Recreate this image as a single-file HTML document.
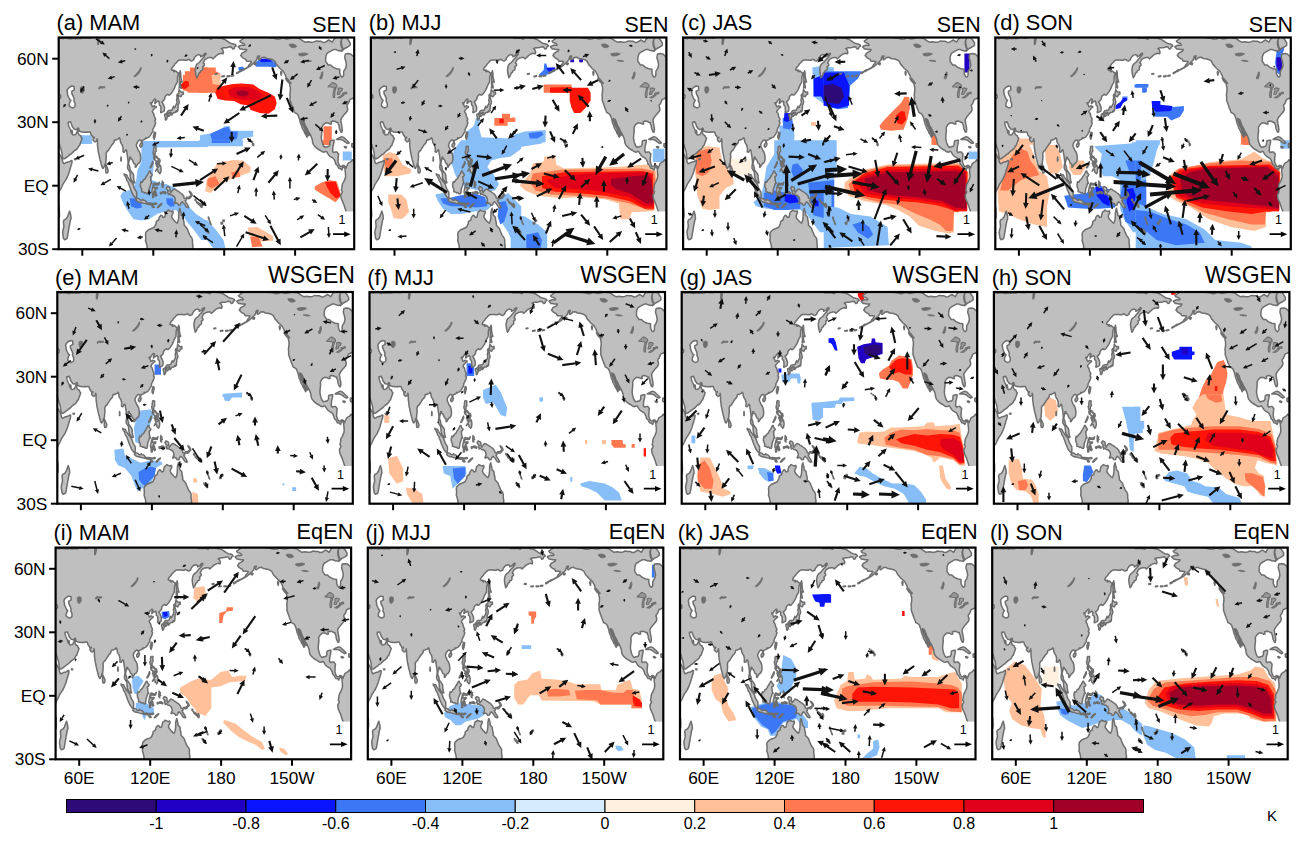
<!DOCTYPE html><html><head><meta charset="utf-8"><style>html,body{margin:0;padding:0;background:#fff;}svg{display:block;font-family:"Liberation Sans",sans-serif;}</style></head><body>
<svg width="1308" height="844" viewBox="0 0 1308 844">
<defs>
<clipPath id="cp"><rect x="0" y="0" width="295.5" height="211.7"/></clipPath>
<marker id="ah" viewBox="0 0 10 10" refX="9" refY="5" markerWidth="4" markerHeight="4" orient="auto" markerUnits="strokeWidth"><path d="M0,1L10,5L0,9z" fill="#000"/></marker>
<path id="lf" d="M-11.8,222.3 -5.9,222.3 -5.3,199.0 -5.6,194.8 -5.9,190.5 -4.1,188.4 -2.4,185.2 -0.6,183.1 0.6,179.9 0.8,177.8 0.6,171.5 -0.2,167.2 -0.8,163.0 -1.3,160.9 -0.9,158.1 0.0,155.6 0.9,153.1 1.9,151.8 3.0,149.5 4.1,146.9 5.9,144.2 7.7,141.4 9.2,138.0 10.4,134.9 11.3,131.7 12.4,128.1 13.1,126.0 13.4,123.2 12.4,123.0 10.6,124.3 8.3,124.7 6.5,125.7 5.1,126.2 3.9,124.3 3.7,122.4 2.8,120.2 1.9,118.8 1.1,117.1 0.0,115.4 -0.8,114.5 -3.5,108.0 -4.1,93.6 -3.0,97.0 -1.8,99.5 -1.1,102.0 -0.2,104.8 0.8,107.3 1.7,110.1 2.6,112.8 3.2,115.4 3.4,117.5 3.8,120.0 4.1,121.3 5.3,121.3 6.1,121.1 7.7,119.8 9.5,118.6 11.2,117.1 13.0,116.0 14.4,114.5 16.0,113.0 17.7,112.0 19.3,110.3 20.1,108.4 21.0,107.8 21.9,105.0 22.8,102.9 23.4,100.8 22.5,99.9 22.0,98.2 21.0,97.8 20.1,97.0 19.4,95.5 19.3,93.6 19.4,92.5 18.9,92.7 18.3,94.2 17.1,96.7 16.0,97.2 14.4,97.4 13.7,96.7 13.7,94.6 13.4,92.9 13.0,93.6 12.8,95.7 12.2,94.2 11.9,92.3 11.2,91.0 10.5,89.5 9.9,87.9 9.5,86.2 9.5,84.7 10.2,84.7 10.9,84.5 11.8,84.3 12.3,85.7 12.9,86.8 13.4,88.7 14.2,89.8 15.4,91.5 16.5,91.9 17.5,92.1 18.4,91.5 19.3,90.6 20.0,91.0 20.4,93.1 21.0,93.8 22.5,94.4 24.2,94.6 25.5,94.8 26.6,94.8 27.8,94.6 29.0,94.8 30.1,94.4 31.4,94.4 32.0,95.7 32.5,97.4 33.3,98.2 33.9,99.3 34.3,99.9 35.7,99.7 35.5,100.6 34.5,101.0 34.3,102.3 35.2,103.5 36.3,104.4 37.2,103.9 38.1,103.1 38.4,101.2 38.7,102.7 38.8,104.8 38.8,107.5 39.0,109.4 39.4,112.2 39.6,114.3 40.1,116.4 40.5,118.6 41.0,120.7 41.4,122.4 42.0,124.3 42.4,126.2 42.9,128.1 43.5,130.0 44.3,131.0 44.9,130.2 45.3,129.1 46.3,128.5 46.1,126.6 47.0,126.2 47.2,123.8 47.5,120.7 47.6,118.6 47.4,116.0 48.0,114.5 48.7,113.5 49.9,112.8 50.1,112.0 51.4,110.1 52.5,108.4 53.2,107.3 54.4,106.1 55.3,104.8 55.6,102.9 56.5,102.3 57.3,102.5 58.5,101.8 59.7,101.4 60.5,100.3 61.2,101.0 61.6,103.3 61.8,104.6 62.6,106.1 63.5,107.5 64.2,109.7 64.4,112.0 64.2,114.3 65.0,114.7 65.6,114.7 66.4,113.3 67.3,112.2 68.0,113.3 68.2,115.4 68.6,117.5 68.9,120.0 69.3,122.8 69.4,125.5 68.9,128.5 68.9,130.6 69.3,131.7 70.1,132.9 71.2,134.6 71.4,137.2 71.7,139.7 72.2,141.8 73.0,143.1 74.1,144.4 75.1,145.4 76.0,145.2 75.4,142.9 74.9,140.1 74.9,137.8 74.1,135.9 73.3,135.1 72.5,133.6 71.5,132.7 71.2,130.6 70.8,128.7 70.0,127.2 70.0,125.3 70.3,123.8 70.8,122.2 70.9,120.7 71.3,119.6 72.0,119.8 72.0,121.3 72.9,121.5 73.6,122.4 74.2,123.6 74.6,124.9 75.2,126.0 76.1,126.2 76.6,127.4 76.6,129.8 77.2,129.6 77.9,128.1 78.6,127.4 79.1,126.2 79.9,126.0 80.8,125.1 81.4,124.1 81.8,122.8 82.0,121.1 81.9,119.4 81.6,116.9 81.2,115.6 80.6,114.3 79.9,113.3 79.2,112.0 78.6,110.5 78.0,109.2 77.7,108.2 77.8,106.7 78.2,105.8 78.8,104.6 79.5,103.7 80.4,102.7 81.1,102.3 81.8,102.7 82.5,102.9 82.6,104.6 83.0,105.2 83.3,105.0 83.3,103.3 84.2,102.7 84.9,102.3 85.8,102.0 86.6,101.4 87.0,100.3 87.7,101.0 88.6,100.3 89.6,99.9 90.4,99.5 91.3,98.4 92.0,97.4 92.7,96.3 93.1,95.3 93.9,94.4 94.1,93.1 94.2,91.7 94.8,90.8 95.4,89.3 96.0,88.5 96.3,87.2 96.8,86.0 96.9,84.7 96.1,84.0 96.3,83.0 96.8,82.4 96.7,81.1 96.0,79.8 95.6,79.0 95.3,77.5 94.8,75.8 94.0,74.9 93.6,74.1 94.2,72.8 94.9,72.0 95.6,71.1 96.5,70.3 97.5,69.9 97.5,69.0 96.3,68.8 95.4,68.2 94.3,69.2 93.6,69.4 93.3,68.4 92.9,67.3 92.0,66.3 91.7,65.4 92.3,65.2 93.3,65.4 94.0,63.9 94.8,62.9 95.7,61.8 96.7,61.6 97.2,62.5 96.5,63.7 96.1,64.6 96.5,65.2 96.1,66.1 96.6,65.8 97.2,65.0 98.1,64.4 99.1,63.9 99.8,63.5 100.2,64.4 100.8,64.8 100.6,66.1 100.8,67.7 101.8,68.4 102.2,69.9 102.2,71.3 102.4,72.8 102.0,74.1 102.1,75.2 103.1,74.9 103.7,74.5 104.6,74.1 105.4,73.7 105.7,72.4 105.8,70.9 105.7,69.6 105.2,68.4 104.6,66.9 104.0,65.6 103.4,64.8 103.5,63.9 104.4,63.5 105.2,62.5 106.0,61.6 106.1,60.1 106.7,58.6 107.4,58.0 108.2,57.4 109.1,56.7 109.9,57.6 110.9,57.6 111.9,56.5 112.9,55.3 113.9,53.8 115.0,52.1 115.8,50.4 116.4,48.7 117.0,47.4 118.0,45.7 118.6,44.5 118.8,42.3 118.8,40.2 119.1,38.3 119.7,37.0 119.5,35.6 118.6,34.9 117.7,33.9 116.7,33.4 115.6,34.3 114.9,33.9 115.4,32.8 114.4,32.6 113.5,32.8 112.6,32.2 113.0,30.7 114.2,29.2 115.4,27.9 116.4,26.3 117.6,25.2 118.9,23.7 120.2,22.7 121.5,22.4 122.9,22.4 124.7,22.4 126.5,22.7 128.2,22.7 129.5,21.8 130.7,22.2 131.8,23.1 133.0,23.5 134.0,22.9 135.1,22.4 135.2,21.4 135.9,20.1 137.1,18.6 138.3,17.6 139.7,17.1 141.1,17.4 142.2,18.2 142.0,19.3 143.5,18.6 144.6,17.8 145.5,16.5 146.0,15.9 147.0,15.7 147.4,16.3 146.8,17.4 146.0,18.4 145.0,19.9 143.8,21.0 142.5,22.4 141.6,23.7 140.4,25.0 139.0,26.0 138.1,26.9 137.3,28.4 136.9,30.3 136.6,32.4 136.8,34.7 137.2,37.0 137.8,39.4 137.9,40.2 138.9,39.0 139.9,36.8 140.3,35.6 141.6,34.7 142.0,33.4 143.8,32.4 144.3,30.7 144.0,29.2 144.8,28.6 145.7,27.9 145.6,26.3 144.6,25.6 144.8,24.6 145.7,23.3 146.3,21.8 147.5,21.4 148.7,20.5 149.9,20.3 150.9,20.1 153.1,20.1 154.1,21.4 155.4,20.3 156.6,19.1 157.8,18.0 159.0,17.1 160.8,16.3 162.5,15.7 164.3,16.3 164.8,15.0 164.3,13.1 163.5,11.6 162.5,11.2 163.7,10.6 165.5,10.2 167.3,10.2 169.0,9.9 170.8,9.3 172.6,9.5 174.1,11.6 175.5,11.0 175.9,9.3 177.5,8.5 176.7,7.2 174.9,6.4 172.6,6.1 170.8,5.1 169.0,3.8 166.7,2.3 164.3,1.3 160.8,0.6 157.2,0.2 154.3,-0.2 152.5,1.7 150.1,0.8 146.6,0.6 143.0,0.8 140.7,-1.3 135.9,-2.1 130.0,-3.2 118.2,-5.3 106.4,-6.4 88.6,-8.5 70.9,-14.8 59.1,-12.7 53.2,-8.5 50.8,-2.1 50.2,0.0 48.5,-2.1 47.3,-5.3 44.9,-5.3 41.4,-5.3 40.5,3.2 39.7,6.8 39.1,6.8 39.2,3.2 39.5,0.0 39.6,-4.2 35.5,-6.4 33.7,-2.1 31.9,0.4 30.7,0.8 28.4,0.6 24.2,0.2 22.5,1.1 18.9,0.8 16.5,1.3 14.2,0.8 11.8,1.5 9.5,1.1 7.1,0.8 5.3,0.6 4.1,1.3 1.2,0.6 0.0,0.8 -3.5,0.6 -8.3,0.4 -11.8,0.0 -11.8,222.3ZM179.5,9.3 181.4,11.4 182.7,11.6 185.0,12.1 187.9,12.1 187.3,13.5 186.8,13.8 184.4,15.2 183.2,15.9 182.6,17.4 182.0,18.0 183.8,20.1 185.6,21.2 186.8,21.6 187.9,23.7 190.3,23.7 192.7,23.9 192.1,25.4 190.3,27.5 189.1,29.6 186.8,30.9 185.0,31.8 183.8,32.6 184.4,32.6 186.8,31.3 189.1,30.1 191.5,28.6 193.8,26.5 196.2,24.3 198.0,22.2 198.6,20.1 199.2,18.6 200.9,18.6 199.8,20.5 200.1,22.0 200.9,22.2 203.3,20.1 205.7,19.7 208.0,21.0 211.6,21.6 213.9,22.2 216.3,23.9 216.9,25.4 217.8,27.1 219.3,28.6 221.0,30.7 223.4,32.8 224.6,33.9 225.8,36.0 226.9,38.1 227.5,40.2 228.1,41.3 229.9,42.8 231.1,44.5 231.3,45.7 230.8,46.2 231.7,50.4 231.7,52.9 231.3,56.1 231.1,57.6 231.4,59.3 231.3,62.7 232.0,64.6 232.9,67.3 233.4,68.4 233.8,69.9 234.2,70.9 235.0,72.6 235.7,74.9 237.0,75.6 238.1,76.2 239.1,77.1 239.7,78.5 240.3,80.0 240.9,82.1 241.4,84.3 241.7,85.7 242.5,87.4 243.1,88.9 243.3,90.2 244.1,91.7 245.3,93.6 246.0,95.7 247.0,96.7 247.6,98.2 248.3,99.7 248.7,98.9 248.5,97.4 247.9,96.7 247.4,95.3 246.8,93.1 246.1,91.2 245.3,89.8 244.7,88.3 244.1,86.8 243.4,85.1 242.7,83.0 242.5,81.1 243.0,81.3 244.1,81.9 245.0,83.6 245.7,85.5 246.4,87.9 247.4,89.5 248.6,91.5 249.6,94.0 250.6,95.5 251.8,97.6 252.8,99.9 253.7,102.5 253.8,104.6 254.7,107.1 255.9,108.6 257.1,109.9 258.3,110.9 260.0,112.0 261.8,113.0 263.6,114.3 265.4,114.7 266.5,114.1 267.7,113.9 268.9,115.8 270.1,117.7 271.3,118.8 273.0,119.8 274.6,120.9 275.4,121.9 276.6,124.3 276.9,126.0 277.5,127.0 278.4,127.7 279.0,128.7 279.7,130.2 280.1,130.8 281.3,131.0 282.5,131.5 283.2,132.5 283.7,131.0 284.3,129.6 284.9,129.1 286.0,130.4 286.4,131.9 286.5,133.8 286.8,136.3 286.9,138.7 286.6,140.6 285.7,142.7 284.9,144.6 284.0,145.9 283.6,147.1 283.3,149.2 283.1,150.7 282.7,152.8 283.7,154.1 283.2,155.6 282.1,157.5 282.4,159.8 282.7,161.5 283.9,164.1 285.2,167.2 286.0,169.8 286.9,172.5 287.8,175.3 288.3,177.8 289.2,179.9 290.2,181.6 291.6,183.1 292.7,184.2 294.0,185.9 295.1,187.4 295.3,190.5 295.4,194.8 295.0,197.9 294.9,202.2 294.6,206.4 294.0,210.6 293.7,213.8 307.3,213.8 307.3,124.9 296.1,124.5 295.5,122.8 294.3,123.2 293.7,122.2 292.8,123.6 292.0,124.3 290.8,124.9 289.9,125.5 289.0,126.4 288.6,127.9 287.8,128.9 287.5,130.6 286.9,129.8 286.0,128.5 285.5,128.1 284.3,127.9 283.3,128.7 282.5,129.1 281.7,129.1 280.7,128.1 279.8,125.7 279.3,123.8 279.4,121.1 279.7,118.1 279.9,116.4 279.0,115.6 278.4,114.5 276.8,114.5 274.8,115.0 273.9,113.7 274.0,111.6 274.2,109.2 274.8,106.9 275.2,105.0 275.4,102.7 274.2,102.7 272.5,103.1 271.5,103.5 271.2,105.2 271.3,106.9 270.1,109.0 268.9,109.0 268.3,109.2 266.5,109.9 265.0,108.6 264.2,106.9 263.6,105.2 263.2,103.7 262.8,101.6 262.6,100.6 262.9,96.3 263.2,94.2 263.3,93.1 263.1,90.0 263.7,88.9 264.2,87.9 265.1,86.8 265.9,86.2 267.1,85.3 268.3,85.5 269.5,85.5 270.7,86.2 271.3,86.6 272.8,86.4 272.6,85.3 272.3,84.3 273.3,83.8 274.2,83.6 275.8,83.8 276.6,84.0 278.4,85.1 279.3,84.9 279.5,86.2 280.4,88.3 280.5,90.0 281.1,92.1 281.6,93.1 282.3,94.6 283.0,94.8 283.3,93.8 283.6,92.1 283.4,90.4 283.1,88.5 282.6,86.2 282.3,84.0 282.0,82.6 282.6,81.1 283.4,79.8 284.6,78.3 285.5,77.1 286.3,76.2 287.2,75.2 288.4,73.7 289.0,72.0 288.8,70.3 288.2,68.8 288.4,67.3 289.0,66.7 289.6,66.1 289.9,65.0 290.5,64.1 290.8,62.5 292.0,61.6 293.1,61.2 294.6,60.5 295.5,59.9 296.1,59.3 307.3,59.3 307.3,25.4 296.7,20.1 295.5,19.9 294.3,18.6 292.0,16.5 289.6,16.1 286.6,16.5 286.0,20.1 287.2,24.3 287.7,27.5 286.9,30.7 285.0,33.9 284.9,38.1 283.7,39.6 282.5,39.2 281.1,36.0 281.0,31.8 277.8,31.3 274.2,29.6 271.9,27.5 269.5,27.5 266.9,23.7 267.1,19.1 268.3,15.9 271.0,14.2 273.0,13.1 274.8,12.1 277.2,12.1 279.5,13.1 281.3,13.5 283.1,13.1 284.0,11.6 282.9,9.9 282.3,7.4 282.1,4.2 283.0,1.5 284.3,-0.4 285.5,-2.1 279.0,-3.2 276.6,0.0 274.8,2.5 273.6,4.7 271.9,3.6 270.1,2.5 268.3,3.6 266.5,4.7 264.2,4.9 262.4,3.8 260.0,3.8 257.7,3.4 255.3,4.4 252.4,4.7 249.4,4.2 246.4,4.7 244.1,3.4 242.3,2.1 240.5,0.8 237.6,0.4 235.2,-0.2 232.9,0.6 230.5,1.1 228.1,1.5 225.8,0.8 223.4,0.4 221.0,1.5 218.7,1.7 216.3,1.1 213.9,0.6 211.6,0.4 209.2,-0.2 206.8,-0.6 203.3,-1.3 199.8,-1.9 196.2,-2.3 193.3,-3.0 190.3,-1.9 186.8,-0.8 184.4,1.1 182.6,2.5 181.1,3.6 182.0,4.9 183.8,5.5 185.0,5.9 186.2,7.4 185.0,8.0 183.8,7.6 182.0,8.0 180.3,8.7ZM11.0,173.6 12.1,177.8 12.4,181.0 11.6,183.1 11.1,185.9 10.4,189.5 9.7,193.7 9.0,197.9 8.4,200.9 7.1,201.8 5.9,202.2 4.7,200.7 4.3,197.9 3.9,194.8 4.5,191.6 5.2,189.5 5.0,186.3 4.7,184.2 5.3,182.5 6.5,181.9 7.7,181.0 8.9,179.3 9.5,177.4 10.4,174.9ZM47.2,127.4 47.6,128.1 48.5,130.2 49.4,132.3 49.3,134.4 48.5,135.5 47.4,135.3 47.0,133.4 47.0,130.6ZM95.7,94.6 96.8,95.1 96.7,97.0 96.1,99.9 95.5,101.8 94.8,100.1 94.7,98.4 95.4,96.1ZM83.6,105.6 83.9,106.5 83.3,108.4 82.1,109.7 81.2,109.0 81.1,107.3 81.9,106.1 83.0,105.6ZM106.0,76.8 107.0,76.4 107.8,77.1 108.4,77.9 108.5,79.8 107.9,81.7 107.2,82.6 106.6,81.9 106.6,80.0 106.1,79.0 105.9,77.7ZM109.3,76.6 109.9,75.8 111.3,75.6 111.9,76.6 111.3,77.7 110.2,78.8 109.5,78.5ZM107.4,76.2 108.4,74.9 109.5,73.2 110.5,73.0 111.7,72.8 112.8,72.8 113.4,72.4 113.8,71.3 114.3,70.1 114.9,68.8 115.0,70.3 116.1,69.9 116.8,68.2 117.6,66.9 118.1,65.4 118.2,63.7 117.8,62.5 118.3,61.0 118.9,61.0 119.6,60.5 120.0,62.2 120.6,64.4 120.1,66.5 119.4,67.3 119.4,69.2 119.3,70.7 119.0,72.0 119.3,72.6 118.6,73.9 118.0,74.3 117.8,73.2 117.3,73.7 116.8,74.9 116.2,74.9 114.9,74.9 114.5,75.6 113.8,76.4 113.1,77.5 112.4,76.4 112.6,75.2 111.8,74.7 110.5,75.2 109.3,75.8 108.4,76.2ZM118.2,60.3 118.6,58.9 118.0,58.2 118.7,56.5 119.9,56.5 120.1,54.4 120.4,52.1 121.4,53.6 122.7,54.8 124.5,54.4 124.7,56.5 123.2,57.2 122.1,59.3 121.2,58.9 120.0,58.0 119.3,58.2 119.5,59.7 118.8,60.3ZM120.4,50.6 120.8,48.1 120.6,45.5 120.8,42.8 120.7,40.2 120.9,37.0 120.3,35.4 121.2,34.9 121.5,33.2 122.0,35.6 122.1,39.2 122.7,42.3 123.4,44.5 122.0,44.0 121.6,46.6 122.3,49.5 122.2,50.6 121.3,49.5ZM95.3,109.0 96.1,108.8 97.3,109.0 97.2,111.6 97.5,113.7 96.5,114.7 96.3,117.5 97.2,118.6 98.1,119.0 99.3,120.7 99.4,121.5 98.3,120.7 97.6,119.6 96.7,119.0 95.6,119.4 95.3,117.9 94.7,116.6 94.3,114.3 94.9,113.9 95.0,111.1ZM94.9,119.6 96.1,119.8 96.3,121.7 95.9,122.4 95.3,121.5ZM94.0,124.1 94.2,126.0 93.1,128.1 92.1,130.0 91.3,130.4 91.7,129.1 92.8,127.0 93.6,124.9ZM99.6,121.7 100.8,121.5 101.4,123.8 100.8,125.3 99.6,127.0 100.2,125.3 99.6,123.8ZM96.8,123.0 98.3,123.8 98.0,126.0 96.9,126.0 97.6,124.5ZM97.4,125.1 98.7,125.1 98.5,128.5 98.0,128.9 97.6,127.4ZM99.1,124.3 99.4,125.7 98.8,128.1 98.5,127.7 98.9,126.0ZM96.9,133.4 98.1,131.5 98.9,130.0 100.2,129.1 101.1,127.4 101.9,128.5 102.4,131.9 102.0,134.9 101.1,136.3 100.7,135.3 99.5,134.6 99.3,132.7 98.7,131.9 97.9,132.5 96.9,133.6ZM82.3,144.2 81.7,147.1 81.9,149.5 83.0,151.8 82.9,154.3 84.5,154.5 85.7,155.4 86.9,155.0 88.1,156.2 89.7,156.2 90.2,153.5 90.5,150.9 91.6,148.2 92.1,146.1 93.1,145.9 92.2,143.3 92.0,141.0 91.7,139.3 92.8,138.7 93.6,137.2 92.1,135.5 91.4,133.6 90.7,133.6 90.0,135.1 89.2,136.5 88.6,137.6 87.8,138.7 87.3,139.7 86.3,141.4 84.9,142.3 84.3,143.5 83.4,144.8ZM65.4,136.3 66.5,137.2 68.0,137.2 68.9,139.3 70.3,141.4 71.9,143.7 72.7,144.6 73.9,146.1 74.6,147.6 75.3,150.1 76.1,151.6 76.8,152.8 77.8,154.3 78.0,156.7 77.8,160.5 76.9,160.5 76.2,159.8 75.4,158.8 74.2,157.1 73.6,155.6 72.5,153.3 72.0,152.0 71.4,150.3 70.7,148.2 70.0,146.5 69.4,144.6 68.2,143.1 67.6,141.0 66.7,139.1 65.6,137.6ZM77.1,162.6 78.0,160.7 79.2,160.9 80.7,161.5 81.6,162.6 83.2,162.8 83.9,161.7 84.7,162.6 85.8,162.8 86.9,163.4 87.9,164.7 88.1,166.6 86.9,166.0 85.1,165.8 83.3,165.3 81.6,164.7 80.4,164.7 78.6,163.9 77.4,162.8ZM88.2,165.3 89.8,165.8 91.0,165.5 92.8,165.8 94.0,166.0 95.7,166.0 97.5,165.5 98.1,166.2 96.9,166.8 95.2,166.8 93.4,166.8 91.6,167.2 90.1,167.0 88.9,166.8ZM93.4,168.1 94.9,168.5 95.5,169.8 94.3,170.0 93.3,168.9ZM98.7,170.0 99.9,168.5 101.1,167.2 103.1,166.0 102.8,166.8 101.1,168.5 99.9,169.8 99.1,170.2ZM93.9,160.0 93.9,156.7 93.1,154.5 93.5,152.0 94.3,148.4 94.7,146.9 95.7,145.4 97.5,146.1 99.3,146.3 100.7,144.8 100.0,147.3 98.5,147.6 96.8,147.1 95.5,147.3 94.9,149.2 95.5,150.5 96.5,150.1 97.6,149.9 98.6,150.1 98.0,151.4 96.7,151.6 96.2,152.6 97.2,154.5 97.4,156.2 98.2,157.7 97.4,158.6 96.5,157.7 95.9,156.0 95.7,153.9 95.0,154.3 94.8,155.6 95.0,159.8ZM103.5,143.5 104.1,145.6 104.8,145.0 104.3,146.5 105.1,147.6 104.4,147.8 103.9,149.0 104.3,150.1 103.4,149.5 103.3,146.9ZM104.0,154.3 105.8,154.1 107.3,155.4 107.0,156.2 105.2,155.4 104.3,155.6ZM101.7,155.0 102.8,154.8 103.1,155.8 102.2,156.4 101.7,155.8ZM107.6,150.7 108.7,149.0 110.5,149.7 111.2,150.3 111.5,153.5 112.3,155.2 112.9,153.9 113.9,152.8 115.2,151.4 116.8,152.0 118.2,153.1 119.4,153.7 121.2,155.0 122.7,156.0 123.6,156.9 125.1,158.8 125.3,160.5 127.1,160.9 127.4,162.6 126.5,163.0 127.4,165.1 128.8,167.2 130.1,169.8 129.4,170.2 127.7,169.6 126.5,167.9 125.5,166.2 123.5,164.3 122.3,165.5 121.7,167.5 120.0,167.7 118.8,166.0 117.0,165.3 116.2,166.0 115.4,166.0 116.1,164.1 116.7,162.8 116.0,159.8 114.1,157.9 112.3,157.5 110.6,156.0 109.7,156.9 108.9,154.3 109.9,153.3 109.0,152.8 107.9,151.4ZM128.0,159.8 129.4,159.8 130.6,159.4 131.8,158.4 132.7,157.1 132.6,158.8 131.2,160.7 130.0,161.3 128.2,160.7ZM130.6,153.7 131.8,154.5 133.0,156.2 133.6,157.9 133.2,158.4 132.3,156.7 131.1,155.0ZM136.5,161.5 137.3,162.2 137.1,163.2 136.3,162.6ZM137.7,163.9 139.5,165.1 141.2,166.6 142.4,167.9 141.8,168.5 140.1,167.0 138.3,165.5ZM141.6,167.7 142.8,168.1 143.6,169.4 143.0,170.0 141.8,168.9ZM142.5,165.8 143.6,167.7 143.4,168.5 142.5,166.8ZM146.6,191.0 147.8,191.8 149.5,193.9 150.2,195.6 149.6,195.6 148.0,193.7 146.8,192.0ZM149.6,179.5 150.4,180.4 150.5,182.5 151.8,185.4 152.4,187.1 151.7,186.3 150.9,183.3 149.8,181.2ZM162.3,185.0 163.7,184.8 163.8,186.5 162.4,186.5ZM164.2,182.7 165.5,182.5 165.7,183.5 164.3,184.0ZM15.7,121.5 17.1,121.3 16.9,122.2 16.0,122.2ZM62.3,119.4 62.6,121.7 62.4,123.6 62.1,123.4 62.2,121.1ZM86.3,213.8 88.6,213.8 88.5,210.6 88.2,207.9 87.5,205.3 86.8,203.2 87.1,200.1 86.8,196.9 87.2,194.8 87.7,194.3 89.8,192.2 92.2,191.2 94.0,190.5 95.7,189.5 97.3,186.3 97.5,184.2 98.7,183.1 99.8,182.7 100.5,179.9 102.2,177.8 103.4,178.3 104.4,179.9 106.0,179.5 106.7,176.3 107.3,174.4 108.7,173.6 109.5,172.5 110.5,173.2 111.7,173.6 112.9,174.0 114.1,173.4 114.5,174.9 114.1,176.1 113.4,177.2 112.9,179.3 113.7,181.0 115.0,182.5 116.2,183.8 117.4,185.0 118.4,185.7 119.5,183.1 120.0,179.9 120.1,176.8 120.1,174.7 120.6,172.5 121.2,170.8 121.7,173.2 122.3,175.3 122.5,177.8 123.5,178.5 124.5,179.9 124.7,182.5 125.3,184.8 125.5,187.8 127.1,189.5 128.6,191.2 129.4,193.7 130.4,195.8 131.2,197.9 133.0,200.3 133.8,202.2 133.8,206.0 134.3,208.9 133.9,211.7 133.6,213.8ZM277.8,101.8 280.7,100.1 283.1,99.3 284.9,99.9 287.2,102.0 289.6,104.2 290.5,105.4 289.0,106.1 286.6,104.6 284.3,102.7 281.3,101.8 278.4,102.0ZM293.1,109.0 293.1,106.3 295.5,106.1 297.3,108.0 297.3,109.7 295.5,109.7 293.7,109.7ZM285.6,109.2 286.6,109.0 287.9,109.7 287.2,110.5 285.8,109.9ZM194.1,105.4 195.1,106.7 194.9,107.8 194.3,108.2 193.8,106.5ZM193.0,103.7 193.7,104.2 193.4,104.6ZM191.2,102.5 191.8,102.9 191.5,103.3ZM189.5,101.2 189.8,101.6 189.5,101.8ZM226.9,40.6 228.7,41.3 230.5,43.8 232.3,45.7 231.1,45.9 229.5,44.9 227.5,42.3ZM222.2,33.9 223.0,34.9 222.6,37.7 222.0,35.6ZM195.6,25.4 197.4,25.8 196.8,27.3 195.6,26.9ZM181.4,33.4 183.4,32.2 183.6,33.0 181.8,34.1ZM177.9,35.4 180.3,34.1 180.4,34.9 178.1,36.2ZM172.6,38.1 174.9,37.7 174.9,38.3 172.6,38.7ZM168.4,38.5 170.8,38.3 170.8,39.0 168.4,39.2ZM163.1,38.7 165.5,38.3 165.5,39.0 163.1,39.2ZM156.6,36.2 158.4,36.0 158.4,36.6 156.6,36.8ZM11.2,49.5 13.0,48.5 15.4,49.1 15.6,52.3 13.0,53.8 13.2,56.1 14.8,59.3 15.4,61.4 15.2,63.5 16.3,65.6 16.4,69.0 14.2,70.5 12.4,69.9 10.6,68.6 10.5,66.7 11.2,64.6 12.2,62.7 11.2,62.2 10.0,59.7 8.9,57.2 8.7,55.0 8.3,53.3 8.9,51.7 10.0,50.4ZM-4.7,61.4 0.0,61.4 1.8,60.3 2.0,58.2 1.2,57.2 0.0,56.5 -3.5,53.3ZM283.1,13.8 286.0,11.0 289.0,9.5 291.4,7.8 291.4,5.3 289.6,2.5 287.2,-0.4 284.9,-2.1 283.7,0.0 282.7,2.5 282.7,5.9 283.4,8.9 284.3,11.4Z" fill="#bfbfbf" fill-rule="evenodd" stroke="none"/>
<path id="lc" d="M-11.8,222.3 -5.9,222.3 -5.3,199.0 -5.6,194.8 -5.9,190.5 -4.1,188.4 -2.4,185.2 -0.6,183.1 0.6,179.9 0.8,177.8 0.6,171.5 -0.2,167.2 -0.8,163.0 -1.3,160.9 -0.9,158.1 0.0,155.6 0.9,153.1 1.9,151.8 3.0,149.5 4.1,146.9 5.9,144.2 7.7,141.4 9.2,138.0 10.4,134.9 11.3,131.7 12.4,128.1 13.1,126.0 13.4,123.2 12.4,123.0 10.6,124.3 8.3,124.7 6.5,125.7 5.1,126.2 3.9,124.3 3.7,122.4 2.8,120.2 1.9,118.8 1.1,117.1 0.0,115.4 -0.8,114.5 -3.5,108.0 -4.1,93.6 -3.0,97.0 -1.8,99.5 -1.1,102.0 -0.2,104.8 0.8,107.3 1.7,110.1 2.6,112.8 3.2,115.4 3.4,117.5 3.8,120.0 4.1,121.3 5.3,121.3 6.1,121.1 7.7,119.8 9.5,118.6 11.2,117.1 13.0,116.0 14.4,114.5 16.0,113.0 17.7,112.0 19.3,110.3 20.1,108.4 21.0,107.8 21.9,105.0 22.8,102.9 23.4,100.8 22.5,99.9 22.0,98.2 21.0,97.8 20.1,97.0 19.4,95.5 19.3,93.6 19.4,92.5 18.9,92.7 18.3,94.2 17.1,96.7 16.0,97.2 14.4,97.4 13.7,96.7 13.7,94.6 13.4,92.9 13.0,93.6 12.8,95.7 12.2,94.2 11.9,92.3 11.2,91.0 10.5,89.5 9.9,87.9 9.5,86.2 9.5,84.7 10.2,84.7 10.9,84.5 11.8,84.3 12.3,85.7 12.9,86.8 13.4,88.7 14.2,89.8 15.4,91.5 16.5,91.9 17.5,92.1 18.4,91.5 19.3,90.6 20.0,91.0 20.4,93.1 21.0,93.8 22.5,94.4 24.2,94.6 25.5,94.8 26.6,94.8 27.8,94.6 29.0,94.8 30.1,94.4 31.4,94.4 32.0,95.7 32.5,97.4 33.3,98.2 33.9,99.3 34.3,99.9 35.7,99.7 35.5,100.6 34.5,101.0 34.3,102.3 35.2,103.5 36.3,104.4 37.2,103.9 38.1,103.1 38.4,101.2 38.7,102.7 38.8,104.8 38.8,107.5 39.0,109.4 39.4,112.2 39.6,114.3 40.1,116.4 40.5,118.6 41.0,120.7 41.4,122.4 42.0,124.3 42.4,126.2 42.9,128.1 43.5,130.0 44.3,131.0 44.9,130.2 45.3,129.1 46.3,128.5 46.1,126.6 47.0,126.2 47.2,123.8 47.5,120.7 47.6,118.6 47.4,116.0 48.0,114.5 48.7,113.5 49.9,112.8 50.1,112.0 51.4,110.1 52.5,108.4 53.2,107.3 54.4,106.1 55.3,104.8 55.6,102.9 56.5,102.3 57.3,102.5 58.5,101.8 59.7,101.4 60.5,100.3 61.2,101.0 61.6,103.3 61.8,104.6 62.6,106.1 63.5,107.5 64.2,109.7 64.4,112.0 64.2,114.3 65.0,114.7 65.6,114.7 66.4,113.3 67.3,112.2 68.0,113.3 68.2,115.4 68.6,117.5 68.9,120.0 69.3,122.8 69.4,125.5 68.9,128.5 68.9,130.6 69.3,131.7 70.1,132.9 71.2,134.6 71.4,137.2 71.7,139.7 72.2,141.8 73.0,143.1 74.1,144.4 75.1,145.4 76.0,145.2 75.4,142.9 74.9,140.1 74.9,137.8 74.1,135.9 73.3,135.1 72.5,133.6 71.5,132.7 71.2,130.6 70.8,128.7 70.0,127.2 70.0,125.3 70.3,123.8 70.8,122.2 70.9,120.7 71.3,119.6 72.0,119.8 72.0,121.3 72.9,121.5 73.6,122.4 74.2,123.6 74.6,124.9 75.2,126.0 76.1,126.2 76.6,127.4 76.6,129.8 77.2,129.6 77.9,128.1 78.6,127.4 79.1,126.2 79.9,126.0 80.8,125.1 81.4,124.1 81.8,122.8 82.0,121.1 81.9,119.4 81.6,116.9 81.2,115.6 80.6,114.3 79.9,113.3 79.2,112.0 78.6,110.5 78.0,109.2 77.7,108.2 77.8,106.7 78.2,105.8 78.8,104.6 79.5,103.7 80.4,102.7 81.1,102.3 81.8,102.7 82.5,102.9 82.6,104.6 83.0,105.2 83.3,105.0 83.3,103.3 84.2,102.7 84.9,102.3 85.8,102.0 86.6,101.4 87.0,100.3 87.7,101.0 88.6,100.3 89.6,99.9 90.4,99.5 91.3,98.4 92.0,97.4 92.7,96.3 93.1,95.3 93.9,94.4 94.1,93.1 94.2,91.7 94.8,90.8 95.4,89.3 96.0,88.5 96.3,87.2 96.8,86.0 96.9,84.7 96.1,84.0 96.3,83.0 96.8,82.4 96.7,81.1 96.0,79.8 95.6,79.0 95.3,77.5 94.8,75.8 94.0,74.9 93.6,74.1 94.2,72.8 94.9,72.0 95.6,71.1 96.5,70.3 97.5,69.9 97.5,69.0 96.3,68.8 95.4,68.2 94.3,69.2 93.6,69.4 93.3,68.4 92.9,67.3 92.0,66.3 91.7,65.4 92.3,65.2 93.3,65.4 94.0,63.9 94.8,62.9 95.7,61.8 96.7,61.6 97.2,62.5 96.5,63.7 96.1,64.6 96.5,65.2 96.1,66.1 96.6,65.8 97.2,65.0 98.1,64.4 99.1,63.9 99.8,63.5 100.2,64.4 100.8,64.8 100.6,66.1 100.8,67.7 101.8,68.4 102.2,69.9 102.2,71.3 102.4,72.8 102.0,74.1 102.1,75.2 103.1,74.9 103.7,74.5 104.6,74.1 105.4,73.7 105.7,72.4 105.8,70.9 105.7,69.6 105.2,68.4 104.6,66.9 104.0,65.6 103.4,64.8 103.5,63.9 104.4,63.5 105.2,62.5 106.0,61.6 106.1,60.1 106.7,58.6 107.4,58.0 108.2,57.4 109.1,56.7 109.9,57.6 110.9,57.6 111.9,56.5 112.9,55.3 113.9,53.8 115.0,52.1 115.8,50.4 116.4,48.7 117.0,47.4 118.0,45.7 118.6,44.5 118.8,42.3 118.8,40.2 119.1,38.3 119.7,37.0 119.5,35.6 118.6,34.9 117.7,33.9 116.7,33.4 115.6,34.3 114.9,33.9 115.4,32.8 114.4,32.6 113.5,32.8 112.6,32.2 113.0,30.7 114.2,29.2 115.4,27.9 116.4,26.3 117.6,25.2 118.9,23.7 120.2,22.7 121.5,22.4 122.9,22.4 124.7,22.4 126.5,22.7 128.2,22.7 129.5,21.8 130.7,22.2 131.8,23.1 133.0,23.5 134.0,22.9 135.1,22.4 135.2,21.4 135.9,20.1 137.1,18.6 138.3,17.6 139.7,17.1 141.1,17.4 142.2,18.2 142.0,19.3 143.5,18.6 144.6,17.8 145.5,16.5 146.0,15.9 147.0,15.7 147.4,16.3 146.8,17.4 146.0,18.4 145.0,19.9 143.8,21.0 142.5,22.4 141.6,23.7 140.4,25.0 139.0,26.0 138.1,26.9 137.3,28.4 136.9,30.3 136.6,32.4 136.8,34.7 137.2,37.0 137.8,39.4 137.9,40.2 138.9,39.0 139.9,36.8 140.3,35.6 141.6,34.7 142.0,33.4 143.8,32.4 144.3,30.7 144.0,29.2 144.8,28.6 145.7,27.9 145.6,26.3 144.6,25.6 144.8,24.6 145.7,23.3 146.3,21.8 147.5,21.4 148.7,20.5 149.9,20.3 150.9,20.1 153.1,20.1 154.1,21.4 155.4,20.3 156.6,19.1 157.8,18.0 159.0,17.1 160.8,16.3 162.5,15.7 164.3,16.3 164.8,15.0 164.3,13.1 163.5,11.6 162.5,11.2 163.7,10.6 165.5,10.2 167.3,10.2 169.0,9.9 170.8,9.3 172.6,9.5 174.1,11.6 175.5,11.0 175.9,9.3 177.5,8.5 176.7,7.2 174.9,6.4 172.6,6.1 170.8,5.1 169.0,3.8 166.7,2.3 164.3,1.3 160.8,0.6 157.2,0.2 154.3,-0.2 152.5,1.7 150.1,0.8 146.6,0.6 143.0,0.8 140.7,-1.3 135.9,-2.1 130.0,-3.2 118.2,-5.3 106.4,-6.4 88.6,-8.5 70.9,-14.8 59.1,-12.7 53.2,-8.5 50.8,-2.1 50.2,0.0 48.5,-2.1 47.3,-5.3 44.9,-5.3 41.4,-5.3 40.5,3.2 39.7,6.8 39.1,6.8 39.2,3.2 39.5,0.0 39.6,-4.2 35.5,-6.4 33.7,-2.1 31.9,0.4 30.7,0.8 28.4,0.6 24.2,0.2 22.5,1.1 18.9,0.8 16.5,1.3 14.2,0.8 11.8,1.5 9.5,1.1 7.1,0.8 5.3,0.6 4.1,1.3 1.2,0.6 0.0,0.8 -3.5,0.6 -8.3,0.4 -11.8,0.0 -11.8,222.3ZM179.5,9.3 181.4,11.4 182.7,11.6 185.0,12.1 187.9,12.1 187.3,13.5 186.8,13.8 184.4,15.2 183.2,15.9 182.6,17.4 182.0,18.0 183.8,20.1 185.6,21.2 186.8,21.6 187.9,23.7 190.3,23.7 192.7,23.9 192.1,25.4 190.3,27.5 189.1,29.6 186.8,30.9 185.0,31.8 183.8,32.6 184.4,32.6 186.8,31.3 189.1,30.1 191.5,28.6 193.8,26.5 196.2,24.3 198.0,22.2 198.6,20.1 199.2,18.6 200.9,18.6 199.8,20.5 200.1,22.0 200.9,22.2 203.3,20.1 205.7,19.7 208.0,21.0 211.6,21.6 213.9,22.2 216.3,23.9 216.9,25.4 217.8,27.1 219.3,28.6 221.0,30.7 223.4,32.8 224.6,33.9 225.8,36.0 226.9,38.1 227.5,40.2 228.1,41.3 229.9,42.8 231.1,44.5 231.3,45.7 230.8,46.2 231.7,50.4 231.7,52.9 231.3,56.1 231.1,57.6 231.4,59.3 231.3,62.7 232.0,64.6 232.9,67.3 233.4,68.4 233.8,69.9 234.2,70.9 235.0,72.6 235.7,74.9 237.0,75.6 238.1,76.2 239.1,77.1 239.7,78.5 240.3,80.0 240.9,82.1 241.4,84.3 241.7,85.7 242.5,87.4 243.1,88.9 243.3,90.2 244.1,91.7 245.3,93.6 246.0,95.7 247.0,96.7 247.6,98.2 248.3,99.7 248.7,98.9 248.5,97.4 247.9,96.7 247.4,95.3 246.8,93.1 246.1,91.2 245.3,89.8 244.7,88.3 244.1,86.8 243.4,85.1 242.7,83.0 242.5,81.1 243.0,81.3 244.1,81.9 245.0,83.6 245.7,85.5 246.4,87.9 247.4,89.5 248.6,91.5 249.6,94.0 250.6,95.5 251.8,97.6 252.8,99.9 253.7,102.5 253.8,104.6 254.7,107.1 255.9,108.6 257.1,109.9 258.3,110.9 260.0,112.0 261.8,113.0 263.6,114.3 265.4,114.7 266.5,114.1 267.7,113.9 268.9,115.8 270.1,117.7 271.3,118.8 273.0,119.8 274.6,120.9 275.4,121.9 276.6,124.3 276.9,126.0 277.5,127.0 278.4,127.7 279.0,128.7 279.7,130.2 280.1,130.8 281.3,131.0 282.5,131.5 283.2,132.5 283.7,131.0 284.3,129.6 284.9,129.1 286.0,130.4 286.4,131.9 286.5,133.8 286.8,136.3 286.9,138.7 286.6,140.6 285.7,142.7 284.9,144.6 284.0,145.9 283.6,147.1 283.3,149.2 283.1,150.7 282.7,152.8 283.7,154.1 283.2,155.6 282.1,157.5 282.4,159.8 282.7,161.5 283.9,164.1 285.2,167.2 286.0,169.8 286.9,172.5 287.8,175.3 288.3,177.8 289.2,179.9 290.2,181.6 291.6,183.1 292.7,184.2 294.0,185.9 295.1,187.4 295.3,190.5 295.4,194.8 295.0,197.9 294.9,202.2 294.6,206.4 294.0,210.6 293.7,213.8 307.3,213.8 307.3,124.9 296.1,124.5 295.5,122.8 294.3,123.2 293.7,122.2 292.8,123.6 292.0,124.3 290.8,124.9 289.9,125.5 289.0,126.4 288.6,127.9 287.8,128.9 287.5,130.6 286.9,129.8 286.0,128.5 285.5,128.1 284.3,127.9 283.3,128.7 282.5,129.1 281.7,129.1 280.7,128.1 279.8,125.7 279.3,123.8 279.4,121.1 279.7,118.1 279.9,116.4 279.0,115.6 278.4,114.5 276.8,114.5 274.8,115.0 273.9,113.7 274.0,111.6 274.2,109.2 274.8,106.9 275.2,105.0 275.4,102.7 274.2,102.7 272.5,103.1 271.5,103.5 271.2,105.2 271.3,106.9 270.1,109.0 268.9,109.0 268.3,109.2 266.5,109.9 265.0,108.6 264.2,106.9 263.6,105.2 263.2,103.7 262.8,101.6 262.6,100.6 262.9,96.3 263.2,94.2 263.3,93.1 263.1,90.0 263.7,88.9 264.2,87.9 265.1,86.8 265.9,86.2 267.1,85.3 268.3,85.5 269.5,85.5 270.7,86.2 271.3,86.6 272.8,86.4 272.6,85.3 272.3,84.3 273.3,83.8 274.2,83.6 275.8,83.8 276.6,84.0 278.4,85.1 279.3,84.9 279.5,86.2 280.4,88.3 280.5,90.0 281.1,92.1 281.6,93.1 282.3,94.6 283.0,94.8 283.3,93.8 283.6,92.1 283.4,90.4 283.1,88.5 282.6,86.2 282.3,84.0 282.0,82.6 282.6,81.1 283.4,79.8 284.6,78.3 285.5,77.1 286.3,76.2 287.2,75.2 288.4,73.7 289.0,72.0 288.8,70.3 288.2,68.8 288.4,67.3 289.0,66.7 289.6,66.1 289.9,65.0 290.5,64.1 290.8,62.5 292.0,61.6 293.1,61.2 294.6,60.5 295.5,59.9 296.1,59.3 307.3,59.3 307.3,25.4 296.7,20.1 295.5,19.9 294.3,18.6 292.0,16.5 289.6,16.1 286.6,16.5 286.0,20.1 287.2,24.3 287.7,27.5 286.9,30.7 285.0,33.9 284.9,38.1 283.7,39.6 282.5,39.2 281.1,36.0 281.0,31.8 277.8,31.3 274.2,29.6 271.9,27.5 269.5,27.5 266.9,23.7 267.1,19.1 268.3,15.9 271.0,14.2 273.0,13.1 274.8,12.1 277.2,12.1 279.5,13.1 281.3,13.5 283.1,13.1 284.0,11.6 282.9,9.9 282.3,7.4 282.1,4.2 283.0,1.5 284.3,-0.4 285.5,-2.1 279.0,-3.2 276.6,0.0 274.8,2.5 273.6,4.7 271.9,3.6 270.1,2.5 268.3,3.6 266.5,4.7 264.2,4.9 262.4,3.8 260.0,3.8 257.7,3.4 255.3,4.4 252.4,4.7 249.4,4.2 246.4,4.7 244.1,3.4 242.3,2.1 240.5,0.8 237.6,0.4 235.2,-0.2 232.9,0.6 230.5,1.1 228.1,1.5 225.8,0.8 223.4,0.4 221.0,1.5 218.7,1.7 216.3,1.1 213.9,0.6 211.6,0.4 209.2,-0.2 206.8,-0.6 203.3,-1.3 199.8,-1.9 196.2,-2.3 193.3,-3.0 190.3,-1.9 186.8,-0.8 184.4,1.1 182.6,2.5 181.1,3.6 182.0,4.9 183.8,5.5 185.0,5.9 186.2,7.4 185.0,8.0 183.8,7.6 182.0,8.0 180.3,8.7ZM11.0,173.6 12.1,177.8 12.4,181.0 11.6,183.1 11.1,185.9 10.4,189.5 9.7,193.7 9.0,197.9 8.4,200.9 7.1,201.8 5.9,202.2 4.7,200.7 4.3,197.9 3.9,194.8 4.5,191.6 5.2,189.5 5.0,186.3 4.7,184.2 5.3,182.5 6.5,181.9 7.7,181.0 8.9,179.3 9.5,177.4 10.4,174.9ZM47.2,127.4 47.6,128.1 48.5,130.2 49.4,132.3 49.3,134.4 48.5,135.5 47.4,135.3 47.0,133.4 47.0,130.6ZM95.7,94.6 96.8,95.1 96.7,97.0 96.1,99.9 95.5,101.8 94.8,100.1 94.7,98.4 95.4,96.1ZM83.6,105.6 83.9,106.5 83.3,108.4 82.1,109.7 81.2,109.0 81.1,107.3 81.9,106.1 83.0,105.6ZM106.0,76.8 107.0,76.4 107.8,77.1 108.4,77.9 108.5,79.8 107.9,81.7 107.2,82.6 106.6,81.9 106.6,80.0 106.1,79.0 105.9,77.7ZM109.3,76.6 109.9,75.8 111.3,75.6 111.9,76.6 111.3,77.7 110.2,78.8 109.5,78.5ZM107.4,76.2 108.4,74.9 109.5,73.2 110.5,73.0 111.7,72.8 112.8,72.8 113.4,72.4 113.8,71.3 114.3,70.1 114.9,68.8 115.0,70.3 116.1,69.9 116.8,68.2 117.6,66.9 118.1,65.4 118.2,63.7 117.8,62.5 118.3,61.0 118.9,61.0 119.6,60.5 120.0,62.2 120.6,64.4 120.1,66.5 119.4,67.3 119.4,69.2 119.3,70.7 119.0,72.0 119.3,72.6 118.6,73.9 118.0,74.3 117.8,73.2 117.3,73.7 116.8,74.9 116.2,74.9 114.9,74.9 114.5,75.6 113.8,76.4 113.1,77.5 112.4,76.4 112.6,75.2 111.8,74.7 110.5,75.2 109.3,75.8 108.4,76.2ZM118.2,60.3 118.6,58.9 118.0,58.2 118.7,56.5 119.9,56.5 120.1,54.4 120.4,52.1 121.4,53.6 122.7,54.8 124.5,54.4 124.7,56.5 123.2,57.2 122.1,59.3 121.2,58.9 120.0,58.0 119.3,58.2 119.5,59.7 118.8,60.3ZM120.4,50.6 120.8,48.1 120.6,45.5 120.8,42.8 120.7,40.2 120.9,37.0 120.3,35.4 121.2,34.9 121.5,33.2 122.0,35.6 122.1,39.2 122.7,42.3 123.4,44.5 122.0,44.0 121.6,46.6 122.3,49.5 122.2,50.6 121.3,49.5ZM95.3,109.0 96.1,108.8 97.3,109.0 97.2,111.6 97.5,113.7 96.5,114.7 96.3,117.5 97.2,118.6 98.1,119.0 99.3,120.7 99.4,121.5 98.3,120.7 97.6,119.6 96.7,119.0 95.6,119.4 95.3,117.9 94.7,116.6 94.3,114.3 94.9,113.9 95.0,111.1ZM94.9,119.6 96.1,119.8 96.3,121.7 95.9,122.4 95.3,121.5ZM94.0,124.1 94.2,126.0 93.1,128.1 92.1,130.0 91.3,130.4 91.7,129.1 92.8,127.0 93.6,124.9ZM99.6,121.7 100.8,121.5 101.4,123.8 100.8,125.3 99.6,127.0 100.2,125.3 99.6,123.8ZM96.8,123.0 98.3,123.8 98.0,126.0 96.9,126.0 97.6,124.5ZM97.4,125.1 98.7,125.1 98.5,128.5 98.0,128.9 97.6,127.4ZM99.1,124.3 99.4,125.7 98.8,128.1 98.5,127.7 98.9,126.0ZM96.9,133.4 98.1,131.5 98.9,130.0 100.2,129.1 101.1,127.4 101.9,128.5 102.4,131.9 102.0,134.9 101.1,136.3 100.7,135.3 99.5,134.6 99.3,132.7 98.7,131.9 97.9,132.5 96.9,133.6ZM82.3,144.2 81.7,147.1 81.9,149.5 83.0,151.8 82.9,154.3 84.5,154.5 85.7,155.4 86.9,155.0 88.1,156.2 89.7,156.2 90.2,153.5 90.5,150.9 91.6,148.2 92.1,146.1 93.1,145.9 92.2,143.3 92.0,141.0 91.7,139.3 92.8,138.7 93.6,137.2 92.1,135.5 91.4,133.6 90.7,133.6 90.0,135.1 89.2,136.5 88.6,137.6 87.8,138.7 87.3,139.7 86.3,141.4 84.9,142.3 84.3,143.5 83.4,144.8ZM65.4,136.3 66.5,137.2 68.0,137.2 68.9,139.3 70.3,141.4 71.9,143.7 72.7,144.6 73.9,146.1 74.6,147.6 75.3,150.1 76.1,151.6 76.8,152.8 77.8,154.3 78.0,156.7 77.8,160.5 76.9,160.5 76.2,159.8 75.4,158.8 74.2,157.1 73.6,155.6 72.5,153.3 72.0,152.0 71.4,150.3 70.7,148.2 70.0,146.5 69.4,144.6 68.2,143.1 67.6,141.0 66.7,139.1 65.6,137.6ZM77.1,162.6 78.0,160.7 79.2,160.9 80.7,161.5 81.6,162.6 83.2,162.8 83.9,161.7 84.7,162.6 85.8,162.8 86.9,163.4 87.9,164.7 88.1,166.6 86.9,166.0 85.1,165.8 83.3,165.3 81.6,164.7 80.4,164.7 78.6,163.9 77.4,162.8ZM88.2,165.3 89.8,165.8 91.0,165.5 92.8,165.8 94.0,166.0 95.7,166.0 97.5,165.5 98.1,166.2 96.9,166.8 95.2,166.8 93.4,166.8 91.6,167.2 90.1,167.0 88.9,166.8ZM93.4,168.1 94.9,168.5 95.5,169.8 94.3,170.0 93.3,168.9ZM98.7,170.0 99.9,168.5 101.1,167.2 103.1,166.0 102.8,166.8 101.1,168.5 99.9,169.8 99.1,170.2ZM93.9,160.0 93.9,156.7 93.1,154.5 93.5,152.0 94.3,148.4 94.7,146.9 95.7,145.4 97.5,146.1 99.3,146.3 100.7,144.8 100.0,147.3 98.5,147.6 96.8,147.1 95.5,147.3 94.9,149.2 95.5,150.5 96.5,150.1 97.6,149.9 98.6,150.1 98.0,151.4 96.7,151.6 96.2,152.6 97.2,154.5 97.4,156.2 98.2,157.7 97.4,158.6 96.5,157.7 95.9,156.0 95.7,153.9 95.0,154.3 94.8,155.6 95.0,159.8ZM103.5,143.5 104.1,145.6 104.8,145.0 104.3,146.5 105.1,147.6 104.4,147.8 103.9,149.0 104.3,150.1 103.4,149.5 103.3,146.9ZM104.0,154.3 105.8,154.1 107.3,155.4 107.0,156.2 105.2,155.4 104.3,155.6ZM101.7,155.0 102.8,154.8 103.1,155.8 102.2,156.4 101.7,155.8ZM107.6,150.7 108.7,149.0 110.5,149.7 111.2,150.3 111.5,153.5 112.3,155.2 112.9,153.9 113.9,152.8 115.2,151.4 116.8,152.0 118.2,153.1 119.4,153.7 121.2,155.0 122.7,156.0 123.6,156.9 125.1,158.8 125.3,160.5 127.1,160.9 127.4,162.6 126.5,163.0 127.4,165.1 128.8,167.2 130.1,169.8 129.4,170.2 127.7,169.6 126.5,167.9 125.5,166.2 123.5,164.3 122.3,165.5 121.7,167.5 120.0,167.7 118.8,166.0 117.0,165.3 116.2,166.0 115.4,166.0 116.1,164.1 116.7,162.8 116.0,159.8 114.1,157.9 112.3,157.5 110.6,156.0 109.7,156.9 108.9,154.3 109.9,153.3 109.0,152.8 107.9,151.4ZM128.0,159.8 129.4,159.8 130.6,159.4 131.8,158.4 132.7,157.1 132.6,158.8 131.2,160.7 130.0,161.3 128.2,160.7ZM130.6,153.7 131.8,154.5 133.0,156.2 133.6,157.9 133.2,158.4 132.3,156.7 131.1,155.0ZM136.5,161.5 137.3,162.2 137.1,163.2 136.3,162.6ZM137.7,163.9 139.5,165.1 141.2,166.6 142.4,167.9 141.8,168.5 140.1,167.0 138.3,165.5ZM141.6,167.7 142.8,168.1 143.6,169.4 143.0,170.0 141.8,168.9ZM142.5,165.8 143.6,167.7 143.4,168.5 142.5,166.8ZM146.6,191.0 147.8,191.8 149.5,193.9 150.2,195.6 149.6,195.6 148.0,193.7 146.8,192.0ZM149.6,179.5 150.4,180.4 150.5,182.5 151.8,185.4 152.4,187.1 151.7,186.3 150.9,183.3 149.8,181.2ZM162.3,185.0 163.7,184.8 163.8,186.5 162.4,186.5ZM164.2,182.7 165.5,182.5 165.7,183.5 164.3,184.0ZM15.7,121.5 17.1,121.3 16.9,122.2 16.0,122.2ZM62.3,119.4 62.6,121.7 62.4,123.6 62.1,123.4 62.2,121.1ZM86.3,213.8 88.6,213.8 88.5,210.6 88.2,207.9 87.5,205.3 86.8,203.2 87.1,200.1 86.8,196.9 87.2,194.8 87.7,194.3 89.8,192.2 92.2,191.2 94.0,190.5 95.7,189.5 97.3,186.3 97.5,184.2 98.7,183.1 99.8,182.7 100.5,179.9 102.2,177.8 103.4,178.3 104.4,179.9 106.0,179.5 106.7,176.3 107.3,174.4 108.7,173.6 109.5,172.5 110.5,173.2 111.7,173.6 112.9,174.0 114.1,173.4 114.5,174.9 114.1,176.1 113.4,177.2 112.9,179.3 113.7,181.0 115.0,182.5 116.2,183.8 117.4,185.0 118.4,185.7 119.5,183.1 120.0,179.9 120.1,176.8 120.1,174.7 120.6,172.5 121.2,170.8 121.7,173.2 122.3,175.3 122.5,177.8 123.5,178.5 124.5,179.9 124.7,182.5 125.3,184.8 125.5,187.8 127.1,189.5 128.6,191.2 129.4,193.7 130.4,195.8 131.2,197.9 133.0,200.3 133.8,202.2 133.8,206.0 134.3,208.9 133.9,211.7 133.6,213.8ZM277.8,101.8 280.7,100.1 283.1,99.3 284.9,99.9 287.2,102.0 289.6,104.2 290.5,105.4 289.0,106.1 286.6,104.6 284.3,102.7 281.3,101.8 278.4,102.0ZM293.1,109.0 293.1,106.3 295.5,106.1 297.3,108.0 297.3,109.7 295.5,109.7 293.7,109.7ZM285.6,109.2 286.6,109.0 287.9,109.7 287.2,110.5 285.8,109.9ZM194.1,105.4 195.1,106.7 194.9,107.8 194.3,108.2 193.8,106.5ZM193.0,103.7 193.7,104.2 193.4,104.6ZM191.2,102.5 191.8,102.9 191.5,103.3ZM189.5,101.2 189.8,101.6 189.5,101.8ZM226.9,40.6 228.7,41.3 230.5,43.8 232.3,45.7 231.1,45.9 229.5,44.9 227.5,42.3ZM222.2,33.9 223.0,34.9 222.6,37.7 222.0,35.6ZM195.6,25.4 197.4,25.8 196.8,27.3 195.6,26.9ZM181.4,33.4 183.4,32.2 183.6,33.0 181.8,34.1ZM177.9,35.4 180.3,34.1 180.4,34.9 178.1,36.2ZM172.6,38.1 174.9,37.7 174.9,38.3 172.6,38.7ZM168.4,38.5 170.8,38.3 170.8,39.0 168.4,39.2ZM163.1,38.7 165.5,38.3 165.5,39.0 163.1,39.2ZM156.6,36.2 158.4,36.0 158.4,36.6 156.6,36.8ZM11.2,49.5 13.0,48.5 15.4,49.1 15.6,52.3 13.0,53.8 13.2,56.1 14.8,59.3 15.4,61.4 15.2,63.5 16.3,65.6 16.4,69.0 14.2,70.5 12.4,69.9 10.6,68.6 10.5,66.7 11.2,64.6 12.2,62.7 11.2,62.2 10.0,59.7 8.9,57.2 8.7,55.0 8.3,53.3 8.9,51.7 10.0,50.4ZM-4.7,61.4 0.0,61.4 1.8,60.3 2.0,58.2 1.2,57.2 0.0,56.5 -3.5,53.3ZM283.1,13.8 286.0,11.0 289.0,9.5 291.4,7.8 291.4,5.3 289.6,2.5 287.2,-0.4 284.9,-2.1 283.7,0.0 282.7,2.5 282.7,5.9 283.4,8.9 284.3,11.4Z" fill="none" stroke="#6e6e6e" stroke-width="1.5" stroke-linejoin="round"/>
<path id="ld" d="M242.5,81.1 243.0,81.3 244.1,81.9 245.0,83.6 245.7,85.5 246.4,87.9 247.4,89.5 248.6,91.5 249.6,94.0 250.6,95.5 251.8,97.6 248.7,98.9 248.5,97.4 247.9,96.7 247.4,95.3 246.8,93.1 246.1,91.2 245.3,89.8 244.7,88.3 244.1,86.8 243.4,85.1 242.7,83.0ZM21.9,49.7 23.6,49.1 25.4,49.7 25.8,52.9 24.2,55.7 22.5,55.5 21.6,52.9ZM39.6,50.4 41.4,48.9 43.7,49.3 46.1,49.1 46.3,50.2 43.7,50.6 41.4,50.6 40.2,51.7ZM75.2,39.2 76.8,39.0 79.0,37.3 80.7,35.1 82.3,32.2 82.6,30.1 81.8,30.1 80.7,32.6 79.0,34.7 77.1,37.0 75.4,38.3ZM230.5,6.8 233.4,6.4 236.4,7.2 238.2,8.9 235.8,10.2 232.9,9.9 231.1,8.5ZM239.9,16.3 242.9,15.7 246.4,15.5 249.4,16.3 247.0,17.8 243.5,18.6 240.5,18.0ZM261.2,41.3 263.0,41.3 264.2,37.0 263.9,34.3 262.9,34.9 262.2,38.1 261.2,39.6ZM245.9,22.9 249.4,22.7 252.9,23.7 249.4,24.1Z" fill="#6e6e6e" stroke="#6e6e6e" stroke-width="0.8"/>
<path id="ll" d="M269.4,49.3 271.9,49.5 274.2,49.7 276.6,50.0 278.2,49.5 278.1,47.6 276.6,46.2 274.2,44.9 272.5,45.9 271.3,47.6 269.9,48.3ZM274.7,59.9 275.8,59.9 276.1,57.2 276.1,54.0 277.1,51.2 275.4,50.8 275.2,52.9 274.5,55.0 274.3,57.6ZM278.7,56.9 280.7,56.7 281.8,54.0 283.1,53.3 283.7,51.2 281.3,50.4 279.4,51.0 279.5,54.0 278.7,55.5ZM279.5,60.1 281.3,60.5 283.7,58.9 285.0,57.6 283.7,57.4 281.3,58.9ZM283.9,56.5 286.0,56.5 288.1,56.1 287.8,54.6 285.5,55.3 284.0,55.7Z" fill="#9a9a9a" stroke="#6e6e6e" stroke-width="1.1"/>
</defs>
<rect width="1308" height="844" fill="#fff"/><g>
<g transform="translate(58.70,37.50)">
<g clip-path="url(#cp)">
<path d="M124.2,37.5 126.1,37.5 126.1,33.7 131.2,33.7 131.2,29.9 149.3,29.9 149.3,55.3 129.9,55.3 127.4,53.4 124.2,52.8Z" fill="#ff7850"/><path d="M121.7,47.0 126.7,43.2 129.9,43.9 130.5,48.3 126.7,51.5 121.7,50.9Z" fill="#ff1408"/><path d="M20.9,97.8 32.9,97.8 33.5,106.5 20.9,106.5Z" fill="#88bef8"/><path d="M140.0,29.9 157.1,29.9 157.1,33.7 161.6,36.3 161.6,55.3 140.0,55.3Z" fill="#ff7850"/><path d="M152.7,37.5 160.9,36.3 161.6,47.7 154.0,46.4Z" fill="#ffc09a"/><path d="M156.5,55.3 158.4,50.2 165.4,48.3 174.2,46.6 183.1,46.1 194.5,47.0 200.9,51.5 209.7,55.3 216.1,59.1 218.0,65.4 216.1,71.7 209.7,76.2 200.9,75.5 192.0,72.4 189.5,67.9 181.9,66.7 175.5,63.5 166.6,62.9 159.0,61.6Z" fill="#ff1408"/><path d="M169.2,52.7 176.8,49.6 189.5,49.6 198.3,52.7 204.7,57.8 200.9,61.6 192.0,62.9 181.9,62.2 171.7,59.1Z" fill="#e0001a"/><path d="M177.4,54.0 183.1,52.7 189.5,54.0 190.1,57.8 184.4,59.1 178.7,57.8Z" fill="#a00028"/><path d="M195.8,25.5 200.9,21.7 212.3,21.7 218.6,26.7 217.3,29.7 209.7,29.3 202.1,29.3 197.1,29.3Z" fill="#3c78f5"/><path d="M200.9,21.3 209.7,21.0 213.5,24.2 202.1,24.6Z" fill="#0a14ff"/><path d="M179.3,29.9 184.4,28.9 186.3,32.7 180.6,34.0Z" fill="#3c78f5"/><path d="M141.3,97.7 152.7,95.8 162.8,91.4 166.0,88.8 171.1,88.8 172.3,93.3 194.5,93.3 194.5,99.0 184.4,100.9 180.6,106.5 141.3,106.5Z" fill="#88bef8"/><path d="M151.4,96.4 163.5,90.7 169.8,89.2 171.7,93.5 179.3,94.3 178.3,100.9 170.4,105.3 154.0,105.3Z" fill="#3c78f5"/><path d="M264.9,88.8 273.1,88.8 273.1,105.3 264.9,105.3Z" fill="#ff7850"/><path d="M82.7,103.5 149.3,103.5 149.3,109.4 98.3,110.0 95.7,116.5 95.0,129.6 93.1,142.6 101.0,145.2 107.5,146.5 116.6,150.4 124.4,158.2 129.6,168.7 137.4,176.5 149.3,184.3 149.3,202.5 142.7,202.5 134.8,192.1 128.3,184.3 123.1,176.5 116.6,172.6 106.2,173.9 98.3,176.5 90.5,181.7 82.7,183.0 74.9,181.7 69.7,174.5 64.5,166.1 61.6,158.2 64.5,154.3 69.7,153.0 74.9,150.4 77.5,142.6 78.8,132.2 82.7,124.4 82.7,113.9Z" fill="#88bef8"/><path d="M71.0,160.8 77.5,160.8 82.7,164.8 83.0,170.2 77.5,171.0 72.3,168.7Z" fill="#3c78f5"/><path d="M107.5,160.8 114.0,160.8 115.9,168.7 111.4,169.3 108.1,166.1Z" fill="#3c78f5"/><path d="M154.3,133.5 158.2,125.7 173.9,122.4 184.3,123.0 192.1,129.6 191.5,134.8 180.4,138.7 170.0,142.6 160.8,147.8 151.7,155.6 146.5,153.7 147.8,142.6Z" fill="#ffc09a"/><path d="M149.1,141.3 156.9,138.7 160.8,146.5 153.0,151.1 148.5,147.8Z" fill="#ff7850"/><path d="M172.6,134.8 180.4,133.5 181.7,139.3 173.9,140.6Z" fill="#ff7850"/><path d="M256.0,149.1 262.5,145.2 270.3,142.6 278.1,143.9 282.7,158.2 276.8,164.8 270.3,160.8 261.2,155.6 256.0,152.0Z" fill="#ff7850"/><path d="M266.4,144.6 276.8,143.9 281.8,158.2 277.5,161.1 271.6,155.6 268.4,149.8Z" fill="#ff1408"/><path d="M284.0,113.9 293.1,113.9 293.1,123.0 284.0,123.0Z" fill="#88bef8"/><path d="M263.2,102.8 271.6,102.8 271.6,107.4 263.2,107.4Z" fill="#ff7850"/><path d="M188.9,190.2 198.6,189.5 214.3,198.6 214.3,203.2 202.6,203.9 190.8,198.6Z" fill="#ffc09a"/><path d="M191.5,199.3 199.9,199.3 203.9,209.1 193.4,209.7Z" fill="#ff7850"/><path d="M140.0,181.7 149.1,183.0 156.9,192.1 164.8,202.5 166.7,210.4 154.3,210.4 146.5,199.9 140.0,194.7Z" fill="#88bef8"/><path d="M140.0,102.8 184.3,102.8 184.3,108.7 140.0,108.7Z" fill="#88bef8"/><path d="M153.0,102.8 171.3,102.8 171.3,105.5 153.0,105.5Z" fill="#3c78f5"/>
<use href="#lf"/><use href="#lc"/><use href="#ld"/><use href="#ll"/>
<path d="M37.3,1.4L42.9,5.0" stroke="#111" stroke-width="1.5"/><path d="M46.2,7.1L41.4,6.5L43.7,3.0Z" fill="#111"/><path d="M50.7,21.1L46.6,17.5" stroke="#111" stroke-width="1.5"/><path d="M43.7,15.0L48.4,16.3L45.6,19.5Z" fill="#111"/><path d="M66.5,23.3L63.0,24.1" stroke="#111" stroke-width="1.5"/><path d="M59.1,24.9L63.0,21.9L63.9,26.0Z" fill="#111"/><path d="M76.9,10.9L76.5,11.9" stroke="#111" stroke-width="1.5"/><path d="M76.1,12.7L76.1,11.2L77.3,11.7Z" fill="#111"/><path d="M93.4,16.6L92.8,17.8" stroke="#111" stroke-width="1.5"/><path d="M92.2,19.2L92.2,17.0L93.9,17.8Z" fill="#111"/><path d="M56.0,39.1L52.7,40.1" stroke="#111" stroke-width="1.5"/><path d="M49.0,41.3L52.5,38.0L53.8,42.0Z" fill="#111"/><path d="M80.7,50.0L78.0,49.6" stroke="#111" stroke-width="1.5"/><path d="M74.1,49.2L78.7,47.6L78.2,51.8Z" fill="#111"/><path d="M25.3,48.9L23.5,51.9" stroke="#111" stroke-width="1.5"/><path d="M21.5,55.3L21.9,50.4L25.6,52.6Z" fill="#111"/><path d="M6.9,66.7L5.8,68.0" stroke="#111" stroke-width="1.5"/><path d="M4.4,69.9L5.1,66.8L7.2,68.5Z" fill="#111"/><path d="M49.4,67.3L48.7,68.4" stroke="#111" stroke-width="1.5"/><path d="M48.1,69.5L48.3,67.6L49.7,68.4Z" fill="#111"/><path d="M70.0,64.2L69.9,65.3" stroke="#111" stroke-width="1.5"/><path d="M69.8,66.4L69.2,64.8L70.7,64.9Z" fill="#111"/><path d="M36.3,81.9L36.2,83.7" stroke="#111" stroke-width="1.5"/><path d="M36.1,86.4L34.8,83.2L37.7,83.3Z" fill="#111"/><path d="M62.7,78.7L61.3,80.9" stroke="#111" stroke-width="1.5"/><path d="M59.1,84.2L59.8,79.4L63.3,81.7Z" fill="#111"/><path d="M83.2,83.2L82.6,84.3" stroke="#111" stroke-width="1.5"/><path d="M82.0,85.5L82.1,83.4L83.6,84.3Z" fill="#111"/><path d="M68.8,96.5L68.2,97.5" stroke="#111" stroke-width="1.5"/><path d="M67.8,98.4L67.8,96.7L69.1,97.4Z" fill="#111"/><path d="M109.0,22.3L108.7,23.8" stroke="#111" stroke-width="1.5"/><path d="M108.3,25.5L107.7,23.1L109.8,23.5Z" fill="#111"/><path d="M128.6,17.3L127.2,18.1" stroke="#111" stroke-width="1.5"/><path d="M125.5,19.2L127.0,16.8L128.3,18.9Z" fill="#111"/><path d="M122.3,78.1L126.9,71.1" stroke="#111" stroke-width="2.1"/><path d="M129.9,66.4L129.0,73.0L124.2,69.9Z" fill="#111"/><path d="M145.1,93.3L138.8,90.9" stroke="#111" stroke-width="2.1"/><path d="M133.7,88.9L140.3,88.4L138.2,93.7Z" fill="#111"/><path d="M126.1,99.9L121.7,100.5" stroke="#111" stroke-width="1.5"/><path d="M117.8,100.9L122.0,98.3L122.5,102.5Z" fill="#111"/><path d="M139.4,29.9L138.7,30.9" stroke="#111" stroke-width="1.5"/><path d="M138.1,31.8L138.4,30.1L139.7,30.9Z" fill="#111"/><path d="M173.6,37.5L174.4,29.1" stroke="#111" stroke-width="2.1"/><path d="M174.9,23.6L177.2,29.8L171.5,29.3Z" fill="#111"/><path d="M159.0,52.1L165.1,44.4" stroke="#111" stroke-width="2.1"/><path d="M168.5,40.1L167.1,46.5L162.6,43.0Z" fill="#111"/><path d="M150.2,64.1L151.6,59.0" stroke="#111" stroke-width="1.5"/><path d="M152.7,55.3L153.5,60.1L149.5,58.9Z" fill="#111"/><path d="M212.3,57.8L185.5,70.6" stroke="#111" stroke-width="2.1"/><path d="M180.6,73.0L184.7,67.8L187.2,73.0Z" fill="#111"/><path d="M180.6,75.5L169.3,83.2" stroke="#111" stroke-width="2.1"/><path d="M164.7,86.3L168.1,80.6L171.3,85.3Z" fill="#111"/><path d="M213.5,29.9L216.2,37.4" stroke="#111" stroke-width="2.1"/><path d="M218.0,42.6L213.3,37.9L218.7,36.0Z" fill="#111"/><path d="M223.7,42.0L221.8,57.4" stroke="#111" stroke-width="2.1"/><path d="M221.1,62.9L219.0,56.6L224.7,57.3Z" fill="#111"/><path d="M228.1,60.3L232.3,70.5" stroke="#111" stroke-width="2.1"/><path d="M234.4,75.5L229.5,71.1L234.8,68.9Z" fill="#111"/><path d="M218.6,78.1L207.6,78.5" stroke="#111" stroke-width="2.1"/><path d="M202.1,78.7L208.0,75.6L208.2,81.4Z" fill="#111"/><path d="M238.9,36.3L234.3,40.1" stroke="#111" stroke-width="1.5"/><path d="M231.3,42.6L233.3,38.1L236.0,41.4Z" fill="#111"/><path d="M192.0,7.1L190.9,8.2" stroke="#111" stroke-width="1.5"/><path d="M189.5,9.6L190.4,7.0L192.1,8.7Z" fill="#111"/><path d="M230.0,22.9L228.1,24.2" stroke="#111" stroke-width="1.5"/><path d="M224.9,26.1L227.4,22.2L229.6,25.6Z" fill="#111"/><path d="M250.3,22.9L245.2,24.0" stroke="#111" stroke-width="1.5"/><path d="M241.4,24.8L245.3,21.9L246.2,26.0Z" fill="#111"/><path d="M266.1,28.0L260.7,30.7" stroke="#111" stroke-width="1.5"/><path d="M257.3,32.4L260.2,28.6L262.1,32.4Z" fill="#111"/><path d="M252.8,42.6L250.3,46.8" stroke="#111" stroke-width="1.5"/><path d="M248.4,50.2L248.8,45.3L252.4,47.5Z" fill="#111"/><path d="M280.7,39.4L277.5,40.3" stroke="#111" stroke-width="1.5"/><path d="M273.7,41.3L277.4,38.1L278.5,42.2Z" fill="#111"/><path d="M260.4,9.0L261.5,10.6" stroke="#111" stroke-width="1.5"/><path d="M263.0,12.8L259.9,11.0L262.5,9.3Z" fill="#111"/><path d="M257.9,64.1L253.7,66.6" stroke="#111" stroke-width="1.5"/><path d="M250.3,68.6L253.0,64.5L255.1,68.2Z" fill="#111"/><path d="M288.9,64.1L286.8,65.1" stroke="#111" stroke-width="1.5"/><path d="M283.2,66.7L286.4,63.0L288.1,66.8Z" fill="#111"/><path d="M275.6,74.9L274.0,77.4" stroke="#111" stroke-width="1.5"/><path d="M271.8,80.6L272.5,75.8L276.0,78.1Z" fill="#111"/><path d="M249.0,80.6L245.3,81.2" stroke="#111" stroke-width="1.5"/><path d="M241.4,81.9L245.4,79.1L246.1,83.2Z" fill="#111"/><path d="M256.6,86.9L261.9,91.4" stroke="#111" stroke-width="1.5"/><path d="M264.9,93.9L260.1,92.7L262.9,89.5Z" fill="#111"/><path d="M277.5,96.4L277.5,94.6" stroke="#111" stroke-width="1.5"/><path d="M277.5,92.0L279.0,95.1L276.0,95.1Z" fill="#111"/><path d="M173.0,94.5L173.0,99.8" stroke="#111" stroke-width="2.1"/><path d="M173.0,105.3L170.1,99.3L175.9,99.3Z" fill="#111"/><path d="M188.8,100.9L190.5,102.6" stroke="#111" stroke-width="1.5"/><path d="M193.3,105.3L188.7,103.7L191.6,100.7Z" fill="#111"/><path d="M25.4,117.8L19.8,120.2" stroke="#111" stroke-width="1.5"/><path d="M16.2,121.7L19.5,118.1L21.1,122.0Z" fill="#111"/><path d="M39.7,133.5L33.1,131.8" stroke="#111" stroke-width="1.5"/><path d="M29.3,130.9L34.1,129.9L33.0,134.0Z" fill="#111"/><path d="M18.8,137.4L16.7,141.7" stroke="#111" stroke-width="1.5"/><path d="M14.9,145.2L15.0,140.3L18.8,142.2Z" fill="#111"/><path d="M52.1,141.9L45.1,145.9" stroke="#111" stroke-width="1.5"/><path d="M41.7,147.8L44.5,143.8L46.5,147.5Z" fill="#111"/><path d="M54.0,125.0L51.3,125.8" stroke="#111" stroke-width="1.5"/><path d="M47.5,127.0L51.1,123.7L52.3,127.7Z" fill="#111"/><path d="M67.1,153.7L61.3,150.4" stroke="#111" stroke-width="1.5"/><path d="M57.9,148.5L62.8,148.8L60.7,152.5Z" fill="#111"/><path d="M70.3,171.3L69.3,167.2" stroke="#111" stroke-width="1.5"/><path d="M68.4,163.5L71.5,167.2L67.4,168.2Z" fill="#111"/><path d="M100.3,104.8L96.7,106.4" stroke="#111" stroke-width="1.5"/><path d="M93.1,108.1L96.3,104.3L98.0,108.2Z" fill="#111"/><path d="M112.7,111.3L112.3,116.6" stroke="#111" stroke-width="1.5"/><path d="M112.0,120.4L110.2,115.9L114.5,116.2Z" fill="#111"/><path d="M112.7,128.9L121.5,133.1" stroke="#111" stroke-width="1.5"/><path d="M125.1,134.8L120.2,134.8L122.0,131.0Z" fill="#111"/><path d="M130.3,122.4L136.1,126.2" stroke="#111" stroke-width="1.5"/><path d="M139.4,128.3L134.6,127.7L136.8,124.1Z" fill="#111"/><path d="M114.0,147.8L137.4,145.4" stroke="#111" stroke-width="3.2"/><path d="M145.3,144.6L137.3,149.4L136.5,141.4Z" fill="#111"/><path d="M90.5,153.0L90.5,155.1" stroke="#111" stroke-width="1.5"/><path d="M90.5,158.2L88.8,154.6L92.3,154.6Z" fill="#111"/><path d="M134.8,158.2L144.8,166.2" stroke="#111" stroke-width="1.5"/><path d="M147.9,168.7L143.1,167.6L145.8,164.3Z" fill="#111"/><path d="M90.5,177.8L88.3,179.8" stroke="#111" stroke-width="1.5"/><path d="M85.3,182.3L87.2,177.9L90.0,181.0Z" fill="#111"/><path d="M108.8,176.5L107.2,175.4" stroke="#111" stroke-width="1.5"/><path d="M104.9,173.9L108.5,174.4L106.7,177.0Z" fill="#111"/><path d="M124.4,181.7L124.7,177.8" stroke="#111" stroke-width="1.5"/><path d="M125.1,173.9L126.8,178.4L122.6,178.1Z" fill="#111"/><path d="M146.6,188.2L139.7,185.2" stroke="#111" stroke-width="1.5"/><path d="M136.1,183.7L141.0,183.5L139.3,187.3Z" fill="#111"/><path d="M147.9,201.2L146.3,199.7" stroke="#111" stroke-width="1.5"/><path d="M144.0,197.3L148.0,198.8L145.4,201.4Z" fill="#111"/><path d="M69.7,193.4L66.3,192.8" stroke="#111" stroke-width="1.5"/><path d="M62.5,192.1L67.2,190.8L66.5,195.0Z" fill="#111"/><path d="M84.0,199.3L81.8,199.8" stroke="#111" stroke-width="1.5"/><path d="M78.1,200.6L81.8,197.7L82.7,201.7Z" fill="#111"/><path d="M103.6,193.4L99.6,192.8" stroke="#111" stroke-width="1.5"/><path d="M95.7,192.1L100.4,190.8L99.7,194.9Z" fill="#111"/><path d="M117.2,199.9L117.6,196.0" stroke="#111" stroke-width="1.5"/><path d="M117.9,192.1L119.6,196.7L115.4,196.3Z" fill="#111"/><path d="M57.9,200.6L52.8,206.2" stroke="#111" stroke-width="1.5"/><path d="M50.1,209.1L51.6,204.4L54.7,207.3Z" fill="#111"/><path d="M18.8,192.1L20.3,191.5" stroke="#111" stroke-width="1.5"/><path d="M22.1,190.8L20.3,192.8L19.4,190.6Z" fill="#111"/><path d="M177.8,116.5L187.1,112.3" stroke="#111" stroke-width="2.1"/><path d="M192.1,110.0L187.9,115.1L185.5,109.9Z" fill="#111"/><path d="M198.6,119.8L203.5,115.8" stroke="#111" stroke-width="1.5"/><path d="M206.5,113.3L204.4,117.7L201.7,114.5Z" fill="#111"/><path d="M222.1,121.7L222.2,119.7" stroke="#111" stroke-width="1.5"/><path d="M222.4,116.5L223.9,120.3L220.4,120.1Z" fill="#111"/><path d="M239.7,123.0L240.0,119.8" stroke="#111" stroke-width="1.5"/><path d="M240.3,115.9L242.1,120.5L237.8,120.1Z" fill="#111"/><path d="M158.2,126.3L164.1,125.9" stroke="#111" stroke-width="1.5"/><path d="M168.0,125.7L163.8,128.1L163.5,123.8Z" fill="#111"/><path d="M141.3,142.6L154.9,133.8" stroke="#111" stroke-width="2.1"/><path d="M159.5,130.9L156.1,136.5L152.9,131.7Z" fill="#111"/><path d="M155.6,153.0L166.6,142.5" stroke="#111" stroke-width="2.1"/><path d="M170.6,138.7L168.3,144.9L164.3,140.8Z" fill="#111"/><path d="M173.9,141.3L182.0,128.4" stroke="#111" stroke-width="2.1"/><path d="M185.0,123.7L184.2,130.3L179.3,127.2Z" fill="#111"/><path d="M194.7,142.6L198.0,134.1" stroke="#111" stroke-width="2.1"/><path d="M199.9,128.9L200.5,135.5L195.1,133.5Z" fill="#111"/><path d="M209.7,145.2L216.6,137.0" stroke="#111" stroke-width="2.1"/><path d="M220.1,132.8L218.5,139.3L214.1,135.6Z" fill="#111"/><path d="M231.2,151.1L231.2,143.2" stroke="#111" stroke-width="1.5"/><path d="M231.2,139.3L233.3,143.7L229.1,143.7Z" fill="#111"/><path d="M179.1,155.6L180.2,151.0" stroke="#111" stroke-width="1.5"/><path d="M181.0,147.2L182.1,151.9L178.0,151.0Z" fill="#111"/><path d="M197.3,158.9L197.5,153.7" stroke="#111" stroke-width="1.5"/><path d="M197.6,149.8L199.6,154.2L195.4,154.1Z" fill="#111"/><path d="M215.6,162.1L215.2,156.9" stroke="#111" stroke-width="1.5"/><path d="M214.9,153.0L217.4,157.3L213.1,157.6Z" fill="#111"/><path d="M258.6,126.3L250.2,134.3" stroke="#111" stroke-width="2.1"/><path d="M246.2,138.0L248.6,131.8L252.5,136.0Z" fill="#111"/><path d="M269.0,131.5L268.9,138.4" stroke="#111" stroke-width="2.1"/><path d="M268.8,143.9L266.0,137.8L271.8,138.0Z" fill="#111"/><path d="M235.1,162.1L237.9,161.3" stroke="#111" stroke-width="1.5"/><path d="M241.7,160.2L238.0,163.5L236.8,159.4Z" fill="#111"/><path d="M253.4,162.1L255.4,163.4" stroke="#111" stroke-width="1.5"/><path d="M258.6,165.4L253.9,164.9L256.0,161.4Z" fill="#111"/><path d="M141.3,162.1L144.9,165.4" stroke="#111" stroke-width="1.5"/><path d="M147.8,168.0L143.1,166.6L146.0,163.5Z" fill="#111"/><path d="M171.3,178.4L176.7,176.5" stroke="#111" stroke-width="1.5"/><path d="M180.4,175.2L177.0,178.6L175.5,174.7Z" fill="#111"/><path d="M185.6,178.4L193.3,183.3" stroke="#111" stroke-width="2.1"/><path d="M198.0,186.3L191.4,185.5L194.5,180.6Z" fill="#111"/><path d="M206.5,177.8L210.2,183.6" stroke="#111" stroke-width="1.5"/><path d="M212.3,186.9L208.2,184.4L211.7,182.1Z" fill="#111"/><path d="M211.7,188.2L219.5,202.9" stroke="#111" stroke-width="2.1"/><path d="M222.1,207.8L216.7,203.8L221.8,201.1Z" fill="#111"/><path d="M186.9,194.7L205.2,200.8" stroke="#111" stroke-width="2.1"/><path d="M210.4,202.5L203.8,203.4L205.6,197.9Z" fill="#111"/><path d="M177.8,209.1L183.6,199.4" stroke="#111" stroke-width="1.5"/><path d="M185.6,196.0L185.2,200.9L181.5,198.7Z" fill="#111"/><path d="M166.1,198.6L165.2,190.8" stroke="#111" stroke-width="1.5"/><path d="M164.8,186.9L167.3,191.0L163.1,191.5Z" fill="#111"/><path d="M141.3,186.9L147.5,192.2" stroke="#111" stroke-width="1.5"/><path d="M150.4,194.7L145.7,193.5L148.5,190.3Z" fill="#111"/><path d="M154.3,205.2L147.2,200.7" stroke="#111" stroke-width="1.5"/><path d="M143.9,198.6L148.8,199.2L146.5,202.8Z" fill="#111"/><path d="M241.7,199.9L251.3,194.3" stroke="#111" stroke-width="2.1"/><path d="M256.0,191.5L252.3,197.0L249.4,192.0Z" fill="#111"/><path d="M238.4,182.3L242.3,179.9" stroke="#111" stroke-width="1.5"/><path d="M245.6,177.8L243.0,181.9L240.7,178.4Z" fill="#111"/><path d="M259.2,177.1L263.3,180.1" stroke="#111" stroke-width="1.5"/><path d="M266.4,182.3L261.6,181.5L264.1,178.1Z" fill="#111"/><path d="M269.7,189.5L270.1,196.7" stroke="#111" stroke-width="1.5"/><path d="M270.3,200.6L268.0,196.3L272.2,196.1Z" fill="#111"/>
<rect x="276" y="174" width="19.5" height="37.7" fill="#fff"/>
<text x="283.3" y="186.8" font-size="12.5" text-anchor="middle">1</text>
<path d="M274.3,196.7L286,196.7" stroke="#000" stroke-width="1.7"/><path d="M292,196.7L285.5,193.9L285.5,199.5Z" fill="#000"/>
</g>
<rect x="0" y="0" width="295.5" height="211.7" fill="none" stroke="#000" stroke-width="2.2"/>
<line x1="23.6" y1="211.7" x2="23.6" y2="218.2" stroke="#000" stroke-width="2"/>
<line x1="94.6" y1="211.7" x2="94.6" y2="218.2" stroke="#000" stroke-width="2"/>
<line x1="165.5" y1="211.7" x2="165.5" y2="218.2" stroke="#000" stroke-width="2"/>
<line x1="236.4" y1="211.7" x2="236.4" y2="218.2" stroke="#000" stroke-width="2"/>
<line x1="-6.5" y1="21.2" x2="0" y2="21.2" stroke="#000" stroke-width="2"/>
<text x="-10" y="27.2" font-size="17.3" text-anchor="end">60N</text>
<line x1="-6.5" y1="84.7" x2="0" y2="84.7" stroke="#000" stroke-width="2"/>
<text x="-10" y="90.7" font-size="17.3" text-anchor="end">30N</text>
<line x1="-6.5" y1="148.2" x2="0" y2="148.2" stroke="#000" stroke-width="2"/>
<text x="-10" y="154.2" font-size="17.3" text-anchor="end">EQ</text>
<line x1="-6.5" y1="211.7" x2="0" y2="211.7" stroke="#000" stroke-width="2"/>
<text x="-10" y="217.7" font-size="17.3" text-anchor="end">30S</text>
<text transform="translate(-2.2,-7.5) scale(0.97,1)" font-size="22.5">(a) MAM</text>
<text transform="translate(297.7,-5.7) scale(0.955,1)" font-size="22.5" text-anchor="end">SEN</text>
</g>
<g transform="translate(370.90,37.50)">
<g clip-path="url(#cp)">
<path d="M123.4,80.6 131.0,80.6 131.0,76.2 139.2,76.2 139.2,80.6 144.3,81.3 144.3,84.4 136.7,84.4 136.7,88.3 123.4,88.3Z" fill="#ff7850"/><path d="M128.4,81.3 132.9,81.3 132.9,85.7 128.4,85.7Z" fill="#ff1408"/><path d="M95.5,94.6 103.1,88.3 105.0,80.6 109.4,80.0 108.1,90.8 110.7,99.7 149.1,101.6 149.1,107.3 95.5,107.3Z" fill="#88bef8"/><path d="M167.7,37.5 172.8,32.4 173.4,26.1 175.3,26.1 176.6,29.9 184.2,29.9 184.2,33.7 176.6,36.9 170.2,38.8Z" fill="#3c78f5"/><path d="M175.3,30.5 184.2,29.9 184.2,33.1 177.9,34.3Z" fill="#0a14ff"/><path d="M199.4,21.7 203.2,21.7 203.2,24.8 199.4,24.8Z" fill="#2100c4"/><path d="M208.3,21.7 212.1,21.7 212.1,24.8 208.3,24.8Z" fill="#2100c4"/><path d="M172.8,47.0 200.7,47.0 200.7,55.3 172.8,55.3Z" fill="#ff7850"/><path d="M179.1,49.9 200.7,49.6 200.7,55.3 179.1,55.3Z" fill="#ff1408"/><path d="M198.8,50.2 217.1,50.2 219.7,55.3 219.7,62.9 214.6,70.5 209.5,75.5 203.2,75.5 200.7,70.5 198.8,62.9Z" fill="#ff1408"/><path d="M140.5,80.0 144.3,80.0 144.3,83.8 140.5,83.8Z" fill="#ff7850"/><path d="M139.8,98.3 153.8,93.9 174.7,92.6 174.7,104.7 139.8,107.2Z" fill="#88bef8"/><path d="M157.6,95.8 170.2,93.9 172.8,97.1 166.4,100.9 158.8,100.9Z" fill="#3c78f5"/><path d="M12.1,117.8 18.6,114.6 25.2,116.5 31.7,127.0 40.8,132.2 39.5,136.1 25.2,138.7 14.7,138.7 12.1,129.6Z" fill="#ffc09a"/><path d="M13.4,120.4 21.3,120.4 22.6,129.6 14.7,132.2Z" fill="#ff7850"/><path d="M17.3,156.9 30.4,156.9 35.6,162.1 38.2,173.9 34.3,179.1 30.4,181.7 22.6,180.4 20.0,171.3 17.3,164.8Z" fill="#ffc09a"/><path d="M83.8,111.3 90.3,102.8 150.3,102.8 150.3,111.3 139.9,119.1 129.4,120.4 120.3,123.0 116.4,129.6 122.9,137.4 128.1,146.5 124.2,153.0 111.2,154.3 98.1,150.4 89.0,146.5 83.8,136.1 79.9,123.0Z" fill="#88bef8"/><path d="M64.3,156.9 72.1,155.6 79.9,160.8 103.4,158.2 116.4,159.5 122.9,166.1 116.4,172.6 103.4,173.9 90.3,176.5 79.9,176.5 72.1,171.3 66.9,163.5Z" fill="#88bef8"/><path d="M126.8,160.8 137.2,155.6 145.1,163.5 150.3,168.7 150.3,205.2 142.5,206.5 137.2,194.7 132.0,186.9 128.1,179.1Z" fill="#88bef8"/><path d="M69.5,160.8 77.3,160.8 87.7,158.2 103.4,155.6 113.8,159.5 116.4,168.7 106.0,170.0 90.3,168.7 79.9,168.7 72.1,166.1Z" fill="#3c78f5"/><path d="M128.1,164.8 134.6,163.5 137.2,171.3 133.3,184.3 129.4,186.9 126.8,179.1Z" fill="#3c78f5"/><path d="M148.9,147.8 159.3,136.1 162.0,125.7 172.4,124.4 173.7,119.1 184.1,119.1 185.4,127.0 193.2,130.9 245.4,129.6 275.3,127.0 283.2,129.6 285.8,136.1 284.5,155.6 283.2,173.9 261.0,174.5 258.4,181.7 249.3,181.7 248.0,166.1 234.9,162.1 208.9,159.5 190.6,160.8 167.2,158.2 154.1,153.0Z" fill="#ffc09a"/><path d="M162.0,136.1 190.6,132.2 271.4,130.9 283.2,133.5 284.5,142.6 283.2,172.6 276.6,172.6 258.4,166.1 234.9,160.8 206.3,158.2 180.2,156.9 164.6,153.0 159.3,145.2Z" fill="#ff7850"/><path d="M171.1,138.7 193.2,134.8 271.4,133.5 281.9,136.1 283.2,171.3 274.0,171.3 258.4,163.5 234.9,158.2 206.3,155.6 184.1,154.3 171.1,150.4Z" fill="#ff1408"/><path d="M175.0,142.6 199.7,137.4 219.3,136.1 271.4,134.8 280.6,137.4 282.5,168.7 274.0,168.7 258.4,159.5 232.3,154.3 206.3,151.7 184.1,150.4Z" fill="#e0001a"/><path d="M240.1,141.3 258.4,138.9 276.6,137.6 280.6,142.6 282.5,166.1 275.3,166.1 258.4,155.6 245.4,151.7 240.1,147.8Z" fill="#a00028"/><path d="M139.8,102.8 171.1,102.8 171.1,106.1 154.1,108.7 139.8,111.3Z" fill="#88bef8"/><path d="M281.9,111.3 293.6,111.3 293.6,124.4 281.9,124.4Z" fill="#88bef8"/><path d="M139.8,176.5 154.1,179.1 167.2,186.9 176.3,194.7 176.3,210.4 139.8,210.4Z" fill="#88bef8"/><path d="M155.4,197.3 167.2,194.7 171.1,202.5 169.8,210.4 155.4,210.4Z" fill="#3c78f5"/>
<use href="#lf"/><use href="#lc"/><use href="#ld"/><use href="#ll"/>
<path d="M25.1,14.7L23.8,14.6" stroke="#111" stroke-width="1.5"/><path d="M22.6,14.5L24.4,13.8L24.2,15.5Z" fill="#111"/><path d="M46.0,18.5L46.6,15.4" stroke="#111" stroke-width="1.5"/><path d="M47.3,11.5L48.6,16.3L44.4,15.5Z" fill="#111"/><path d="M25.7,31.8L30.9,30.4" stroke="#111" stroke-width="1.5"/><path d="M34.6,29.3L31.0,32.5L29.8,28.5Z" fill="#111"/><path d="M87.9,20.8L90.1,20.9" stroke="#111" stroke-width="1.5"/><path d="M93.6,21.1L89.5,22.8L89.7,19.0Z" fill="#111"/><path d="M97.4,35.0L98.2,36.6" stroke="#111" stroke-width="1.5"/><path d="M99.3,38.8L96.7,36.8L99.2,35.5Z" fill="#111"/><path d="M47.3,42.6L43.3,47.8" stroke="#111" stroke-width="1.5"/><path d="M40.9,50.9L41.9,46.1L45.3,48.7Z" fill="#111"/><path d="M75.2,47.0L75.2,48.9" stroke="#111" stroke-width="1.5"/><path d="M75.2,51.5L73.7,48.4L76.7,48.4Z" fill="#111"/><path d="M30.2,65.4L32.0,65.2" stroke="#111" stroke-width="1.5"/><path d="M34.6,64.8L31.7,66.7L31.3,63.8Z" fill="#111"/><path d="M53.6,62.9L52.3,65.2" stroke="#111" stroke-width="1.5"/><path d="M50.5,68.6L50.7,63.7L54.4,65.8Z" fill="#111"/><path d="M67.6,68.6L69.4,68.6" stroke="#111" stroke-width="1.5"/><path d="M72.0,68.6L68.9,70.1L68.9,67.1Z" fill="#111"/><path d="M39.7,78.7L39.4,80.8" stroke="#111" stroke-width="1.5"/><path d="M39.0,83.8L37.8,80.1L41.2,80.5Z" fill="#111"/><path d="M89.1,75.6L88.1,77.5" stroke="#111" stroke-width="1.5"/><path d="M86.6,80.6L86.7,76.2L90.1,77.9Z" fill="#111"/><path d="M47.3,92.1L53.1,94.0" stroke="#111" stroke-width="1.5"/><path d="M56.8,95.2L51.9,95.8L53.3,91.8Z" fill="#111"/><path d="M77.1,88.3L75.9,90.2" stroke="#111" stroke-width="1.5"/><path d="M73.9,93.3L74.4,88.7L77.8,90.8Z" fill="#111"/><path d="M125.9,22.3L126.2,24.1" stroke="#111" stroke-width="1.5"/><path d="M126.5,26.8L124.6,23.9L127.6,23.4Z" fill="#111"/><path d="M122.7,52.8L129.6,52.6" stroke="#111" stroke-width="1.5"/><path d="M133.5,52.5L129.1,54.7L129.0,50.5Z" fill="#111"/><path d="M143.6,50.9L145.8,50.6" stroke="#111" stroke-width="1.5"/><path d="M149.1,50.2L145.5,52.5L145.1,48.8Z" fill="#111"/><path d="M120.2,75.6L123.1,71.2" stroke="#111" stroke-width="1.5"/><path d="M125.3,68.0L124.6,72.8L121.1,70.5Z" fill="#111"/><path d="M106.9,88.3L110.7,83.6" stroke="#111" stroke-width="1.5"/><path d="M113.2,80.6L112.0,85.4L108.8,82.7Z" fill="#111"/><path d="M125.9,100.9L121.6,95.2" stroke="#111" stroke-width="2.1"/><path d="M118.3,90.8L124.2,93.9L119.6,97.3Z" fill="#111"/><path d="M146.2,92.1L141.1,97.5" stroke="#111" stroke-width="2.1"/><path d="M137.3,101.6L139.3,95.2L143.5,99.1Z" fill="#111"/><path d="M27.0,94.0L28.1,95.1" stroke="#111" stroke-width="1.5"/><path d="M29.5,96.5L26.9,95.6L28.6,93.9Z" fill="#111"/><path d="M143.6,50.8L149.7,49.5" stroke="#111" stroke-width="2.1"/><path d="M155.0,48.3L149.8,52.4L148.6,46.8Z" fill="#111"/><path d="M161.4,51.5L167.5,49.8" stroke="#111" stroke-width="2.1"/><path d="M172.8,48.3L167.8,52.7L166.2,47.1Z" fill="#111"/><path d="M200.7,52.7L196.7,52.6" stroke="#111" stroke-width="2.1"/><path d="M191.2,52.5L197.2,49.8L197.1,55.5Z" fill="#111"/><path d="M193.1,36.3L188.2,29.8" stroke="#111" stroke-width="2.1"/><path d="M184.8,25.5L190.8,28.5L186.2,32.0Z" fill="#111"/><path d="M210.2,42.6L203.1,34.6" stroke="#111" stroke-width="2.1"/><path d="M199.4,30.5L205.5,33.1L201.2,36.9Z" fill="#111"/><path d="M227.3,42.6L220.8,45.8" stroke="#111" stroke-width="2.1"/><path d="M215.9,48.3L219.9,43.0L222.5,48.2Z" fill="#111"/><path d="M217.8,69.2L210.7,61.3" stroke="#111" stroke-width="2.1"/><path d="M207.0,57.2L213.1,59.7L208.9,63.6Z" fill="#111"/><path d="M181.7,62.2L185.9,69.5" stroke="#111" stroke-width="2.1"/><path d="M188.6,74.3L183.1,70.5L188.1,67.6Z" fill="#111"/><path d="M219.0,83.8L218.9,79.1" stroke="#111" stroke-width="2.1"/><path d="M218.7,73.6L221.8,79.5L216.0,79.7Z" fill="#111"/><path d="M174.7,78.1L174.3,84.6" stroke="#111" stroke-width="2.1"/><path d="M174.0,90.1L171.5,84.0L177.2,84.3Z" fill="#111"/><path d="M201.9,96.4L204.7,90.7" stroke="#111" stroke-width="2.1"/><path d="M207.0,85.7L207.0,92.3L201.8,89.9Z" fill="#111"/><path d="M179.1,93.9L182.0,100.3" stroke="#111" stroke-width="2.1"/><path d="M184.2,105.3L179.1,101.0L184.4,98.7Z" fill="#111"/><path d="M146.2,91.4L143.5,94.7" stroke="#111" stroke-width="1.5"/><path d="M141.1,97.7L142.2,93.0L145.5,95.6Z" fill="#111"/><path d="M189.3,100.9L193.5,103.4" stroke="#111" stroke-width="1.5"/><path d="M196.9,105.3L192.0,104.9L194.1,101.3Z" fill="#111"/><path d="M175.3,17.9L169.1,17.9" stroke="#111" stroke-width="1.5"/><path d="M165.2,17.9L169.6,15.8L169.6,20.0Z" fill="#111"/><path d="M148.7,12.2L147.0,13.6" stroke="#111" stroke-width="1.5"/><path d="M144.3,16.0L146.1,11.8L148.7,14.8Z" fill="#111"/><path d="M178.5,2.7L177.9,3.9" stroke="#111" stroke-width="1.5"/><path d="M177.2,5.2L177.3,3.0L179.0,3.9Z" fill="#111"/><path d="M198.1,12.2L197.6,13.6" stroke="#111" stroke-width="1.5"/><path d="M196.9,15.3L196.7,12.7L198.8,13.5Z" fill="#111"/><path d="M212.1,19.1L214.8,18.1" stroke="#111" stroke-width="1.5"/><path d="M218.4,16.6L215.1,20.2L213.5,16.3Z" fill="#111"/><path d="M261.5,8.4L259.9,8.3" stroke="#111" stroke-width="1.5"/><path d="M257.7,8.1L260.4,7.0L260.3,9.6Z" fill="#111"/><path d="M239.9,62.9L238.3,63.4" stroke="#111" stroke-width="1.5"/><path d="M236.1,64.1L238.4,62.0L239.2,64.5Z" fill="#111"/><path d="M257.1,74.3L255.8,72.3" stroke="#111" stroke-width="1.5"/><path d="M253.9,69.2L257.8,71.7L254.4,73.8Z" fill="#111"/><path d="M239.3,42.6L238.4,43.5" stroke="#111" stroke-width="1.5"/><path d="M237.4,44.5L238.1,42.5L239.4,43.8Z" fill="#111"/><path d="M280.5,62.9L280.1,63.7" stroke="#111" stroke-width="1.5"/><path d="M279.9,64.1L279.9,63.0L280.7,63.5Z" fill="#111"/><path d="M30.4,113.3L28.1,115.3" stroke="#111" stroke-width="1.5"/><path d="M25.2,117.8L27.1,113.3L29.9,116.5Z" fill="#111"/><path d="M25.2,123.0L18.2,132.4" stroke="#111" stroke-width="3.2"/><path d="M13.4,138.7L15.3,129.5L21.7,134.4Z" fill="#111"/><path d="M25.8,140.6L25.0,149.5" stroke="#111" stroke-width="2.1"/><path d="M24.5,155.0L22.2,148.7L27.9,149.3Z" fill="#111"/><path d="M26.5,160.8L27.2,167.1" stroke="#111" stroke-width="2.1"/><path d="M27.8,172.6L24.2,166.9L30.0,166.3Z" fill="#111"/><path d="M42.1,129.6L37.3,125.5" stroke="#111" stroke-width="1.5"/><path d="M34.3,123.0L39.0,124.2L36.3,127.5Z" fill="#111"/><path d="M61.0,134.1L56.6,131.5" stroke="#111" stroke-width="1.5"/><path d="M53.2,129.6L58.1,130.0L55.9,133.6Z" fill="#111"/><path d="M51.9,145.2L42.5,148.5" stroke="#111" stroke-width="1.5"/><path d="M38.8,149.8L42.3,146.3L43.7,150.3Z" fill="#111"/><path d="M76.0,155.0L59.9,144.8" stroke="#111" stroke-width="3.2"/><path d="M53.2,140.6L62.4,141.7L58.2,148.5Z" fill="#111"/><path d="M6.9,158.2L9.9,165.1" stroke="#111" stroke-width="1.5"/><path d="M11.5,168.7L7.8,165.5L11.7,163.8Z" fill="#111"/><path d="M42.8,171.3L42.8,177.1" stroke="#111" stroke-width="1.5"/><path d="M42.8,181.0L40.6,176.6L44.9,176.6Z" fill="#111"/><path d="M74.7,172.6L71.0,177.8" stroke="#111" stroke-width="1.5"/><path d="M68.8,181.0L69.6,176.2L73.1,178.6Z" fill="#111"/><path d="M85.1,110.0L79.2,114.3" stroke="#111" stroke-width="1.5"/><path d="M76.0,116.5L78.3,112.3L80.8,115.7Z" fill="#111"/><path d="M64.3,106.1L63.6,107.3" stroke="#111" stroke-width="1.5"/><path d="M63.0,108.7L63.0,106.5L64.7,107.3Z" fill="#111"/><path d="M74.7,129.6L75.0,131.2" stroke="#111" stroke-width="1.5"/><path d="M75.3,133.5L73.6,131.0L76.2,130.5Z" fill="#111"/><path d="M91.0,120.4L97.0,118.7" stroke="#111" stroke-width="1.5"/><path d="M100.8,117.6L97.1,120.8L95.9,116.8Z" fill="#111"/><path d="M106.0,118.5L116.1,119.8" stroke="#111" stroke-width="2.1"/><path d="M121.6,120.4L115.3,122.6L116.0,116.8Z" fill="#111"/><path d="M99.5,149.1L104.6,130.0" stroke="#111" stroke-width="3.2"/><path d="M106.6,122.4L108.3,131.6L100.5,129.5Z" fill="#111"/><path d="M135.9,108.1L132.7,113.8" stroke="#111" stroke-width="1.5"/><path d="M130.7,117.2L131.1,112.3L134.7,114.4Z" fill="#111"/><path d="M111.2,138.0L133.7,129.7" stroke="#111" stroke-width="3.2"/><path d="M141.2,127.0L134.7,133.7L131.9,126.1Z" fill="#111"/><path d="M124.2,141.3L142.5,138.7" stroke="#111" stroke-width="3.2"/><path d="M150.3,137.6L142.5,142.8L141.4,134.8Z" fill="#111"/><path d="M142.5,143.2L145.3,143.5" stroke="#111" stroke-width="2.1"/><path d="M150.3,143.9L144.6,146.1L145.0,140.8Z" fill="#111"/><path d="M107.3,143.9L118.5,148.9" stroke="#111" stroke-width="2.1"/><path d="M123.6,151.1L116.9,151.3L119.2,146.0Z" fill="#111"/><path d="M127.5,160.2L133.2,152.8" stroke="#111" stroke-width="2.1"/><path d="M136.6,148.5L135.2,155.0L130.6,151.4Z" fill="#111"/><path d="M106.0,160.8L99.0,157.0" stroke="#111" stroke-width="2.1"/><path d="M94.2,154.3L100.9,154.7L98.1,159.8Z" fill="#111"/><path d="M99.5,174.5L90.2,172.2" stroke="#111" stroke-width="1.5"/><path d="M86.4,171.3L91.2,170.3L90.2,174.4Z" fill="#111"/><path d="M126.8,171.3L124.5,173.3" stroke="#111" stroke-width="1.5"/><path d="M121.6,175.8L123.5,171.3L126.3,174.5Z" fill="#111"/><path d="M142.5,160.8L146.4,160.2" stroke="#111" stroke-width="1.5"/><path d="M150.3,159.5L146.3,162.3L145.6,158.2Z" fill="#111"/><path d="M141.2,186.9L140.7,177.8" stroke="#111" stroke-width="1.5"/><path d="M140.5,173.9L142.8,178.2L138.6,178.4Z" fill="#111"/><path d="M149.1,194.7L145.4,191.7" stroke="#111" stroke-width="2.1"/><path d="M141.2,188.2L147.6,189.8L144.0,194.2Z" fill="#111"/><path d="M121.6,194.7L120.6,192.7" stroke="#111" stroke-width="1.5"/><path d="M119.0,189.5L122.6,192.3L119.1,194.0Z" fill="#111"/><path d="M104.7,193.4L101.3,195.8" stroke="#111" stroke-width="1.5"/><path d="M98.1,198.0L100.5,193.7L103.0,197.2Z" fill="#111"/><path d="M113.8,209.1L112.3,207.3" stroke="#111" stroke-width="1.5"/><path d="M109.9,204.5L114.1,206.4L111.1,209.0Z" fill="#111"/><path d="M129.4,206.5L130.6,207.6" stroke="#111" stroke-width="1.5"/><path d="M132.0,209.1L129.3,208.1L131.1,206.4Z" fill="#111"/><path d="M20.0,192.1L18.7,192.7" stroke="#111" stroke-width="1.5"/><path d="M17.3,193.4L18.7,191.6L19.6,193.4Z" fill="#111"/><path d="M35.6,198.6L30.4,199.0" stroke="#111" stroke-width="1.5"/><path d="M26.5,199.3L30.7,196.9L31.0,201.1Z" fill="#111"/><path d="M5.6,107.4L5.3,108.7" stroke="#111" stroke-width="1.5"/><path d="M5.0,110.0L4.5,108.0L6.3,108.4Z" fill="#111"/><path d="M141.1,138.7L151.6,136.8" stroke="#111" stroke-width="3.2"/><path d="M159.3,135.4L151.8,140.9L150.4,132.9Z" fill="#111"/><path d="M141.1,143.2L165.8,145.7" stroke="#111" stroke-width="3.2"/><path d="M173.7,146.5L164.9,149.7L165.7,141.7Z" fill="#111"/><path d="M141.1,160.8L148.0,160.8" stroke="#111" stroke-width="2.1"/><path d="M153.5,160.8L147.5,163.7L147.5,158.0Z" fill="#111"/><path d="M146.3,125.7L149.9,122.4" stroke="#111" stroke-width="1.5"/><path d="M152.8,119.8L151.0,124.3L148.1,121.2Z" fill="#111"/><path d="M160.6,131.5L166.3,128.4" stroke="#111" stroke-width="2.1"/><path d="M171.1,125.7L167.3,131.1L164.4,126.1Z" fill="#111"/><path d="M176.3,120.4L181.6,119.3" stroke="#111" stroke-width="1.5"/><path d="M185.4,118.5L181.6,121.5L180.7,117.3Z" fill="#111"/><path d="M173.0,136.1L183.3,138.7" stroke="#111" stroke-width="2.1"/><path d="M188.7,140.0L182.2,141.3L183.5,135.7Z" fill="#111"/><path d="M165.9,158.9L176.6,153.5" stroke="#111" stroke-width="2.1"/><path d="M181.5,151.1L177.4,156.3L174.8,151.2Z" fill="#111"/><path d="M188.0,161.5L192.6,152.7" stroke="#111" stroke-width="2.1"/><path d="M195.2,147.8L195.0,154.5L189.9,151.8Z" fill="#111"/><path d="M193.9,132.8L201.0,139.5" stroke="#111" stroke-width="2.1"/><path d="M205.0,143.2L198.6,141.2L202.6,137.0Z" fill="#111"/><path d="M211.5,120.4L211.8,124.7" stroke="#111" stroke-width="2.1"/><path d="M212.1,130.2L208.9,124.4L214.6,124.0Z" fill="#111"/><path d="M234.9,119.1L228.4,130.5" stroke="#111" stroke-width="3.2"/><path d="M224.5,137.4L225.2,128.1L232.2,132.1Z" fill="#111"/><path d="M253.2,116.5L244.4,123.4" stroke="#111" stroke-width="3.2"/><path d="M238.2,128.3L242.3,119.9L247.3,126.3Z" fill="#111"/><path d="M270.1,121.1L261.0,127.2" stroke="#111" stroke-width="2.1"/><path d="M256.4,130.2L259.8,124.5L263.0,129.3Z" fill="#111"/><path d="M210.2,149.8L215.3,145.0" stroke="#111" stroke-width="2.1"/><path d="M219.3,141.3L216.9,147.5L212.9,143.3Z" fill="#111"/><path d="M233.0,154.3L233.0,148.1" stroke="#111" stroke-width="2.1"/><path d="M233.0,142.6L235.9,148.6L230.1,148.6Z" fill="#111"/><path d="M255.8,146.5L256.1,143.2" stroke="#111" stroke-width="1.5"/><path d="M256.4,139.3L258.1,143.9L253.9,143.5Z" fill="#111"/><path d="M276.6,134.8L273.3,143.9" stroke="#111" stroke-width="2.1"/><path d="M271.4,149.1L270.8,142.5L276.2,144.5Z" fill="#111"/><path d="M208.2,167.4L208.9,160.4" stroke="#111" stroke-width="2.1"/><path d="M209.5,155.0L211.8,161.2L206.0,160.6Z" fill="#111"/><path d="M225.8,170.0L225.8,163.7" stroke="#111" stroke-width="2.1"/><path d="M225.8,158.2L228.7,164.2L222.9,164.2Z" fill="#111"/><path d="M182.8,174.5L183.5,170.6" stroke="#111" stroke-width="1.5"/><path d="M184.1,166.7L185.5,171.4L181.3,170.7Z" fill="#111"/><path d="M191.3,178.4L200.9,176.2" stroke="#111" stroke-width="2.1"/><path d="M206.3,174.9L201.1,179.1L199.8,173.5Z" fill="#111"/><path d="M210.2,177.1L215.8,184.0" stroke="#111" stroke-width="2.1"/><path d="M219.3,188.2L213.3,185.4L217.7,181.8Z" fill="#111"/><path d="M223.2,188.9L229.3,198.0" stroke="#111" stroke-width="2.1"/><path d="M232.3,202.5L226.6,199.2L231.4,196.0Z" fill="#111"/><path d="M193.2,196.7L217.0,204.1" stroke="#111" stroke-width="3.2"/><path d="M224.5,206.5L215.3,207.8L217.7,200.1Z" fill="#111"/><path d="M182.8,205.2L197.2,194.8" stroke="#111" stroke-width="3.2"/><path d="M203.7,190.2L199.2,198.3L194.5,191.8Z" fill="#111"/><path d="M175.0,196.0L178.2,188.1" stroke="#111" stroke-width="2.1"/><path d="M180.2,183.0L180.6,189.6L175.3,187.5Z" fill="#111"/><path d="M160.6,175.2L163.0,180.7" stroke="#111" stroke-width="1.5"/><path d="M164.6,184.3L160.9,181.1L164.8,179.4Z" fill="#111"/><path d="M149.6,179.1L149.8,180.8" stroke="#111" stroke-width="1.5"/><path d="M150.2,183.0L148.5,180.5L151.1,180.0Z" fill="#111"/><path d="M154.1,202.5L146.1,193.6" stroke="#111" stroke-width="2.1"/><path d="M142.4,189.5L148.6,192.0L144.3,195.9Z" fill="#111"/><path d="M168.5,207.8L164.9,202.0" stroke="#111" stroke-width="2.1"/><path d="M162.0,197.3L167.6,200.9L162.7,203.9Z" fill="#111"/><path d="M181.5,209.1L182.2,205.1" stroke="#111" stroke-width="1.5"/><path d="M182.8,201.2L184.2,205.9L180.0,205.2Z" fill="#111"/><path d="M238.8,204.5L247.1,197.1" stroke="#111" stroke-width="2.1"/><path d="M251.2,193.4L248.7,199.6L244.8,195.3Z" fill="#111"/><path d="M250.6,178.4L245.2,180.0" stroke="#111" stroke-width="1.5"/><path d="M241.5,181.0L245.1,177.8L246.3,181.9Z" fill="#111"/><path d="M259.0,181.0L261.7,186.0" stroke="#111" stroke-width="2.1"/><path d="M264.3,190.8L258.9,186.9L264.0,184.2Z" fill="#111"/><path d="M264.9,194.7L267.9,201.4" stroke="#111" stroke-width="2.1"/><path d="M270.1,206.5L265.1,202.1L270.3,199.8Z" fill="#111"/><path d="M232.3,109.4L231.1,109.6" stroke="#111" stroke-width="1.5"/><path d="M229.7,109.8L231.4,108.6L231.7,110.4Z" fill="#111"/><path d="M284.5,125.7L283.8,126.9" stroke="#111" stroke-width="1.5"/><path d="M283.2,128.3L283.2,126.0L284.9,126.9Z" fill="#111"/><path d="M194.5,110.0L195.6,108.4" stroke="#111" stroke-width="1.5"/><path d="M197.1,106.1L196.6,109.7L194.0,108.0Z" fill="#111"/>
<rect x="276" y="174" width="19.5" height="37.7" fill="#fff"/>
<text x="283.3" y="186.8" font-size="12.5" text-anchor="middle">1</text>
<path d="M274.3,196.7L286,196.7" stroke="#000" stroke-width="1.7"/><path d="M292,196.7L285.5,193.9L285.5,199.5Z" fill="#000"/>
</g>
<rect x="0" y="0" width="295.5" height="211.7" fill="none" stroke="#000" stroke-width="2.2"/>
<line x1="23.6" y1="211.7" x2="23.6" y2="218.2" stroke="#000" stroke-width="2"/>
<line x1="94.6" y1="211.7" x2="94.6" y2="218.2" stroke="#000" stroke-width="2"/>
<line x1="165.5" y1="211.7" x2="165.5" y2="218.2" stroke="#000" stroke-width="2"/>
<line x1="236.4" y1="211.7" x2="236.4" y2="218.2" stroke="#000" stroke-width="2"/>
<text transform="translate(-2.2,-7.5) scale(0.97,1)" font-size="22.5">(b) MJJ</text>
<text transform="translate(297.7,-5.7) scale(0.955,1)" font-size="22.5" text-anchor="end">SEN</text>
</g>
<g transform="translate(683.10,37.50)">
<g clip-path="url(#cp)">
<path d="M96.3,88.3 110.2,87.0 111.5,98.4 110.2,107.3 96.3,107.3Z" fill="#88bef8"/><path d="M99.4,80.6 108.9,79.4 110.2,88.3 106.4,92.1 100.1,90.8Z" fill="#3c78f5"/><path d="M101.3,75.6 107.0,75.6 108.9,81.9 103.9,84.4 100.7,83.2Z" fill="#0a14ff"/><path d="M129.2,29.9 136.8,28.7 150.8,29.9 150.8,65.4 139.4,65.4 130.5,59.1Z" fill="#88bef8"/><path d="M130.5,41.3 139.4,37.5 150.8,35.0 150.8,65.4 140.6,64.2 138.1,59.1 130.5,59.1Z" fill="#0a14ff"/><path d="M141.9,43.9 150.8,42.6 150.8,65.4 144.4,62.9 140.6,52.8Z" fill="#2e0a78"/><path d="M128.0,84.4 133.0,84.4 133.0,88.3 128.0,88.3Z" fill="#ffc09a"/><path d="M140.6,33.7 178.7,33.7 174.8,41.3 167.2,47.7 166.0,62.9 164.7,70.5 154.6,71.7 140.6,67.9Z" fill="#3c78f5"/><path d="M140.6,35.0 160.9,35.0 166.0,47.7 166.0,67.9 154.6,71.1 140.6,67.9Z" fill="#0a14ff"/><path d="M140.6,47.7 149.5,46.4 158.4,50.2 160.9,59.1 155.8,66.7 147.0,65.4 140.6,62.9Z" fill="#2e0a78"/><path d="M196.4,88.2 201.5,81.9 210.3,73.0 217.9,65.4 221.7,59.1 226.2,59.7 226.8,70.5 224.3,81.9 220.5,92.0 207.8,93.3 197.7,92.0Z" fill="#ff7850"/><path d="M212.9,78.1 217.9,73.6 221.7,74.3 223.0,81.9 219.2,86.9 214.1,85.7Z" fill="#ff1408"/><path d="M281.3,16.0 286.4,16.0 286.4,35.0 281.3,35.0Z" fill="#2100c4"/><path d="M248.4,98.3 252.8,98.3 252.8,107.2 248.4,107.2Z" fill="#ff7850"/><path d="M46.8,121.7 67.7,121.7 67.7,137.4 49.4,137.4Z" fill="#fff0e0"/><path d="M12.9,111.3 23.4,108.7 36.4,110.0 39.0,123.0 49.4,137.4 50.7,146.5 42.9,150.4 36.4,158.2 36.4,171.3 26.0,172.6 19.4,171.3 14.2,158.2 12.9,142.6 11.6,129.6Z" fill="#ffc09a"/><path d="M14.2,113.9 26.0,111.3 28.6,123.0 26.0,134.8 19.4,138.7 12.9,136.1 12.9,123.0Z" fill="#ff7850"/><path d="M91.1,102.8 151.1,102.8 151.1,194.7 136.7,194.7 128.9,184.3 123.7,176.5 117.2,172.6 98.9,171.3 83.3,171.3 72.9,168.7 70.3,164.8 78.1,158.2 80.7,146.5 83.3,129.6 91.1,116.5Z" fill="#88bef8"/><path d="M80.7,155.6 91.1,153.0 104.2,155.6 117.2,159.5 117.2,171.3 104.2,172.6 91.1,172.6 80.7,168.7Z" fill="#3c78f5"/><path d="M109.4,127.0 114.6,125.7 119.8,132.2 117.2,140.0 110.7,140.0 108.1,133.5Z" fill="#3c78f5"/><path d="M125.0,145.2 151.1,142.6 151.1,181.7 140.7,180.4 130.2,177.8 127.6,163.5Z" fill="#3c78f5"/><path d="M101.6,156.9 112.0,156.9 115.9,164.8 106.8,166.1 101.6,163.5Z" fill="#0a14ff"/><path d="M131.5,162.1 135.4,163.5 135.4,168.7 131.5,168.7Z" fill="#0a14ff"/><path d="M161.4,145.2 168.0,140.0 181.0,132.2 204.5,127.0 259.2,125.7 272.2,124.4 282.7,128.3 285.3,137.4 284.0,173.9 270.9,175.2 270.9,194.7 265.7,196.0 252.7,193.4 235.7,188.2 226.6,179.1 214.9,172.6 203.2,167.4 181.0,163.5 165.4,158.2 161.4,151.7Z" fill="#ffc09a"/><path d="M165.4,146.5 181.0,133.5 204.5,128.3 276.1,127.0 285.3,134.8 284.0,173.9 270.9,174.5 269.6,193.4 263.1,193.4 256.6,186.9 246.2,181.7 233.1,176.5 214.9,167.4 196.6,164.8 181.0,160.8 168.0,155.6Z" fill="#ff7850"/><path d="M169.3,145.2 181.0,136.1 204.5,129.6 274.8,128.3 284.0,133.5 284.0,173.9 272.2,173.9 265.7,171.3 252.7,167.4 233.1,164.8 214.9,163.5 200.5,162.1 184.9,159.5 171.9,155.6Z" fill="#ff1408"/><path d="M173.2,142.6 184.9,137.4 204.5,132.2 273.5,130.9 282.7,134.8 284.0,172.6 270.9,172.6 259.2,166.1 233.1,162.1 213.6,160.8 196.6,158.2 181.0,155.6Z" fill="#e0001a"/><path d="M181.0,141.3 204.5,134.8 272.2,133.5 282.0,136.1 283.3,171.3 272.2,170.0 259.2,163.5 233.1,159.5 213.6,158.2 196.6,155.6 184.9,153.0Z" fill="#a00028"/><path d="M140.6,102.8 153.6,102.8 153.6,134.8 140.6,134.8Z" fill="#88bef8"/><path d="M140.6,155.6 148.4,155.6 148.4,168.7 140.6,168.7Z" fill="#88bef8"/><path d="M140.6,168.7 154.9,170.0 168.0,176.5 187.5,179.1 204.5,189.5 205.8,207.8 140.6,210.4Z" fill="#88bef8"/><path d="M169.3,186.9 178.4,184.3 186.2,189.5 190.1,197.3 184.9,201.2 174.5,194.7Z" fill="#3c78f5"/><path d="M285.3,113.9 294.4,113.9 294.4,121.7 285.3,121.7Z" fill="#88bef8"/><path d="M250.1,102.8 255.3,102.8 255.3,107.4 250.1,107.4Z" fill="#ff7850"/>
<use href="#lf"/><use href="#lc"/><use href="#ld"/><use href="#ll"/>
<path d="M20.2,3.3L22.2,3.6" stroke="#111" stroke-width="1.5"/><path d="M25.3,3.9L21.5,5.2L21.9,1.8Z" fill="#111"/><path d="M88.7,6.5L87.1,5.2" stroke="#111" stroke-width="1.5"/><path d="M84.8,3.3L88.6,4.2L86.4,6.8Z" fill="#111"/><path d="M134.3,5.2L131.8,5.0" stroke="#111" stroke-width="1.5"/><path d="M128.0,4.6L132.5,2.9L132.1,7.1Z" fill="#111"/><path d="M5.6,14.7L6.9,17.0" stroke="#111" stroke-width="1.5"/><path d="M8.8,20.4L4.8,17.6L8.5,15.5Z" fill="#111"/><path d="M41.7,18.5L43.0,14.6" stroke="#111" stroke-width="1.5"/><path d="M44.3,10.9L44.9,15.8L40.9,14.4Z" fill="#111"/><path d="M22.7,19.2L24.7,20.4" stroke="#111" stroke-width="1.5"/><path d="M27.8,22.3L23.2,21.8L25.3,18.4Z" fill="#111"/><path d="M100.1,17.9L98.9,17.3" stroke="#111" stroke-width="1.5"/><path d="M97.5,16.6L99.7,16.7L98.9,18.4Z" fill="#111"/><path d="M11.3,35.0L14.2,36.4" stroke="#111" stroke-width="1.5"/><path d="M17.7,38.2L12.8,38.1L14.7,34.3Z" fill="#111"/><path d="M25.9,37.5L32.5,36.5" stroke="#111" stroke-width="2.1"/><path d="M37.9,35.6L32.5,39.4L31.6,33.7Z" fill="#111"/><path d="M46.8,32.5L49.7,31.0" stroke="#111" stroke-width="1.5"/><path d="M53.2,29.3L50.2,33.2L48.3,29.4Z" fill="#111"/><path d="M64.6,35.6L66.8,34.5" stroke="#111" stroke-width="1.5"/><path d="M70.3,32.7L67.3,36.6L65.4,32.8Z" fill="#111"/><path d="M9.4,53.4L7.1,52.1" stroke="#111" stroke-width="1.5"/><path d="M3.7,50.2L8.6,50.5L6.5,54.2Z" fill="#111"/><path d="M51.9,49.7L54.3,49.8" stroke="#111" stroke-width="1.5"/><path d="M58.2,50.0L53.7,51.9L53.9,47.7Z" fill="#111"/><path d="M88.7,47.0L90.3,48.7" stroke="#111" stroke-width="1.5"/><path d="M93.1,51.5L88.5,49.9L91.5,46.9Z" fill="#111"/><path d="M41.7,63.5L42.8,65.1" stroke="#111" stroke-width="1.5"/><path d="M44.3,67.3L41.2,65.5L43.8,63.8Z" fill="#111"/><path d="M59.5,70.5L58.9,71.9" stroke="#111" stroke-width="1.5"/><path d="M58.2,73.7L58.0,71.0L60.2,71.9Z" fill="#111"/><path d="M76.0,73.7L77.5,74.7" stroke="#111" stroke-width="1.5"/><path d="M79.8,76.2L76.3,75.7L78.0,73.2Z" fill="#111"/><path d="M28.4,76.8L28.8,81.2" stroke="#111" stroke-width="1.5"/><path d="M29.1,85.1L26.6,80.9L30.8,80.5Z" fill="#111"/><path d="M41.7,84.4L45.3,88.0" stroke="#111" stroke-width="1.5"/><path d="M48.1,90.8L43.5,89.2L46.5,86.2Z" fill="#111"/><path d="M63.3,90.8L62.0,90.7" stroke="#111" stroke-width="1.5"/><path d="M60.8,90.5L62.6,89.9L62.4,91.6Z" fill="#111"/><path d="M86.1,90.8L85.2,91.7" stroke="#111" stroke-width="1.5"/><path d="M84.2,92.7L84.9,90.7L86.2,92.0Z" fill="#111"/><path d="M144.4,16.0L138.4,21.2" stroke="#111" stroke-width="2.1"/><path d="M134.3,24.9L136.9,18.7L140.7,23.1Z" fill="#111"/><path d="M131.8,37.5L130.3,39.2" stroke="#111" stroke-width="1.5"/><path d="M128.0,42.0L129.1,37.6L132.1,40.1Z" fill="#111"/><path d="M147.0,40.1L145.5,41.3" stroke="#111" stroke-width="1.5"/><path d="M143.2,43.2L144.8,39.7L146.9,42.3Z" fill="#111"/><path d="M141.9,59.1L147.6,75.7" stroke="#111" stroke-width="1.5"/><path d="M148.9,79.4L145.5,75.9L149.4,74.5Z" fill="#111"/><path d="M118.4,78.1L122.8,75.0" stroke="#111" stroke-width="2.1"/><path d="M127.3,71.8L124.1,77.6L120.8,72.9Z" fill="#111"/><path d="M109.6,86.4L109.9,90.7" stroke="#111" stroke-width="1.5"/><path d="M110.2,94.6L107.8,90.4L112.0,90.0Z" fill="#111"/><path d="M134.9,83.2L135.2,87.8" stroke="#111" stroke-width="2.1"/><path d="M135.6,93.3L132.3,87.5L138.1,87.2Z" fill="#111"/><path d="M128.0,102.2L122.6,103.1" stroke="#111" stroke-width="2.1"/><path d="M117.2,104.1L122.6,100.2L123.6,105.9Z" fill="#111"/><path d="M147.0,98.4L143.4,101.7" stroke="#111" stroke-width="2.1"/><path d="M139.4,105.4L141.8,99.2L145.7,103.4Z" fill="#111"/><path d="M162.2,24.2L156.9,24.4" stroke="#111" stroke-width="2.1"/><path d="M151.4,24.6L157.3,21.5L157.5,27.3Z" fill="#111"/><path d="M155.8,36.3L148.6,40.5" stroke="#111" stroke-width="2.1"/><path d="M143.8,43.2L147.6,37.7L150.4,42.7Z" fill="#111"/><path d="M169.1,67.3L166.9,62.0" stroke="#111" stroke-width="1.5"/><path d="M165.3,58.4L169.0,61.6L165.1,63.3Z" fill="#111"/><path d="M145.7,66.7L151.1,78.7" stroke="#111" stroke-width="2.1"/><path d="M153.3,83.8L148.2,79.5L153.5,77.1Z" fill="#111"/><path d="M150.8,88.8L156.4,90.8" stroke="#111" stroke-width="2.1"/><path d="M161.5,92.6L154.9,93.4L156.8,87.9Z" fill="#111"/><path d="M147.0,97.7L144.1,102.1" stroke="#111" stroke-width="1.5"/><path d="M141.9,105.3L142.6,100.5L146.1,102.8Z" fill="#111"/><path d="M177.4,101.5L181.5,103.6" stroke="#111" stroke-width="1.5"/><path d="M185.0,105.3L180.1,105.2L182.0,101.5Z" fill="#111"/><path d="M188.8,100.2L192.1,102.9" stroke="#111" stroke-width="1.5"/><path d="M195.1,105.3L190.4,104.2L193.0,100.9Z" fill="#111"/><path d="M223.6,55.9L216.5,56.1" stroke="#111" stroke-width="2.1"/><path d="M211.0,56.3L216.9,53.2L217.0,59.0Z" fill="#111"/><path d="M231.2,79.3L229.3,66.9" stroke="#111" stroke-width="3.2"/><path d="M228.1,59.1L233.4,66.7L225.4,68.0Z" fill="#111"/><path d="M211.6,85.7L213.7,81.6" stroke="#111" stroke-width="1.5"/><path d="M215.4,78.1L215.3,83.0L211.5,81.1Z" fill="#111"/><path d="M232.5,92.0L229.0,87.0" stroke="#111" stroke-width="1.5"/><path d="M226.8,83.8L231.0,86.2L227.6,88.6Z" fill="#111"/><path d="M196.4,100.9L199.6,96.9" stroke="#111" stroke-width="1.5"/><path d="M202.1,93.9L200.9,98.7L197.7,96.0Z" fill="#111"/><path d="M217.9,104.7L216.9,100.2" stroke="#111" stroke-width="1.5"/><path d="M216.0,96.4L219.1,100.3L215.0,101.2Z" fill="#111"/><path d="M249.6,45.1L247.7,46.3" stroke="#111" stroke-width="1.5"/><path d="M244.5,48.3L247.0,44.4L249.2,47.8Z" fill="#111"/><path d="M259.8,65.4L259.5,62.9" stroke="#111" stroke-width="1.5"/><path d="M259.1,59.1L261.7,63.2L257.5,63.6Z" fill="#111"/><path d="M248.4,78.7L246.8,77.9" stroke="#111" stroke-width="1.5"/><path d="M244.5,76.8L247.8,76.9L246.6,79.4Z" fill="#111"/><path d="M254.7,93.9L253.2,94.2" stroke="#111" stroke-width="1.5"/><path d="M251.5,94.5L253.5,93.0L253.9,95.2Z" fill="#111"/><path d="M277.5,17.2L275.9,17.5" stroke="#111" stroke-width="1.5"/><path d="M273.7,17.9L276.1,16.2L276.6,18.7Z" fill="#111"/><path d="M289.5,33.1L288.1,33.1" stroke="#111" stroke-width="1.5"/><path d="M286.4,33.1L288.6,32.0L288.6,34.1Z" fill="#111"/><path d="M263.6,36.9L262.3,37.2" stroke="#111" stroke-width="1.5"/><path d="M261.0,37.5L262.6,36.2L263.0,37.9Z" fill="#111"/><path d="M276.2,49.6L277.5,49.9" stroke="#111" stroke-width="1.5"/><path d="M278.8,50.2L276.8,50.6L277.2,48.9Z" fill="#111"/><path d="M18.1,117.8L10.4,119.8" stroke="#111" stroke-width="2.1"/><path d="M5.1,121.1L10.2,116.8L11.6,122.4Z" fill="#111"/><path d="M29.9,111.3L27.1,113.5" stroke="#111" stroke-width="1.5"/><path d="M24.0,115.9L26.2,111.5L28.8,114.8Z" fill="#111"/><path d="M31.8,128.9L20.7,132.9" stroke="#111" stroke-width="2.1"/><path d="M15.5,134.8L20.2,130.0L22.2,135.5Z" fill="#111"/><path d="M14.9,141.3L12.6,149.1" stroke="#111" stroke-width="2.1"/><path d="M11.0,154.3L9.9,147.8L15.5,149.4Z" fill="#111"/><path d="M35.7,145.2L29.5,148.1" stroke="#111" stroke-width="1.5"/><path d="M26.0,149.8L29.1,146.0L30.8,149.8Z" fill="#111"/><path d="M20.8,158.2L20.1,163.9" stroke="#111" stroke-width="2.1"/><path d="M19.4,169.3L17.3,163.0L23.0,163.7Z" fill="#111"/><path d="M52.7,151.7L45.5,158.9" stroke="#111" stroke-width="2.1"/><path d="M41.6,162.8L43.8,156.5L47.9,160.6Z" fill="#111"/><path d="M61.2,142.6L50.5,136.7" stroke="#111" stroke-width="3.2"/><path d="M43.6,132.8L52.9,133.4L48.9,140.4Z" fill="#111"/><path d="M36.4,121.7L40.2,125.5" stroke="#111" stroke-width="1.5"/><path d="M42.9,128.3L38.3,126.6L41.3,123.7Z" fill="#111"/><path d="M75.5,153.0L66.4,142.7" stroke="#111" stroke-width="3.2"/><path d="M61.2,136.7L69.7,140.4L63.7,145.7Z" fill="#111"/><path d="M79.4,170.0L73.5,158.6" stroke="#111" stroke-width="2.1"/><path d="M70.9,153.7L76.3,157.7L71.1,160.3Z" fill="#111"/><path d="M31.8,172.6L31.8,176.5" stroke="#111" stroke-width="1.5"/><path d="M31.8,180.4L29.7,176.0L33.9,176.0Z" fill="#111"/><path d="M44.9,185.0L44.9,189.5" stroke="#111" stroke-width="1.5"/><path d="M44.9,193.4L42.8,189.0L47.0,189.0Z" fill="#111"/><path d="M28.6,192.1L28.9,195.4" stroke="#111" stroke-width="1.5"/><path d="M29.2,199.3L26.7,195.1L30.9,194.7Z" fill="#111"/><path d="M50.7,200.6L52.0,204.1" stroke="#111" stroke-width="1.5"/><path d="M53.3,207.8L49.8,204.3L53.8,202.9Z" fill="#111"/><path d="M20.8,192.1L19.5,192.7" stroke="#111" stroke-width="1.5"/><path d="M18.1,193.4L19.5,191.6L20.4,193.4Z" fill="#111"/><path d="M5.1,175.8L6.9,176.6" stroke="#111" stroke-width="1.5"/><path d="M9.7,177.8L5.8,178.0L7.1,174.9Z" fill="#111"/><path d="M82.0,173.9L81.5,176.6" stroke="#111" stroke-width="1.5"/><path d="M80.7,180.4L79.5,175.7L83.6,176.5Z" fill="#111"/><path d="M83.3,192.8L83.8,195.0" stroke="#111" stroke-width="1.5"/><path d="M84.6,198.6L81.7,195.0L85.7,194.1Z" fill="#111"/><path d="M62.5,119.8L58.8,123.0" stroke="#111" stroke-width="1.5"/><path d="M55.9,125.7L57.8,121.1L60.6,124.3Z" fill="#111"/><path d="M53.3,106.1L51.3,106.6" stroke="#111" stroke-width="1.5"/><path d="M48.1,107.4L51.3,104.7L52.2,108.2Z" fill="#111"/><path d="M76.8,108.7L76.2,109.9" stroke="#111" stroke-width="1.5"/><path d="M75.5,111.3L75.5,109.1L77.3,109.9Z" fill="#111"/><path d="M100.9,106.1L100.6,108.0" stroke="#111" stroke-width="1.5"/><path d="M100.3,110.7L99.2,107.3L102.2,107.7Z" fill="#111"/><path d="M140.7,104.8L140.1,106.5" stroke="#111" stroke-width="1.5"/><path d="M139.4,108.7L138.9,105.5L141.6,106.4Z" fill="#111"/><path d="M105.5,119.1L116.3,119.6" stroke="#111" stroke-width="2.1"/><path d="M121.8,119.8L115.6,122.4L115.9,116.7Z" fill="#111"/><path d="M125.0,116.5L132.9,119.7" stroke="#111" stroke-width="2.1"/><path d="M138.0,121.7L131.4,122.2L133.5,116.8Z" fill="#111"/><path d="M140.7,124.4L147.2,123.1" stroke="#111" stroke-width="1.5"/><path d="M151.1,122.4L147.1,125.3L146.4,121.1Z" fill="#111"/><path d="M103.5,155.6L103.5,134.9" stroke="#111" stroke-width="3.2"/><path d="M103.5,127.0L107.5,135.4L99.5,135.4Z" fill="#111"/><path d="M108.1,143.2L127.4,131.1" stroke="#111" stroke-width="3.2"/><path d="M134.1,127.0L129.2,134.8L124.9,128.0Z" fill="#111"/><path d="M114.6,146.5L143.5,138.3" stroke="#111" stroke-width="3.2"/><path d="M151.1,136.1L144.1,142.3L141.9,134.5Z" fill="#111"/><path d="M126.3,154.3L143.2,153.9" stroke="#111" stroke-width="3.2"/><path d="M151.1,153.7L142.8,157.9L142.6,149.9Z" fill="#111"/><path d="M143.3,149.8L146.1,150.0" stroke="#111" stroke-width="2.1"/><path d="M151.1,150.4L145.4,152.6L145.8,147.3Z" fill="#111"/><path d="M102.9,156.9L95.9,160.8" stroke="#111" stroke-width="2.1"/><path d="M91.1,163.5L95.0,158.0L97.8,163.1Z" fill="#111"/><path d="M128.9,175.2L131.1,164.9" stroke="#111" stroke-width="2.1"/><path d="M132.2,159.5L133.8,166.0L128.1,164.8Z" fill="#111"/><path d="M145.9,168.7L145.0,175.2" stroke="#111" stroke-width="1.5"/><path d="M144.6,179.1L143.0,174.5L147.2,175.0Z" fill="#111"/><path d="M130.2,181.7L130.0,184.3" stroke="#111" stroke-width="1.5"/><path d="M129.6,188.2L127.9,183.6L132.1,184.0Z" fill="#111"/><path d="M149.9,194.7L143.3,188.2" stroke="#111" stroke-width="2.1"/><path d="M139.4,184.3L145.6,186.5L141.6,190.6Z" fill="#111"/><path d="M112.0,202.5L110.7,202.5" stroke="#111" stroke-width="1.5"/><path d="M109.4,202.5L111.2,201.7L111.2,203.4Z" fill="#111"/><path d="M145.9,207.8L147.0,208.9" stroke="#111" stroke-width="1.5"/><path d="M148.5,210.4L145.8,209.4L147.5,207.7Z" fill="#111"/><path d="M141.9,124.4L152.2,121.8" stroke="#111" stroke-width="2.1"/><path d="M157.5,120.4L152.4,124.7L151.0,119.1Z" fill="#111"/><path d="M162.8,117.2L170.6,116.3" stroke="#111" stroke-width="1.5"/><path d="M174.5,115.9L170.3,118.5L169.9,114.3Z" fill="#111"/><path d="M141.9,132.8L154.6,132.1" stroke="#111" stroke-width="4.0"/><path d="M164.1,131.5L154.4,136.9L153.8,127.3Z" fill="#111"/><path d="M141.9,138.7L170.2,136.7" stroke="#111" stroke-width="4.0"/><path d="M179.7,136.1L170.0,141.6L169.4,132.0Z" fill="#111"/><path d="M165.4,128.9L179.6,133.2" stroke="#111" stroke-width="2.1"/><path d="M184.9,134.8L178.3,135.8L180.0,130.3Z" fill="#111"/><path d="M169.3,144.6L188.9,148.3" stroke="#111" stroke-width="3.2"/><path d="M196.6,149.8L187.6,152.2L189.1,144.2Z" fill="#111"/><path d="M141.9,149.1L173.0,156.1" stroke="#111" stroke-width="4.0"/><path d="M182.3,158.2L171.5,160.7L173.6,151.4Z" fill="#111"/><path d="M141.9,155.6L154.6,156.1" stroke="#111" stroke-width="2.1"/><path d="M160.1,156.3L154.0,158.9L154.3,153.2Z" fill="#111"/><path d="M192.1,122.4L194.3,134.6" stroke="#111" stroke-width="2.1"/><path d="M195.3,140.0L191.4,134.6L197.1,133.6Z" fill="#111"/><path d="M203.2,133.5L212.5,143.7" stroke="#111" stroke-width="2.1"/><path d="M216.2,147.8L210.0,145.3L214.3,141.4Z" fill="#111"/><path d="M214.2,115.2L211.3,124.3" stroke="#111" stroke-width="2.1"/><path d="M209.7,129.6L208.7,123.0L214.2,124.7Z" fill="#111"/><path d="M233.1,113.3L227.3,136.2" stroke="#111" stroke-width="3.2"/><path d="M225.3,143.9L223.5,134.8L231.3,136.8Z" fill="#111"/><path d="M248.1,118.5L244.9,137.4" stroke="#111" stroke-width="3.2"/><path d="M243.6,145.2L241.0,136.2L248.9,137.6Z" fill="#111"/><path d="M277.4,122.4L257.7,127.6" stroke="#111" stroke-width="3.2"/><path d="M250.1,129.6L257.2,123.5L259.2,131.3Z" fill="#111"/><path d="M281.4,130.2L273.3,142.6" stroke="#111" stroke-width="2.1"/><path d="M270.3,147.2L271.1,140.6L276.0,143.7Z" fill="#111"/><path d="M254.0,141.3L258.6,144.6" stroke="#111" stroke-width="2.1"/><path d="M263.1,147.8L256.5,146.7L259.9,142.0Z" fill="#111"/><path d="M240.9,151.7L241.5,154.4" stroke="#111" stroke-width="1.5"/><path d="M242.3,158.2L239.3,154.3L243.5,153.5Z" fill="#111"/><path d="M225.3,147.8L225.3,149.9" stroke="#111" stroke-width="1.5"/><path d="M225.3,153.0L223.6,149.4L227.1,149.4Z" fill="#111"/><path d="M191.4,181.7L201.2,156.2" stroke="#111" stroke-width="2.1"/><path d="M203.2,151.1L203.7,157.7L198.3,155.6Z" fill="#111"/><path d="M216.2,159.5L215.2,163.6" stroke="#111" stroke-width="1.5"/><path d="M214.2,167.4L213.2,162.6L217.3,163.6Z" fill="#111"/><path d="M238.3,110.0L231.8,109.6" stroke="#111" stroke-width="1.5"/><path d="M227.9,109.4L232.4,107.5L232.2,111.7Z" fill="#111"/><path d="M255.3,112.6L250.1,112.2" stroke="#111" stroke-width="1.5"/><path d="M246.2,112.0L250.7,110.2L250.4,114.4Z" fill="#111"/><path d="M285.3,115.2L283.1,119.6" stroke="#111" stroke-width="1.5"/><path d="M281.4,123.0L281.4,118.2L285.2,120.1Z" fill="#111"/><path d="M290.5,146.5L288.2,151.4" stroke="#111" stroke-width="1.5"/><path d="M286.6,155.0L286.5,150.1L290.3,151.9Z" fill="#111"/><path d="M175.8,172.6L175.5,167.6" stroke="#111" stroke-width="2.1"/><path d="M175.1,162.1L178.4,168.0L172.6,168.3Z" fill="#111"/><path d="M145.8,179.1L146.6,172.5" stroke="#111" stroke-width="1.5"/><path d="M147.1,168.7L148.7,173.3L144.5,172.8Z" fill="#111"/><path d="M164.1,177.8L164.8,179.8" stroke="#111" stroke-width="1.5"/><path d="M166.0,183.0L162.9,180.0L166.4,178.7Z" fill="#111"/><path d="M152.3,200.6L145.2,191.3" stroke="#111" stroke-width="2.1"/><path d="M141.9,186.9L147.8,189.9L143.2,193.4Z" fill="#111"/><path d="M169.3,203.9L160.7,197.9" stroke="#111" stroke-width="2.1"/><path d="M156.2,194.7L162.8,195.8L159.5,200.5Z" fill="#111"/><path d="M179.7,193.4L179.7,185.6" stroke="#111" stroke-width="1.5"/><path d="M179.7,181.7L181.8,186.1L177.6,186.1Z" fill="#111"/><path d="M181.0,207.8L177.4,202.5" stroke="#111" stroke-width="1.5"/><path d="M175.1,199.3L179.4,201.7L175.9,204.1Z" fill="#111"/><path d="M194.0,207.8L197.1,188.4" stroke="#111" stroke-width="2.1"/><path d="M197.9,183.0L199.8,189.4L194.2,188.5Z" fill="#111"/><path d="M200.5,181.7L208.2,179.8" stroke="#111" stroke-width="2.1"/><path d="M213.6,178.4L208.5,182.7L207.1,177.1Z" fill="#111"/><path d="M207.1,207.8L213.3,200.3" stroke="#111" stroke-width="2.1"/><path d="M216.8,196.0L215.2,202.5L210.8,198.8Z" fill="#111"/><path d="M220.1,181.7L225.8,191.3" stroke="#111" stroke-width="2.1"/><path d="M228.6,196.0L223.0,192.3L228.0,189.4Z" fill="#111"/><path d="M253.3,198.6L262.8,199.1" stroke="#111" stroke-width="2.1"/><path d="M268.3,199.3L262.2,201.9L262.4,196.2Z" fill="#111"/><path d="M147.1,207.8L146.5,209.0" stroke="#111" stroke-width="1.5"/><path d="M145.8,210.4L145.8,208.1L147.6,209.0Z" fill="#111"/>
<rect x="276" y="174" width="19.5" height="37.7" fill="#fff"/>
<text x="283.3" y="186.8" font-size="12.5" text-anchor="middle">1</text>
<path d="M274.3,196.7L286,196.7" stroke="#000" stroke-width="1.7"/><path d="M292,196.7L285.5,193.9L285.5,199.5Z" fill="#000"/>
</g>
<rect x="0" y="0" width="295.5" height="211.7" fill="none" stroke="#000" stroke-width="2.2"/>
<line x1="23.6" y1="211.7" x2="23.6" y2="218.2" stroke="#000" stroke-width="2"/>
<line x1="94.6" y1="211.7" x2="94.6" y2="218.2" stroke="#000" stroke-width="2"/>
<line x1="165.5" y1="211.7" x2="165.5" y2="218.2" stroke="#000" stroke-width="2"/>
<line x1="236.4" y1="211.7" x2="236.4" y2="218.2" stroke="#000" stroke-width="2"/>
<text transform="translate(-2.2,-7.5) scale(0.97,1)" font-size="22.5">(c) JAS</text>
<text transform="translate(297.7,-5.7) scale(0.955,1)" font-size="22.5" text-anchor="end">SEN</text>
</g>
<g transform="translate(995.30,37.50)">
<g clip-path="url(#cp)">
<path d="M127.1,59.1 132.2,59.1 132.2,62.9 127.1,62.9Z" fill="#3c78f5"/><path d="M120.2,68.0 125.2,64.2 127.8,60.4 131.6,60.4 131.6,62.9 127.8,65.4 125.2,70.5 120.2,71.8Z" fill="#0a14ff"/><path d="M139.2,47.0 150.6,47.0 150.6,50.0 139.2,50.0Z" fill="#3c78f5"/><path d="M146.8,50.0 150.6,50.0 150.6,55.3 146.8,55.3Z" fill="#3c78f5"/><path d="M22.5,100.9 37.7,100.9 37.7,107.3 22.5,107.3Z" fill="#ffc09a"/><path d="M136.6,104.7 150.6,104.7 150.6,107.3 136.6,107.3Z" fill="#88bef8"/><path d="M140.4,46.6 153.1,46.6 153.1,49.9 140.4,49.9Z" fill="#3c78f5"/><path d="M148.0,49.9 151.6,49.9 151.6,54.6 148.0,54.6Z" fill="#3c78f5"/><path d="M156.9,73.0 167.0,70.5 188.6,68.6 188.6,73.0 184.8,79.3 175.9,83.1 172.1,79.3 160.7,79.3 156.9,76.8Z" fill="#3c78f5"/><path d="M156.3,63.5 165.1,63.5 165.1,67.3 177.2,68.6 175.9,73.6 160.7,74.3 156.9,70.5Z" fill="#0a14ff"/><path d="M281.1,3.3 288.7,3.3 288.7,12.2 286.2,19.8 286.8,29.9 284.9,37.5 281.1,35.0 279.8,24.8 281.1,14.7Z" fill="#3c78f5"/><path d="M281.1,19.8 286.2,19.8 286.8,31.2 283.6,33.7 281.1,28.6Z" fill="#2100c4"/><path d="M245.6,95.8 253.2,95.8 253.2,107.2 245.6,107.2Z" fill="#ff7850"/><path d="M140.4,104.7 164.5,104.7 164.5,107.2 140.4,107.2Z" fill="#88bef8"/><path d="M2.3,113.9 15.3,107.4 32.3,104.8 36.2,111.3 38.8,119.1 44.0,133.5 51.8,138.7 54.4,155.6 51.8,168.7 51.8,189.5 38.8,186.9 31.0,184.3 23.2,181.7 12.7,176.5 3.6,173.9 2.3,155.6 2.3,129.6Z" fill="#ffc09a"/><path d="M4.9,153.0 8.8,136.1 14.0,123.0 17.9,116.5 25.8,111.3 32.3,113.9 34.9,123.0 40.1,129.6 44.0,137.4 33.6,140.0 25.8,142.6 19.2,147.8 12.7,153.0Z" fill="#ff7850"/><path d="M49.2,107.4 61.0,107.4 64.9,116.5 67.5,129.6 62.3,136.1 54.4,136.1 50.5,123.0Z" fill="#ffc09a"/><path d="M74.0,123.0 88.3,123.0 90.9,129.6 85.7,137.4 77.9,137.4 74.0,130.9Z" fill="#ffc09a"/><path d="M98.7,108.7 135.2,106.1 150.9,106.1 150.9,194.7 137.8,194.7 128.7,181.7 124.8,171.3 124.8,142.6 117.0,138.7 107.9,138.7 104.0,129.6 106.6,116.5Z" fill="#88bef8"/><path d="M68.8,158.2 90.9,155.6 104.0,147.8 117.0,153.0 123.5,162.1 119.6,170.0 104.0,171.3 90.9,171.3 72.7,170.0Z" fill="#3c78f5"/><path d="M127.4,146.5 150.9,142.6 150.9,186.9 137.8,188.2 130.0,184.3 127.4,171.3 124.8,159.5Z" fill="#3c78f5"/><path d="M130.0,123.0 150.9,123.0 150.9,133.5 133.9,133.5Z" fill="#3c78f5"/><path d="M100.1,149.1 106.6,150.4 114.4,162.1 114.4,168.7 107.9,166.1 101.4,158.2Z" fill="#0a14ff"/><path d="M131.3,151.7 137.8,150.4 140.5,158.2 137.8,171.3 133.9,173.9 131.3,164.8Z" fill="#0a14ff"/><path d="M171.7,140.0 180.8,132.2 200.3,128.3 214.7,124.4 246.0,121.7 259.0,113.9 266.8,120.4 279.8,125.7 285.1,133.5 283.8,173.9 270.7,175.2 270.7,189.5 259.0,193.4 235.5,189.5 213.4,181.7 193.8,168.7 180.8,163.5 173.0,158.2Z" fill="#ffc09a"/><path d="M174.3,140.0 183.4,130.9 214.7,125.7 246.0,123.0 277.2,124.4 285.1,134.8 283.8,173.9 270.7,174.5 269.4,186.9 256.4,186.9 232.9,181.7 209.5,175.2 193.8,167.4 180.8,160.8Z" fill="#ff7850"/><path d="M175.6,140.0 184.7,132.2 214.7,128.3 274.6,127.0 284.4,134.8 283.8,173.9 270.7,173.9 256.4,176.5 232.9,173.9 206.9,170.0 193.8,164.8 180.8,159.5Z" fill="#ff1408"/><path d="M179.5,141.3 188.6,133.5 214.7,129.6 272.0,128.3 283.8,136.1 283.8,172.6 270.7,171.3 232.9,168.7 206.9,166.1 193.8,162.1 183.4,158.2Z" fill="#e0001a"/><path d="M184.7,142.6 193.8,134.8 214.7,130.9 272.0,129.6 283.1,138.7 283.8,171.3 272.0,168.7 232.9,164.8 206.9,162.1 193.8,159.5 187.3,154.3Z" fill="#a00028"/><path d="M140.4,102.8 165.2,102.8 161.2,113.9 158.6,124.4 154.7,137.4 140.4,138.7Z" fill="#88bef8"/><path d="M140.4,164.8 149.5,168.7 167.8,176.5 191.2,181.7 209.5,192.1 219.9,202.5 246.0,205.2 256.4,209.1 256.4,211.7 140.4,211.7Z" fill="#88bef8"/><path d="M140.4,172.6 154.7,173.9 174.3,181.7 191.2,186.9 204.3,194.7 209.5,205.2 180.8,207.8 161.2,202.5 152.1,194.7 140.4,189.5Z" fill="#3c78f5"/><path d="M140.4,123.0 145.6,123.0 145.6,142.6 140.4,142.6Z" fill="#3c78f5"/><path d="M285.1,102.8 294.2,102.8 294.2,111.3 285.1,111.3Z" fill="#88bef8"/><path d="M248.6,102.8 255.1,102.8 255.1,107.4 248.6,107.4Z" fill="#ff7850"/>
<use href="#lf"/><use href="#lc"/><use href="#ld"/><use href="#ll"/>
<path d="M21.3,11.5L19.0,11.5" stroke="#111" stroke-width="1.5"/><path d="M15.5,11.5L19.5,9.6L19.5,13.5Z" fill="#111"/><path d="M46.6,3.3L48.4,6.3" stroke="#111" stroke-width="1.5"/><path d="M50.4,9.6L46.3,7.0L50.0,4.8Z" fill="#111"/><path d="M40.9,24.2L39.5,21.4" stroke="#111" stroke-width="1.5"/><path d="M37.7,17.9L41.6,20.9L37.8,22.8Z" fill="#111"/><path d="M68.2,14.7L66.5,15.0" stroke="#111" stroke-width="1.5"/><path d="M64.4,15.3L66.8,13.6L67.2,16.2Z" fill="#111"/><path d="M85.9,14.1L84.3,14.5" stroke="#111" stroke-width="1.5"/><path d="M82.1,15.0L84.5,13.1L85.1,15.6Z" fill="#111"/><path d="M89.1,37.5L88.7,36.7" stroke="#111" stroke-width="1.5"/><path d="M88.5,36.3L89.3,36.9L88.5,37.4Z" fill="#111"/><path d="M46.6,62.9L46.1,63.4" stroke="#111" stroke-width="1.5"/><path d="M46.0,63.5L46.2,62.9L46.6,63.3Z" fill="#111"/><path d="M16.2,78.7L15.8,77.9" stroke="#111" stroke-width="1.5"/><path d="M15.5,77.5L16.4,78.2L15.6,78.6Z" fill="#111"/><path d="M42.8,81.3L41.2,81.4" stroke="#111" stroke-width="1.5"/><path d="M39.0,81.7L41.5,80.1L41.8,82.7Z" fill="#111"/><path d="M61.8,87.0L62.9,88.1" stroke="#111" stroke-width="1.5"/><path d="M64.4,89.5L61.7,88.6L63.4,86.9Z" fill="#111"/><path d="M118.9,29.9L115.7,30.5" stroke="#111" stroke-width="1.5"/><path d="M111.9,31.2L115.9,28.3L116.6,32.5Z" fill="#111"/><path d="M137.9,60.4L137.3,56.6" stroke="#111" stroke-width="1.5"/><path d="M136.6,52.8L139.4,56.7L135.3,57.4Z" fill="#111"/><path d="M127.8,77.5L128.6,72.7" stroke="#111" stroke-width="2.1"/><path d="M129.7,67.3L131.4,73.8L125.7,72.7Z" fill="#111"/><path d="M101.1,78.7L104.7,80.9" stroke="#111" stroke-width="2.1"/><path d="M109.4,83.8L102.8,83.1L105.8,78.2Z" fill="#111"/><path d="M117.6,93.3L121.5,87.7" stroke="#111" stroke-width="2.1"/><path d="M124.6,83.2L123.6,89.8L118.8,86.5Z" fill="#111"/><path d="M104.9,94.6L108.8,100.2" stroke="#111" stroke-width="2.1"/><path d="M111.9,104.7L106.1,101.4L110.9,98.2Z" fill="#111"/><path d="M140.4,95.9L136.9,100.4" stroke="#111" stroke-width="2.1"/><path d="M133.5,104.7L134.9,98.2L139.4,101.8Z" fill="#111"/><path d="M85.9,77.5L89.1,75.3" stroke="#111" stroke-width="1.5"/><path d="M92.3,73.0L89.9,77.3L87.4,73.8Z" fill="#111"/><path d="M87.2,94.0L86.8,92.9" stroke="#111" stroke-width="1.5"/><path d="M86.6,92.1L87.6,93.2L86.4,93.6Z" fill="#111"/><path d="M96.1,99.0L95.8,97.6" stroke="#111" stroke-width="1.5"/><path d="M95.4,95.9L96.9,97.9L94.8,98.3Z" fill="#111"/><path d="M26.3,92.7L25.6,93.4" stroke="#111" stroke-width="1.5"/><path d="M25.1,94.0L25.5,92.6L26.4,93.5Z" fill="#111"/><path d="M219.0,42.6L213.7,43.2" stroke="#111" stroke-width="2.1"/><path d="M208.2,43.9L213.9,40.3L214.5,46.0Z" fill="#111"/><path d="M165.1,52.7L167.3,59.5" stroke="#111" stroke-width="2.1"/><path d="M168.9,64.8L164.4,59.9L169.9,58.2Z" fill="#111"/><path d="M157.5,70.5L158.3,76.1" stroke="#111" stroke-width="1.5"/><path d="M158.8,80.0L156.1,75.9L160.3,75.3Z" fill="#111"/><path d="M169.6,80.6L170.7,89.1" stroke="#111" stroke-width="2.1"/><path d="M171.5,94.5L167.8,89.0L173.5,88.2Z" fill="#111"/><path d="M157.5,87.6L154.6,94.5" stroke="#111" stroke-width="2.1"/><path d="M152.5,99.6L152.1,93.0L157.5,95.2Z" fill="#111"/><path d="M166.4,99.6L166.9,101.8" stroke="#111" stroke-width="1.5"/><path d="M167.7,105.3L164.9,101.8L168.7,100.9Z" fill="#111"/><path d="M189.9,100.9L190.9,102.6" stroke="#111" stroke-width="1.5"/><path d="M192.4,105.3L189.1,103.1L192.1,101.4Z" fill="#111"/><path d="M248.2,55.3L246.0,55.7" stroke="#111" stroke-width="1.5"/><path d="M242.4,56.5L246.0,53.7L246.9,57.6Z" fill="#111"/><path d="M273.5,74.9L271.1,75.0" stroke="#111" stroke-width="1.5"/><path d="M267.2,75.2L271.5,72.9L271.6,77.1Z" fill="#111"/><path d="M274.8,47.0L275.1,48.1" stroke="#111" stroke-width="1.5"/><path d="M275.4,48.9L274.3,47.8L275.6,47.4Z" fill="#111"/><path d="M278.6,29.9L278.9,28.9" stroke="#111" stroke-width="1.5"/><path d="M279.2,28.0L279.4,29.6L278.1,29.1Z" fill="#111"/><path d="M268.4,102.1L267.8,103.4" stroke="#111" stroke-width="1.5"/><path d="M267.2,104.7L267.2,102.5L268.9,103.3Z" fill="#111"/><path d="M27.7,107.4L22.6,114.1" stroke="#111" stroke-width="2.1"/><path d="M19.2,118.5L20.6,112.0L25.2,115.5Z" fill="#111"/><path d="M23.8,128.9L17.0,132.3" stroke="#111" stroke-width="2.1"/><path d="M12.1,134.8L16.2,129.5L18.7,134.7Z" fill="#111"/><path d="M37.5,117.8L38.0,119.5" stroke="#111" stroke-width="1.5"/><path d="M38.8,121.7L36.6,119.4L39.2,118.6Z" fill="#111"/><path d="M44.0,147.8L29.7,138.4" stroke="#111" stroke-width="2.1"/><path d="M25.1,135.4L31.7,136.3L28.6,141.1Z" fill="#111"/><path d="M18.6,141.3L17.7,153.4" stroke="#111" stroke-width="2.1"/><path d="M17.3,158.9L14.9,152.7L20.6,153.1Z" fill="#111"/><path d="M61.0,141.3L47.1,130.9" stroke="#111" stroke-width="2.1"/><path d="M42.7,127.6L49.2,128.9L45.8,133.5Z" fill="#111"/><path d="M68.8,146.5L40.3,157.9" stroke="#111" stroke-width="3.2"/><path d="M32.9,160.8L39.2,154.0L42.2,161.5Z" fill="#111"/><path d="M31.0,155.6L30.6,165.8" stroke="#111" stroke-width="2.1"/><path d="M30.3,171.3L27.7,165.2L33.5,165.4Z" fill="#111"/><path d="M77.9,154.3L63.5,139.4" stroke="#111" stroke-width="2.1"/><path d="M59.7,135.4L65.9,137.7L61.7,141.7Z" fill="#111"/><path d="M47.9,162.1L46.0,177.5" stroke="#111" stroke-width="2.1"/><path d="M45.3,183.0L43.2,176.7L48.9,177.4Z" fill="#111"/><path d="M68.8,171.9L59.3,160.5" stroke="#111" stroke-width="2.1"/><path d="M55.7,156.3L61.8,159.0L57.4,162.7Z" fill="#111"/><path d="M31.0,179.1L32.6,187.4" stroke="#111" stroke-width="2.1"/><path d="M33.6,192.8L29.6,187.4L35.3,186.3Z" fill="#111"/><path d="M44.0,188.2L49.2,197.7" stroke="#111" stroke-width="2.1"/><path d="M51.8,202.5L46.4,198.7L51.5,195.9Z" fill="#111"/><path d="M58.3,179.1L63.4,184.2" stroke="#111" stroke-width="1.5"/><path d="M66.2,186.9L61.6,185.3L64.5,182.3Z" fill="#111"/><path d="M62.3,196.0L66.7,203.2" stroke="#111" stroke-width="1.5"/><path d="M68.8,206.5L64.7,203.8L68.2,201.6Z" fill="#111"/><path d="M80.5,183.0L80.2,185.6" stroke="#111" stroke-width="1.5"/><path d="M79.9,189.5L78.2,184.9L82.4,185.3Z" fill="#111"/><path d="M16.6,190.8L16.2,197.4" stroke="#111" stroke-width="1.5"/><path d="M16.0,201.2L14.2,196.7L18.4,197.0Z" fill="#111"/><path d="M12.7,175.2L14.7,176.4" stroke="#111" stroke-width="1.5"/><path d="M17.9,178.4L13.2,177.9L15.4,174.4Z" fill="#111"/><path d="M93.5,125.7L85.5,129.3" stroke="#111" stroke-width="2.1"/><path d="M80.5,131.5L84.8,126.4L87.2,131.7Z" fill="#111"/><path d="M105.3,140.0L105.3,130.5" stroke="#111" stroke-width="2.1"/><path d="M105.3,125.0L108.1,131.0L102.4,131.0Z" fill="#111"/><path d="M110.5,112.6L116.4,116.9" stroke="#111" stroke-width="1.5"/><path d="M119.6,119.1L114.8,118.3L117.2,114.9Z" fill="#111"/><path d="M128.7,113.3L134.8,121.3" stroke="#111" stroke-width="1.5"/><path d="M137.2,124.4L132.8,122.1L136.2,119.6Z" fill="#111"/><path d="M143.1,124.4L147.6,127.4" stroke="#111" stroke-width="1.5"/><path d="M150.9,129.6L146.0,128.9L148.4,125.4Z" fill="#111"/><path d="M120.9,134.8L143.0,135.3" stroke="#111" stroke-width="3.2"/><path d="M150.9,135.4L142.4,139.3L142.6,131.2Z" fill="#111"/><path d="M118.3,144.6L141.4,145.9" stroke="#111" stroke-width="4.0"/><path d="M150.9,146.5L140.6,150.7L141.2,141.1Z" fill="#111"/><path d="M122.2,138.7L123.8,132.7" stroke="#111" stroke-width="1.5"/><path d="M124.8,128.9L125.7,133.7L121.6,132.6Z" fill="#111"/><path d="M130.0,158.2L130.4,149.4" stroke="#111" stroke-width="2.1"/><path d="M130.7,143.9L133.3,150.0L127.5,149.8Z" fill="#111"/><path d="M137.8,172.6L143.4,160.6" stroke="#111" stroke-width="2.1"/><path d="M145.7,155.6L145.8,162.3L140.5,159.9Z" fill="#111"/><path d="M117.0,171.3L115.2,162.1" stroke="#111" stroke-width="1.5"/><path d="M114.4,158.2L117.3,162.1L113.2,163.0Z" fill="#111"/><path d="M101.4,149.1L100.8,147.5" stroke="#111" stroke-width="1.5"/><path d="M100.1,145.2L102.3,147.5L99.7,148.4Z" fill="#111"/><path d="M97.4,164.8L95.3,171.3" stroke="#111" stroke-width="2.1"/><path d="M93.5,176.5L92.7,169.9L98.2,171.7Z" fill="#111"/><path d="M76.6,167.4L75.3,167.4" stroke="#111" stroke-width="1.5"/><path d="M74.0,167.4L75.8,166.5L75.8,168.2Z" fill="#111"/><path d="M127.4,176.5L125.9,178.6" stroke="#111" stroke-width="1.5"/><path d="M123.5,181.7L124.5,176.9L127.8,179.4Z" fill="#111"/><path d="M149.7,197.3L139.1,186.9" stroke="#111" stroke-width="2.1"/><path d="M135.2,183.0L141.5,185.2L137.5,189.3Z" fill="#111"/><path d="M124.8,194.7L123.2,196.8" stroke="#111" stroke-width="1.5"/><path d="M120.9,199.9L121.9,195.2L125.2,197.7Z" fill="#111"/><path d="M149.7,206.5L146.0,203.2" stroke="#111" stroke-width="1.5"/><path d="M143.1,200.6L147.8,201.9L145.0,205.1Z" fill="#111"/><path d="M101.4,198.6L100.1,198.6" stroke="#111" stroke-width="1.5"/><path d="M98.7,198.6L100.6,197.8L100.6,199.5Z" fill="#111"/><path d="M61.0,107.4L61.5,109.1" stroke="#111" stroke-width="1.5"/><path d="M62.3,111.3L60.0,109.0L62.7,108.1Z" fill="#111"/><path d="M7.5,107.4L7.2,108.7" stroke="#111" stroke-width="1.5"/><path d="M6.9,110.0L6.4,108.0L8.2,108.4Z" fill="#111"/><path d="M152.1,108.7L149.0,113.9" stroke="#111" stroke-width="1.5"/><path d="M146.9,117.2L147.4,112.3L151.0,114.5Z" fill="#111"/><path d="M167.1,103.5L167.9,109.4" stroke="#111" stroke-width="1.5"/><path d="M168.4,113.3L165.7,109.2L169.9,108.6Z" fill="#111"/><path d="M188.6,106.1L187.6,108.4" stroke="#111" stroke-width="1.5"/><path d="M186.0,112.0L185.9,107.1L189.7,108.8Z" fill="#111"/><path d="M167.8,119.8L174.4,122.4" stroke="#111" stroke-width="2.1"/><path d="M179.5,124.4L172.9,124.9L174.9,119.5Z" fill="#111"/><path d="M165.2,125.7L163.1,127.2" stroke="#111" stroke-width="1.5"/><path d="M159.9,129.6L162.2,125.2L164.7,128.6Z" fill="#111"/><path d="M141.7,135.4L147.6,136.3" stroke="#111" stroke-width="3.2"/><path d="M155.4,137.4L146.5,140.2L147.6,132.2Z" fill="#111"/><path d="M144.3,125.0L172.6,141.7" stroke="#111" stroke-width="4.0"/><path d="M180.8,146.5L169.7,145.6L174.6,137.3Z" fill="#111"/><path d="M141.7,146.5L171.3,148.5" stroke="#111" stroke-width="4.0"/><path d="M180.8,149.1L170.5,153.2L171.1,143.7Z" fill="#111"/><path d="M178.2,136.1L205.8,146.9" stroke="#111" stroke-width="4.0"/><path d="M214.7,150.4L203.6,151.2L207.1,142.3Z" fill="#111"/><path d="M154.7,156.9L197.4,153.2" stroke="#111" stroke-width="4.0"/><path d="M206.9,152.4L197.3,158.0L196.5,148.5Z" fill="#111"/><path d="M149.5,170.0L171.3,158.1" stroke="#111" stroke-width="3.2"/><path d="M178.2,154.3L172.7,161.9L168.9,154.8Z" fill="#111"/><path d="M191.2,163.5L209.3,159.4" stroke="#111" stroke-width="2.1"/><path d="M214.7,158.2L209.5,162.4L208.2,156.7Z" fill="#111"/><path d="M188.6,122.4L189.7,128.7" stroke="#111" stroke-width="2.1"/><path d="M190.6,134.1L186.7,128.7L192.4,127.7Z" fill="#111"/><path d="M205.6,124.4L218.6,142.7" stroke="#111" stroke-width="3.2"/><path d="M223.2,149.1L215.0,144.6L221.6,139.9Z" fill="#111"/><path d="M227.7,116.5L226.0,122.3" stroke="#111" stroke-width="2.1"/><path d="M224.5,127.6L223.4,121.0L228.9,122.7Z" fill="#111"/><path d="M246.0,115.2L243.9,119.0" stroke="#111" stroke-width="1.5"/><path d="M242.1,122.4L242.3,117.5L246.0,119.5Z" fill="#111"/><path d="M266.8,123.0L259.0,125.8" stroke="#111" stroke-width="2.1"/><path d="M253.8,127.6L258.5,122.9L260.4,128.3Z" fill="#111"/><path d="M278.5,134.1L271.3,139.4" stroke="#111" stroke-width="2.1"/><path d="M266.8,142.6L270.0,136.8L273.4,141.4Z" fill="#111"/><path d="M230.3,133.5L232.4,137.7" stroke="#111" stroke-width="2.1"/><path d="M234.9,142.6L229.6,138.5L234.8,135.9Z" fill="#111"/><path d="M246.0,140.0L248.8,141.2" stroke="#111" stroke-width="2.1"/><path d="M253.8,143.2L247.2,143.6L249.4,138.3Z" fill="#111"/><path d="M238.1,154.3L240.0,157.5" stroke="#111" stroke-width="1.5"/><path d="M242.1,160.8L238.0,158.2L241.6,156.0Z" fill="#111"/><path d="M259.0,150.4L262.4,154.2" stroke="#111" stroke-width="2.1"/><path d="M266.2,158.2L260.0,155.8L264.2,151.9Z" fill="#111"/><path d="M273.3,164.8L274.9,166.3" stroke="#111" stroke-width="1.5"/><path d="M277.2,168.7L273.2,167.2L275.8,164.6Z" fill="#111"/><path d="M290.3,147.8L283.3,151.3" stroke="#111" stroke-width="1.5"/><path d="M279.8,153.0L282.8,149.2L284.7,152.9Z" fill="#111"/><path d="M187.3,180.4L189.1,167.6" stroke="#111" stroke-width="2.1"/><path d="M189.9,162.1L191.9,168.5L186.2,167.7Z" fill="#111"/><path d="M175.6,186.9L171.4,173.3" stroke="#111" stroke-width="2.1"/><path d="M169.7,168.0L174.2,172.9L168.7,174.6Z" fill="#111"/><path d="M204.3,185.0L204.6,180.0" stroke="#111" stroke-width="2.1"/><path d="M204.9,174.5L207.4,180.7L201.7,180.3Z" fill="#111"/><path d="M216.6,197.3L217.0,191.7" stroke="#111" stroke-width="2.1"/><path d="M217.3,186.3L219.8,192.4L214.1,192.1Z" fill="#111"/><path d="M201.0,207.8L201.0,197.0" stroke="#111" stroke-width="2.1"/><path d="M201.0,191.5L203.9,197.5L198.1,197.5Z" fill="#111"/><path d="M187.3,197.3L184.9,188.3" stroke="#111" stroke-width="2.1"/><path d="M183.4,183.0L187.8,188.0L182.2,189.5Z" fill="#111"/><path d="M154.1,170.6L155.4,177.9" stroke="#111" stroke-width="1.5"/><path d="M156.0,181.7L153.2,177.7L157.4,177.0Z" fill="#111"/><path d="M161.2,194.7L159.2,191.0" stroke="#111" stroke-width="1.5"/><path d="M157.3,187.6L161.3,190.4L157.6,192.4Z" fill="#111"/><path d="M141.7,188.2L145.5,192.0" stroke="#111" stroke-width="1.5"/><path d="M148.2,194.7L143.6,193.1L146.6,190.1Z" fill="#111"/><path d="M141.7,199.9L147.9,205.2" stroke="#111" stroke-width="1.5"/><path d="M150.8,207.8L146.1,206.5L148.9,203.3Z" fill="#111"/><path d="M222.5,203.9L224.1,205.9" stroke="#111" stroke-width="1.5"/><path d="M226.4,209.1L222.1,206.8L225.5,204.3Z" fill="#111"/><path d="M243.4,193.4L243.4,198.6" stroke="#111" stroke-width="1.5"/><path d="M243.4,202.5L241.2,198.1L245.5,198.1Z" fill="#111"/><path d="M145.6,156.9L143.4,161.3" stroke="#111" stroke-width="1.5"/><path d="M141.7,164.8L141.8,159.9L145.6,161.8Z" fill="#111"/><path d="M165.2,206.5L165.2,208.5" stroke="#111" stroke-width="1.5"/><path d="M165.2,211.7L163.4,208.0L166.9,208.0Z" fill="#111"/>
<rect x="276" y="174" width="19.5" height="37.7" fill="#fff"/>
<text x="283.3" y="186.8" font-size="12.5" text-anchor="middle">1</text>
<path d="M274.3,196.7L286,196.7" stroke="#000" stroke-width="1.7"/><path d="M292,196.7L285.5,193.9L285.5,199.5Z" fill="#000"/>
</g>
<rect x="0" y="0" width="295.5" height="211.7" fill="none" stroke="#000" stroke-width="2.2"/>
<line x1="23.6" y1="211.7" x2="23.6" y2="218.2" stroke="#000" stroke-width="2"/>
<line x1="94.6" y1="211.7" x2="94.6" y2="218.2" stroke="#000" stroke-width="2"/>
<line x1="165.5" y1="211.7" x2="165.5" y2="218.2" stroke="#000" stroke-width="2"/>
<line x1="236.4" y1="211.7" x2="236.4" y2="218.2" stroke="#000" stroke-width="2"/>
<text transform="translate(-2.2,-7.5) scale(0.97,1)" font-size="22.5">(d) SON</text>
<text transform="translate(297.7,-5.7) scale(0.955,1)" font-size="22.5" text-anchor="end">SEN</text>
</g>
<g transform="translate(57.30,292.00)">
<g clip-path="url(#cp)">
<path d="M97.3,72.5 103.7,72.5 103.7,82.7 97.3,82.7Z" fill="#3c78f5"/><path d="M165.8,101.7 184.8,100.4 184.8,105.5 174.7,105.5 172.2,109.3 167.1,108.1Z" fill="#88bef8"/><path d="M135.9,186.2 139.2,186.2 139.2,190.5 135.9,190.5Z" fill="#ffc09a"/><path d="M83.1,118.6 93.5,117.3 96.1,123.9 92.2,134.3 89.6,142.1 83.1,152.5 77.9,149.9 76.6,135.6 79.2,126.5Z" fill="#88bef8"/><path d="M57.0,157.7 66.2,156.4 67.5,163.0 72.7,165.6 83.1,170.8 93.5,168.2 104.0,169.5 105.3,172.1 98.7,176.0 96.1,186.4 90.9,194.2 84.4,196.8 80.5,199.4 77.9,194.2 74.0,183.8 67.5,176.0 61.0,173.4 57.7,168.2Z" fill="#88bef8"/><path d="M81.2,179.9 88.3,176.0 93.5,174.7 98.7,176.0 97.4,183.8 92.2,189.0 88.3,194.2 84.4,191.6 81.8,187.7Z" fill="#3c78f5"/><path d="M135.2,199.4 140.5,202.0 141.1,211.2 134.6,211.2Z" fill="#ffc09a"/><path d="M137.2,187.1 139.8,187.1 139.8,190.3 137.2,190.3Z" fill="#ffc09a"/><path d="M225.1,191.4 227.2,191.4 227.2,193.2 225.1,193.2Z" fill="#88bef8"/><path d="M234.9,195.3 238.8,195.3 238.8,199.1 234.9,199.1Z" fill="#88bef8"/><path d="M165.2,102.3 184.7,102.3 184.7,105.0 170.6,105.0 170.6,108.9 167.8,108.9 167.8,105.0 165.2,105.0Z" fill="#88bef8"/>
<use href="#lf"/><use href="#lc"/><use href="#ld"/><use href="#ll"/>
<path d="M30.8,16.1L34.8,17.8" stroke="#111" stroke-width="1.5"/><path d="M38.4,19.3L33.5,19.5L35.1,15.6Z" fill="#111"/><path d="M39.0,28.2L42.0,33.5" stroke="#111" stroke-width="2.1"/><path d="M44.7,38.3L39.3,34.5L44.3,31.7Z" fill="#111"/><path d="M18.7,35.1L16.9,39.7" stroke="#111" stroke-width="1.5"/><path d="M15.5,43.4L15.2,38.5L19.1,40.0Z" fill="#111"/><path d="M29.5,47.8L21.9,58.5" stroke="#111" stroke-width="2.1"/><path d="M18.7,63.0L19.8,56.5L24.5,59.8Z" fill="#111"/><path d="M47.2,45.3L49.3,49.4" stroke="#111" stroke-width="1.5"/><path d="M51.1,52.9L47.2,49.9L51.0,48.0Z" fill="#111"/><path d="M66.9,56.7L73.5,55.6" stroke="#111" stroke-width="2.1"/><path d="M78.9,54.8L73.5,58.6L72.6,52.9Z" fill="#111"/><path d="M48.5,71.9L52.0,68.8" stroke="#111" stroke-width="1.5"/><path d="M54.9,66.2L53.0,70.7L50.2,67.6Z" fill="#111"/><path d="M82.7,26.9L84.6,27.2" stroke="#111" stroke-width="1.5"/><path d="M87.2,27.5L83.9,28.6L84.3,25.6Z" fill="#111"/><path d="M61.2,29.4L60.9,30.7" stroke="#111" stroke-width="1.5"/><path d="M60.6,32.0L60.2,30.0L61.9,30.4Z" fill="#111"/><path d="M104.9,33.5L102.7,33.4" stroke="#111" stroke-width="1.5"/><path d="M99.2,33.2L103.3,31.5L103.1,35.3Z" fill="#111"/><path d="M13.6,68.7L8.6,72.2" stroke="#111" stroke-width="1.5"/><path d="M5.4,74.4L7.8,70.2L10.2,73.7Z" fill="#111"/><path d="M46.6,82.0L45.1,83.8" stroke="#111" stroke-width="1.5"/><path d="M42.8,86.5L44.0,82.1L47.0,84.7Z" fill="#111"/><path d="M65.0,87.1L66.6,87.4" stroke="#111" stroke-width="1.5"/><path d="M68.8,87.8L65.9,88.6L66.4,86.0Z" fill="#111"/><path d="M91.0,73.8L87.1,75.1" stroke="#111" stroke-width="1.5"/><path d="M83.4,76.3L86.9,72.9L88.2,77.0Z" fill="#111"/><path d="M94.2,52.9L94.4,54.5" stroke="#111" stroke-width="1.5"/><path d="M94.8,56.7L93.1,54.2L95.6,53.8Z" fill="#111"/><path d="M111.3,47.2L111.0,48.8" stroke="#111" stroke-width="1.5"/><path d="M110.6,51.0L109.8,48.1L112.4,48.5Z" fill="#111"/><path d="M85.9,92.2L84.6,93.7" stroke="#111" stroke-width="1.5"/><path d="M82.7,96.0L83.7,92.3L86.2,94.4Z" fill="#111"/><path d="M6.0,89.7L5.3,91.4" stroke="#111" stroke-width="1.5"/><path d="M4.1,94.1L4.0,90.3L7.0,91.6Z" fill="#111"/><path d="M144.2,59.9L146.4,59.4" stroke="#111" stroke-width="1.5"/><path d="M149.7,58.6L146.3,61.3L145.5,57.6Z" fill="#111"/><path d="M139.2,4.1L141.6,4.3" stroke="#111" stroke-width="1.5"/><path d="M145.5,4.7L140.9,6.4L141.3,2.2Z" fill="#111"/><path d="M165.8,49.7L179.2,34.8" stroke="#111" stroke-width="2.1"/><path d="M182.9,30.7L181.0,37.1L176.7,33.2Z" fill="#111"/><path d="M146.8,62.4L155.1,53.1" stroke="#111" stroke-width="2.1"/><path d="M158.8,49.1L156.9,55.4L152.6,51.6Z" fill="#111"/><path d="M162.0,78.2L160.5,70.9" stroke="#111" stroke-width="2.1"/><path d="M159.4,65.5L163.4,70.9L157.8,72.0Z" fill="#111"/><path d="M184.2,82.6L178.9,93.5" stroke="#111" stroke-width="2.1"/><path d="M176.5,98.5L176.5,91.8L181.7,94.3Z" fill="#111"/><path d="M232.9,38.3L229.5,39.8" stroke="#111" stroke-width="1.5"/><path d="M226.0,41.5L229.1,37.7L230.9,41.6Z" fill="#111"/><path d="M237.4,23.1L237.0,22.3" stroke="#111" stroke-width="1.5"/><path d="M236.7,21.8L237.6,22.5L236.8,22.9Z" fill="#111"/><path d="M255.1,37.0L250.3,39.6" stroke="#111" stroke-width="1.5"/><path d="M246.9,41.5L249.8,37.5L251.8,41.2Z" fill="#111"/><path d="M273.5,30.7L269.1,30.0" stroke="#111" stroke-width="1.5"/><path d="M265.3,29.4L269.9,28.0L269.3,32.2Z" fill="#111"/><path d="M290.0,39.6L286.9,39.6" stroke="#111" stroke-width="1.5"/><path d="M283.0,39.6L287.4,37.4L287.4,41.7Z" fill="#111"/><path d="M272.2,62.4L273.8,58.9" stroke="#111" stroke-width="1.5"/><path d="M275.4,55.4L275.5,60.3L271.7,58.5Z" fill="#111"/><path d="M235.5,68.7L236.6,67.8" stroke="#111" stroke-width="1.5"/><path d="M238.0,66.8L236.9,69.0L235.6,67.3Z" fill="#111"/><path d="M253.9,73.8L254.4,72.4" stroke="#111" stroke-width="1.5"/><path d="M255.1,70.6L255.3,73.2L253.2,72.4Z" fill="#111"/><path d="M278.6,76.9L275.7,78.4" stroke="#111" stroke-width="1.5"/><path d="M272.2,80.1L275.2,76.2L277.1,80.0Z" fill="#111"/><path d="M293.8,63.6L287.1,67.0" stroke="#111" stroke-width="1.5"/><path d="M283.6,68.7L286.6,64.8L288.5,68.6Z" fill="#111"/><path d="M246.9,86.4L247.4,89.0" stroke="#111" stroke-width="1.5"/><path d="M248.2,92.8L245.2,88.9L249.4,88.0Z" fill="#111"/><path d="M189.2,100.4L191.8,102.4" stroke="#111" stroke-width="1.5"/><path d="M194.9,104.8L190.2,103.8L192.7,100.4Z" fill="#111"/><path d="M24.5,121.2L21.3,126.4" stroke="#111" stroke-width="1.5"/><path d="M19.2,129.7L19.8,124.9L23.4,127.1Z" fill="#111"/><path d="M44.0,140.8L39.0,138.1" stroke="#111" stroke-width="1.5"/><path d="M35.5,136.2L40.4,136.5L38.4,140.2Z" fill="#111"/><path d="M75.3,129.7L71.7,125.4" stroke="#111" stroke-width="2.1"/><path d="M68.1,121.2L74.2,124.0L69.8,127.7Z" fill="#111"/><path d="M102.7,118.6L104.1,125.6" stroke="#111" stroke-width="2.1"/><path d="M105.3,131.0L101.2,125.7L106.8,124.6Z" fill="#111"/><path d="M114.4,132.3L116.4,137.6" stroke="#111" stroke-width="2.1"/><path d="M118.3,142.7L113.5,138.1L118.9,136.1Z" fill="#111"/><path d="M117.0,146.0L124.0,154.7" stroke="#111" stroke-width="2.1"/><path d="M127.4,159.0L121.4,156.2L125.9,152.6Z" fill="#111"/><path d="M135.2,156.4L142.3,167.5" stroke="#111" stroke-width="1.5"/><path d="M144.4,170.8L140.2,168.2L143.8,165.9Z" fill="#111"/><path d="M64.2,154.5L64.4,152.2" stroke="#111" stroke-width="1.5"/><path d="M64.6,148.6L66.3,152.9L62.4,152.6Z" fill="#111"/><path d="M74.0,171.4L70.8,166.3" stroke="#111" stroke-width="1.5"/><path d="M68.8,163.0L72.9,165.6L69.3,167.8Z" fill="#111"/><path d="M88.3,177.3L91.4,172.7" stroke="#111" stroke-width="1.5"/><path d="M93.5,169.5L92.9,174.3L89.3,172.0Z" fill="#111"/><path d="M63.6,181.2L58.0,183.6" stroke="#111" stroke-width="1.5"/><path d="M54.4,185.1L57.6,181.4L59.3,185.3Z" fill="#111"/><path d="M14.0,194.2L22.6,196.0" stroke="#111" stroke-width="1.5"/><path d="M26.4,196.8L21.7,198.0L22.5,193.9Z" fill="#111"/><path d="M37.5,189.0L39.8,198.3" stroke="#111" stroke-width="1.5"/><path d="M40.8,202.0L37.6,198.3L41.7,197.3Z" fill="#111"/><path d="M77.9,187.7L81.5,195.9" stroke="#111" stroke-width="1.5"/><path d="M83.1,199.4L79.4,196.3L83.3,194.6Z" fill="#111"/><path d="M107.9,156.4L105.8,156.4" stroke="#111" stroke-width="1.5"/><path d="M102.7,156.4L106.3,154.7L106.3,158.2Z" fill="#111"/><path d="M122.2,169.5L122.7,172.2" stroke="#111" stroke-width="1.5"/><path d="M123.5,176.0L120.6,172.1L124.7,171.3Z" fill="#111"/><path d="M85.7,112.8L87.4,112.8" stroke="#111" stroke-width="1.5"/><path d="M89.6,112.8L86.9,114.1L86.9,111.5Z" fill="#111"/><path d="M101.4,203.4L102.0,204.6" stroke="#111" stroke-width="1.5"/><path d="M102.7,206.0L100.9,204.6L102.6,203.7Z" fill="#111"/><path d="M161.2,132.3L165.4,129.2" stroke="#111" stroke-width="2.1"/><path d="M169.7,125.8L166.7,131.7L163.2,127.2Z" fill="#111"/><path d="M178.2,123.9L181.7,122.6" stroke="#111" stroke-width="1.5"/><path d="M185.4,121.2L181.9,124.7L180.5,120.8Z" fill="#111"/><path d="M197.7,133.6L197.7,130.0" stroke="#111" stroke-width="2.1"/><path d="M197.7,124.5L200.6,130.5L194.9,130.5Z" fill="#111"/><path d="M182.1,153.2L181.2,148.2" stroke="#111" stroke-width="2.1"/><path d="M180.1,142.7L184.1,148.1L178.4,149.2Z" fill="#111"/><path d="M201.0,153.8L199.6,147.5" stroke="#111" stroke-width="2.1"/><path d="M198.4,142.1L202.5,147.3L196.9,148.6Z" fill="#111"/><path d="M154.1,154.5L151.5,161.1" stroke="#111" stroke-width="2.1"/><path d="M149.5,166.2L149.0,159.6L154.4,161.7Z" fill="#111"/><path d="M157.3,169.5L158.9,177.1" stroke="#111" stroke-width="2.1"/><path d="M159.9,182.5L155.9,177.2L161.6,176.1Z" fill="#111"/><path d="M174.3,176.6L185.1,182.5" stroke="#111" stroke-width="2.1"/><path d="M189.9,185.1L183.3,184.8L186.0,179.7Z" fill="#111"/><path d="M220.5,161.6L220.5,158.6" stroke="#111" stroke-width="2.1"/><path d="M220.5,153.2L223.4,159.1L217.7,159.1Z" fill="#111"/><path d="M232.9,163.6L236.9,163.8" stroke="#111" stroke-width="1.5"/><path d="M240.7,164.0L236.2,165.9L236.5,161.7Z" fill="#111"/><path d="M252.5,160.3L254.1,164.0" stroke="#111" stroke-width="1.5"/><path d="M255.7,167.5L252.0,164.4L255.8,162.6Z" fill="#111"/><path d="M270.1,144.7L270.4,148.0" stroke="#111" stroke-width="1.5"/><path d="M270.7,151.9L268.2,147.7L272.4,147.3Z" fill="#111"/><path d="M238.8,179.2L243.1,179.6" stroke="#111" stroke-width="2.1"/><path d="M248.6,180.2L242.3,182.5L242.9,176.7Z" fill="#111"/><path d="M266.8,173.4L266.9,176.6" stroke="#111" stroke-width="1.5"/><path d="M267.1,180.5L264.8,176.2L269.0,176.1Z" fill="#111"/><path d="M254.4,185.8L259.0,194.0" stroke="#111" stroke-width="2.1"/><path d="M261.6,198.8L256.2,194.9L261.2,192.1Z" fill="#111"/><path d="M270.7,199.4L269.5,206.0" stroke="#111" stroke-width="1.5"/><path d="M268.8,209.9L267.5,205.2L271.7,205.9Z" fill="#111"/><path d="M148.2,190.3L149.2,192.6" stroke="#111" stroke-width="1.5"/><path d="M150.8,196.2L147.1,193.0L151.0,191.3Z" fill="#111"/><path d="M149.5,178.6L150.0,180.4" stroke="#111" stroke-width="1.5"/><path d="M150.8,183.2L148.4,180.4L151.4,179.5Z" fill="#111"/><path d="M165.2,181.8L164.1,183.7" stroke="#111" stroke-width="1.5"/><path d="M162.6,186.4L162.8,182.3L165.9,184.1Z" fill="#111"/><path d="M143.0,166.9L143.8,168.5" stroke="#111" stroke-width="1.5"/><path d="M145.0,170.8L142.3,168.7L144.9,167.4Z" fill="#111"/><path d="M193.8,104.3L194.4,106.0" stroke="#111" stroke-width="1.5"/><path d="M195.1,108.2L192.9,105.9L195.5,105.0Z" fill="#111"/>
<rect x="276" y="174" width="19.5" height="37.7" fill="#fff"/>
<text x="283.3" y="186.8" font-size="12.5" text-anchor="middle">1</text>
<path d="M274.3,196.7L286,196.7" stroke="#000" stroke-width="1.7"/><path d="M292,196.7L285.5,193.9L285.5,199.5Z" fill="#000"/>
</g>
<rect x="0" y="0" width="295.5" height="211.7" fill="none" stroke="#000" stroke-width="2.2"/>
<line x1="23.6" y1="211.7" x2="23.6" y2="218.2" stroke="#000" stroke-width="2"/>
<line x1="94.6" y1="211.7" x2="94.6" y2="218.2" stroke="#000" stroke-width="2"/>
<line x1="165.5" y1="211.7" x2="165.5" y2="218.2" stroke="#000" stroke-width="2"/>
<line x1="236.4" y1="211.7" x2="236.4" y2="218.2" stroke="#000" stroke-width="2"/>
<line x1="-6.5" y1="21.2" x2="0" y2="21.2" stroke="#000" stroke-width="2"/>
<text x="-10" y="27.2" font-size="17.3" text-anchor="end">60N</text>
<line x1="-6.5" y1="84.7" x2="0" y2="84.7" stroke="#000" stroke-width="2"/>
<text x="-10" y="90.7" font-size="17.3" text-anchor="end">30N</text>
<line x1="-6.5" y1="148.2" x2="0" y2="148.2" stroke="#000" stroke-width="2"/>
<text x="-10" y="154.2" font-size="17.3" text-anchor="end">EQ</text>
<line x1="-6.5" y1="211.7" x2="0" y2="211.7" stroke="#000" stroke-width="2"/>
<text x="-10" y="217.7" font-size="17.3" text-anchor="end">30S</text>
<text transform="translate(-2.2,-7.5) scale(0.97,1)" font-size="22.5">(e) MAM</text>
<text transform="translate(297.7,-8.7) scale(0.980,1)" font-size="23.5" text-anchor="end">WSGEN</text>
</g>
<g transform="translate(369.50,292.00)">
<g clip-path="url(#cp)">
<path d="M97.1,71.3 104.7,71.3 104.7,84.0 97.1,84.0Z" fill="#3c78f5"/><path d="M98.9,73.8 103.0,73.8 103.0,81.4 98.9,81.4Z" fill="#0a14ff"/><path d="M113.6,97.9 126.3,92.8 131.4,100.4 137.7,115.7 136.5,124.5 131.4,123.3 123.8,110.6 116.2,111.9 113.6,105.5Z" fill="#88bef8"/><path d="M170.2,105.5 173.5,105.5 173.5,109.3 170.2,109.3Z" fill="#88bef8"/><path d="M18.5,166.4 27.4,163.8 33.7,176.5 33.7,189.2 27.4,191.7 19.8,181.6Z" fill="#ffc09a"/><path d="M36.3,195.6 45.2,196.8 52.8,201.9 54.0,210.8 42.6,210.8 37.5,201.9Z" fill="#ffc09a"/><path d="M14.7,123.3 19.8,123.3 19.8,130.9 14.7,130.9Z" fill="#ffc09a"/><path d="M73.0,174.0 85.7,174.0 95.9,174.0 97.1,181.6 88.3,191.7 83.2,196.8 80.7,184.1 74.3,181.6Z" fill="#88bef8"/><path d="M83.2,176.5 95.9,175.3 95.9,184.1 88.3,191.7 84.5,186.7Z" fill="#3c78f5"/><path d="M215.5,148.0 217.7,148.0 217.7,152.3 215.5,152.3Z" fill="#ffc09a"/><path d="M232.5,148.0 236.4,148.0 236.4,152.3 232.5,152.3Z" fill="#ffc09a"/><path d="M241.9,148.0 252.9,148.0 253.6,151.9 256.2,152.5 256.2,155.8 244.5,155.8 241.9,152.5Z" fill="#ff7850"/><path d="M262.1,151.9 265.3,151.9 265.3,155.8 262.1,155.8Z" fill="#ff7850"/><path d="M274.2,156.2 276.5,156.2 276.5,164.5 274.2,164.5Z" fill="#ff1408"/><path d="M210.6,191.6 219.7,189.0 235.3,191.6 243.2,195.5 249.7,200.7 252.3,208.6 235.3,208.6 227.5,200.7 219.7,196.8 211.9,194.2Z" fill="#88bef8"/><path d="M200.8,185.1 202.8,185.1 202.8,189.7 200.8,189.7Z" fill="#88bef8"/><path d="M170.2,105.6 172.8,105.6 172.8,109.5 170.2,109.5Z" fill="#88bef8"/>
<use href="#lf"/><use href="#lc"/><use href="#ld"/><use href="#ll"/>
<path d="M29.3,23.7L32.7,20.6" stroke="#111" stroke-width="1.5"/><path d="M35.6,18.0L33.8,22.5L31.0,19.4Z" fill="#111"/><path d="M5.8,37.0L8.3,36.6" stroke="#111" stroke-width="1.5"/><path d="M12.2,36.0L8.2,38.8L7.5,34.6Z" fill="#111"/><path d="M103.5,3.4L103.8,4.9" stroke="#111" stroke-width="1.5"/><path d="M104.1,6.6L102.6,4.6L104.7,4.2Z" fill="#111"/><path d="M121.2,12.9L119.9,14.3" stroke="#111" stroke-width="1.5"/><path d="M118.0,16.1L119.2,12.8L121.3,15.0Z" fill="#111"/><path d="M104.7,28.2L106.9,30.0" stroke="#111" stroke-width="1.5"/><path d="M109.8,32.6L105.1,31.3L107.9,28.1Z" fill="#111"/><path d="M94.0,46.2L89.6,46.2" stroke="#111" stroke-width="1.5"/><path d="M85.7,46.2L90.1,44.1L90.1,48.3Z" fill="#111"/><path d="M64.2,44.6L64.5,46.1" stroke="#111" stroke-width="1.5"/><path d="M64.8,47.8L63.3,45.8L65.4,45.4Z" fill="#111"/><path d="M17.3,51.0L19.2,52.0" stroke="#111" stroke-width="1.5"/><path d="M22.3,53.5L17.9,53.4L19.6,50.0Z" fill="#111"/><path d="M48.9,59.2L48.2,61.2" stroke="#111" stroke-width="1.5"/><path d="M47.0,64.3L46.7,60.1L50.1,61.4Z" fill="#111"/><path d="M28.7,68.7L30.5,68.5" stroke="#111" stroke-width="1.5"/><path d="M33.1,68.1L30.2,70.0L29.8,67.1Z" fill="#111"/><path d="M69.2,67.5L69.6,68.5" stroke="#111" stroke-width="1.5"/><path d="M69.9,69.4L68.8,68.3L70.1,67.8Z" fill="#111"/><path d="M12.8,70.6L13.1,72.1" stroke="#111" stroke-width="1.5"/><path d="M13.4,73.8L11.9,71.8L14.1,71.4Z" fill="#111"/><path d="M23.0,83.9L22.2,85.5" stroke="#111" stroke-width="1.5"/><path d="M21.1,87.8L21.1,84.5L23.7,85.7Z" fill="#111"/><path d="M42.0,87.8L40.3,90.2" stroke="#111" stroke-width="1.5"/><path d="M38.2,93.5L38.9,88.6L42.4,91.0Z" fill="#111"/><path d="M78.7,86.5L77.1,90.5" stroke="#111" stroke-width="1.5"/><path d="M75.6,94.1L75.3,89.2L79.2,90.8Z" fill="#111"/><path d="M89.5,75.7L89.0,77.5" stroke="#111" stroke-width="1.5"/><path d="M88.3,80.1L87.7,76.6L90.6,77.5Z" fill="#111"/><path d="M98.4,58.6L97.2,60.5" stroke="#111" stroke-width="1.5"/><path d="M95.2,63.7L95.7,59.0L99.2,61.2Z" fill="#111"/><path d="M116.1,48.4L116.8,49.4" stroke="#111" stroke-width="1.5"/><path d="M117.4,50.4L115.9,49.4L117.2,48.6Z" fill="#111"/><path d="M116.1,67.5L115.4,69.1" stroke="#111" stroke-width="1.5"/><path d="M114.2,71.3L114.3,68.0L116.9,69.2Z" fill="#111"/><path d="M105.4,86.5L105.1,88.1" stroke="#111" stroke-width="1.5"/><path d="M104.7,90.3L103.9,87.4L106.5,87.8Z" fill="#111"/><path d="M121.2,103.0L121.6,92.0" stroke="#111" stroke-width="2.1"/><path d="M121.9,86.5L124.5,92.6L118.7,92.4Z" fill="#111"/><path d="M93.3,99.2L92.5,100.3" stroke="#111" stroke-width="1.5"/><path d="M91.4,101.7L91.9,99.3L93.6,100.6Z" fill="#111"/><path d="M164.3,11.7L161.8,18.8" stroke="#111" stroke-width="1.5"/><path d="M160.5,22.4L160.0,17.6L164.0,19.0Z" fill="#111"/><path d="M203.6,28.8L195.3,26.6" stroke="#111" stroke-width="1.5"/><path d="M191.6,25.6L196.3,24.7L195.3,28.8Z" fill="#111"/><path d="M178.3,35.8L186.2,31.3" stroke="#111" stroke-width="1.5"/><path d="M189.7,29.4L186.8,33.4L184.8,29.7Z" fill="#111"/><path d="M168.1,37.7L170.1,37.4" stroke="#111" stroke-width="1.5"/><path d="M173.2,37.0L169.8,39.2L169.4,35.8Z" fill="#111"/><path d="M170.0,42.7L173.5,54.6" stroke="#111" stroke-width="2.1"/><path d="M175.1,59.8L170.6,54.9L176.1,53.3Z" fill="#111"/><path d="M178.3,61.7L189.0,66.0" stroke="#111" stroke-width="2.1"/><path d="M194.1,68.1L187.5,68.5L189.6,63.2Z" fill="#111"/><path d="M192.8,73.1L206.4,71.3" stroke="#111" stroke-width="2.1"/><path d="M211.8,70.6L206.3,74.2L205.5,68.5Z" fill="#111"/><path d="M207.4,63.0L210.2,54.3" stroke="#111" stroke-width="2.1"/><path d="M211.8,49.1L212.8,55.6L207.3,53.9Z" fill="#111"/><path d="M214.4,44.0L211.5,34.7" stroke="#111" stroke-width="2.1"/><path d="M209.9,29.4L214.4,34.3L208.9,36.0Z" fill="#111"/><path d="M226.4,73.1L225.6,62.8" stroke="#111" stroke-width="2.1"/><path d="M225.1,57.3L228.5,63.0L222.7,63.5Z" fill="#111"/><path d="M234.6,42.7L232.4,43.2" stroke="#111" stroke-width="1.5"/><path d="M228.9,44.0L232.5,41.2L233.4,45.0Z" fill="#111"/><path d="M237.8,21.8L236.8,23.4" stroke="#111" stroke-width="1.5"/><path d="M235.3,25.6L235.8,22.1L238.3,23.8Z" fill="#111"/><path d="M256.2,11.7L261.5,13.9" stroke="#111" stroke-width="1.5"/><path d="M265.1,15.5L260.2,15.7L261.8,11.8Z" fill="#111"/><path d="M248.6,37.0L248.7,39.0" stroke="#111" stroke-width="1.5"/><path d="M249.0,42.1L247.0,38.7L250.4,38.4Z" fill="#111"/><path d="M256.2,52.2L256.2,54.4" stroke="#111" stroke-width="1.5"/><path d="M256.2,57.9L254.3,53.9L258.1,53.9Z" fill="#111"/><path d="M245.4,66.8L241.9,71.8" stroke="#111" stroke-width="1.5"/><path d="M239.7,75.0L240.5,70.2L244.0,72.6Z" fill="#111"/><path d="M284.7,70.6L281.5,71.5" stroke="#111" stroke-width="1.5"/><path d="M277.7,72.5L281.4,69.3L282.5,73.4Z" fill="#111"/><path d="M255.6,82.6L258.2,88.0" stroke="#111" stroke-width="1.5"/><path d="M260.0,91.5L256.1,88.5L259.9,86.6Z" fill="#111"/><path d="M278.4,86.4L274.2,90.7" stroke="#111" stroke-width="1.5"/><path d="M271.4,93.4L273.0,88.8L276.0,91.8Z" fill="#111"/><path d="M189.0,100.4L191.6,102.4" stroke="#111" stroke-width="1.5"/><path d="M194.7,104.8L190.0,103.8L192.5,100.4Z" fill="#111"/><path d="M20.4,114.7L18.4,120.2" stroke="#111" stroke-width="1.5"/><path d="M17.1,123.9L16.6,119.0L20.6,120.4Z" fill="#111"/><path d="M38.6,129.1L33.4,129.1" stroke="#111" stroke-width="1.5"/><path d="M29.5,129.1L33.9,127.0L33.9,131.2Z" fill="#111"/><path d="M23.6,134.3L19.1,142.5" stroke="#111" stroke-width="2.1"/><path d="M16.4,147.3L16.8,140.7L21.9,143.4Z" fill="#111"/><path d="M21.7,154.5L19.8,161.5" stroke="#111" stroke-width="2.1"/><path d="M18.4,166.9L17.1,160.3L22.7,161.8Z" fill="#111"/><path d="M60.1,164.9L52.3,159.5" stroke="#111" stroke-width="2.1"/><path d="M47.7,156.4L54.3,157.4L51.0,162.2Z" fill="#111"/><path d="M76.4,172.7L70.0,161.2" stroke="#111" stroke-width="2.1"/><path d="M67.3,156.4L72.7,160.3L67.7,163.1Z" fill="#111"/><path d="M38.6,174.7L37.4,180.6" stroke="#111" stroke-width="1.5"/><path d="M36.6,184.5L35.4,179.7L39.6,180.6Z" fill="#111"/><path d="M45.1,189.7L44.7,196.9" stroke="#111" stroke-width="1.5"/><path d="M44.5,200.7L42.6,196.2L46.8,196.5Z" fill="#111"/><path d="M20.4,200.1L29.0,202.4" stroke="#111" stroke-width="1.5"/><path d="M32.7,203.4L27.9,204.3L29.0,200.2Z" fill="#111"/><path d="M20.4,191.6L19.1,192.2" stroke="#111" stroke-width="1.5"/><path d="M17.7,192.9L19.1,191.1L20.0,192.9Z" fill="#111"/><path d="M99.9,110.2L108.1,106.2" stroke="#111" stroke-width="1.5"/><path d="M111.6,104.6L108.5,108.4L106.7,104.6Z" fill="#111"/><path d="M59.5,112.8L64.7,112.8" stroke="#111" stroke-width="1.5"/><path d="M68.6,112.8L64.2,114.9L64.2,110.7Z" fill="#111"/><path d="M68.6,129.7L69.0,130.6" stroke="#111" stroke-width="1.5"/><path d="M69.2,131.0L68.3,130.3L69.2,129.9Z" fill="#111"/><path d="M85.5,135.6L84.4,136.9" stroke="#111" stroke-width="1.5"/><path d="M82.9,138.8L83.6,135.7L85.8,137.4Z" fill="#111"/><path d="M99.2,123.2L98.4,124.8" stroke="#111" stroke-width="1.5"/><path d="M97.2,127.1L97.3,123.7L99.9,125.0Z" fill="#111"/><path d="M122.0,110.2L122.3,112.4" stroke="#111" stroke-width="1.5"/><path d="M122.7,116.0L120.2,112.1L124.2,111.7Z" fill="#111"/><path d="M118.1,130.4L119.2,135.7" stroke="#111" stroke-width="1.5"/><path d="M120.1,139.5L117.1,135.6L121.2,134.7Z" fill="#111"/><path d="M125.9,136.9L141.3,134.5" stroke="#111" stroke-width="2.1"/><path d="M146.8,133.6L141.3,137.4L140.4,131.7Z" fill="#111"/><path d="M92.0,160.3L88.0,165.2" stroke="#111" stroke-width="1.5"/><path d="M85.5,168.2L86.7,163.4L90.0,166.1Z" fill="#111"/><path d="M136.3,153.8L142.3,158.1" stroke="#111" stroke-width="1.5"/><path d="M145.5,160.3L140.7,159.5L143.1,156.1Z" fill="#111"/><path d="M137.6,161.6L141.9,167.6" stroke="#111" stroke-width="1.5"/><path d="M144.2,170.8L139.9,168.4L143.3,166.0Z" fill="#111"/><path d="M106.4,192.9L109.1,192.4" stroke="#111" stroke-width="1.5"/><path d="M112.9,191.6L109.0,194.6L108.2,190.4Z" fill="#111"/><path d="M129.8,199.4L131.0,200.6" stroke="#111" stroke-width="1.5"/><path d="M132.4,202.0L129.7,201.1L131.5,199.3Z" fill="#111"/><path d="M166.9,130.4L169.0,126.2" stroke="#111" stroke-width="2.1"/><path d="M171.5,121.2L171.4,127.9L166.2,125.3Z" fill="#111"/><path d="M199.5,141.4L203.6,138.1" stroke="#111" stroke-width="1.5"/><path d="M206.7,135.6L204.6,140.0L201.9,136.7Z" fill="#111"/><path d="M176.0,154.5L176.0,152.2" stroke="#111" stroke-width="1.5"/><path d="M176.0,148.6L178.0,152.7L174.1,152.7Z" fill="#111"/><path d="M194.3,159.7L194.0,154.1" stroke="#111" stroke-width="2.1"/><path d="M193.6,148.6L196.9,154.4L191.1,154.8Z" fill="#111"/><path d="M234.7,114.7L231.4,119.4" stroke="#111" stroke-width="2.1"/><path d="M228.2,123.9L229.3,117.3L234.0,120.6Z" fill="#111"/><path d="M252.3,118.6L246.2,127.7" stroke="#111" stroke-width="2.1"/><path d="M243.2,132.3L244.1,125.7L248.9,128.9Z" fill="#111"/><path d="M270.5,141.4L270.5,146.7" stroke="#111" stroke-width="1.5"/><path d="M270.5,150.6L268.4,146.2L272.6,146.2Z" fill="#111"/><path d="M149.3,163.0L154.5,172.5" stroke="#111" stroke-width="2.1"/><path d="M157.1,177.3L151.7,173.4L156.8,170.6Z" fill="#111"/><path d="M142.8,165.6L143.6,167.6" stroke="#111" stroke-width="1.5"/><path d="M144.8,170.8L141.6,167.8L145.1,166.5Z" fill="#111"/><path d="M150.0,178.6L150.5,180.4" stroke="#111" stroke-width="1.5"/><path d="M151.3,183.2L148.8,180.4L151.9,179.5Z" fill="#111"/><path d="M166.3,182.5L164.8,184.2" stroke="#111" stroke-width="1.5"/><path d="M162.4,187.1L163.6,182.6L166.6,185.2Z" fill="#111"/><path d="M170.2,183.8L176.2,186.3" stroke="#111" stroke-width="2.1"/><path d="M181.2,188.4L174.6,188.7L176.8,183.4Z" fill="#111"/><path d="M187.1,177.3L192.5,179.6" stroke="#111" stroke-width="2.1"/><path d="M197.5,181.8L190.9,182.1L193.2,176.8Z" fill="#111"/><path d="M146.7,190.3L148.3,192.4" stroke="#111" stroke-width="1.5"/><path d="M150.6,195.5L146.3,193.3L149.7,190.7Z" fill="#111"/><path d="M191.7,207.3L192.6,202.2" stroke="#111" stroke-width="2.1"/><path d="M193.6,196.8L195.4,203.3L189.7,202.2Z" fill="#111"/><path d="M238.6,169.5L235.2,170.4" stroke="#111" stroke-width="1.5"/><path d="M231.4,171.4L235.1,168.2L236.2,172.3Z" fill="#111"/><path d="M256.2,172.7L257.8,176.3" stroke="#111" stroke-width="1.5"/><path d="M259.4,179.9L255.7,176.8L259.5,175.0Z" fill="#111"/><path d="M254.9,189.0L260.9,197.5" stroke="#111" stroke-width="2.1"/><path d="M264.0,202.0L258.2,198.8L262.9,195.5Z" fill="#111"/><path d="M253.6,104.3L254.1,107.0" stroke="#111" stroke-width="1.5"/><path d="M254.9,110.8L252.0,106.9L256.1,106.1Z" fill="#111"/><path d="M287.5,106.9L287.1,108.2" stroke="#111" stroke-width="1.5"/><path d="M286.8,109.5L286.4,107.5L288.1,107.9Z" fill="#111"/><path d="M193.6,104.3L194.2,106.0" stroke="#111" stroke-width="1.5"/><path d="M194.9,108.2L192.7,105.9L195.3,105.0Z" fill="#111"/>
<rect x="276" y="174" width="19.5" height="37.7" fill="#fff"/>
<text x="283.3" y="186.8" font-size="12.5" text-anchor="middle">1</text>
<path d="M274.3,196.7L286,196.7" stroke="#000" stroke-width="1.7"/><path d="M292,196.7L285.5,193.9L285.5,199.5Z" fill="#000"/>
</g>
<rect x="0" y="0" width="295.5" height="211.7" fill="none" stroke="#000" stroke-width="2.2"/>
<line x1="23.6" y1="211.7" x2="23.6" y2="218.2" stroke="#000" stroke-width="2"/>
<line x1="94.6" y1="211.7" x2="94.6" y2="218.2" stroke="#000" stroke-width="2"/>
<line x1="165.5" y1="211.7" x2="165.5" y2="218.2" stroke="#000" stroke-width="2"/>
<line x1="236.4" y1="211.7" x2="236.4" y2="218.2" stroke="#000" stroke-width="2"/>
<text transform="translate(-2.2,-7.5) scale(0.97,1)" font-size="22.5">(f) MJJ</text>
<text transform="translate(297.7,-8.7) scale(0.980,1)" font-size="23.5" text-anchor="end">WSGEN</text>
</g>
<g transform="translate(681.70,292.00)">
<g clip-path="url(#cp)">
<path d="M107.1,81.4 117.8,81.4 119.1,86.5 118.5,91.6 115.9,91.6 115.3,86.5 109.6,86.5 107.1,90.3 100.7,90.3 99.5,82.7Z" fill="#88bef8"/><path d="M96.7,76.6 99.7,76.6 99.7,80.4 96.7,80.4Z" fill="#0a14ff"/><path d="M147.0,46.5 150.2,46.5 150.2,51.0 147.0,51.0Z" fill="#0a14ff"/><path d="M175.5,54.8 181.9,52.2 189.5,51.0 190.1,46.5 193.3,46.5 193.9,50.3 200.9,51.0 200.9,61.7 192.0,64.9 184.4,67.4 183.1,71.2 179.3,71.2 176.8,66.2Z" fill="#2100c4"/><path d="M181.9,54.8 193.3,52.2 199.6,53.5 199.6,61.1 189.5,63.6 183.1,62.4Z" fill="#2e0a78"/><path d="M147.0,46.5 152.1,45.9 154.0,49.7 155.9,58.6 153.3,58.6 150.2,52.2 147.0,49.7Z" fill="#0a14ff"/><path d="M197.1,81.4 200.9,77.6 207.2,73.8 209.7,68.7 217.3,63.6 222.4,64.3 230.0,67.4 231.3,76.3 231.3,82.6 228.7,90.2 226.2,96.6 221.1,96.6 217.3,90.2 211.0,87.7 204.7,87.7 198.3,86.4Z" fill="#ff7850"/><path d="M207.2,75.0 214.8,67.4 221.1,66.2 228.7,67.4 230.0,75.0 230.0,82.6 223.7,82.6 217.3,80.1 212.3,81.4Z" fill="#ff1408"/><path d="M176.1,-0.4 182.5,-0.4 182.5,9.1 179.3,9.1 176.1,4.1Z" fill="#ff1408"/><path d="M129.6,110.8 150.5,109.5 150.5,116.0 141.4,116.0 141.4,125.2 137.4,129.1 130.9,127.8Z" fill="#88bef8"/><path d="M9.7,143.4 13.6,143.4 13.6,151.2 9.7,151.2Z" fill="#88bef8"/><path d="M18.8,165.6 28.0,165.6 33.2,176.0 38.4,186.4 42.3,196.8 48.8,199.4 48.8,202.0 41.0,204.7 31.9,202.0 18.8,199.4 14.9,183.8Z" fill="#ffc09a"/><path d="M16.2,173.4 22.8,168.2 28.0,176.0 31.9,189.0 30.6,196.8 22.8,196.8 16.2,189.0Z" fill="#ff7850"/><path d="M65.8,173.4 72.3,173.4 71.0,177.3 65.8,177.3Z" fill="#88bef8"/><path d="M76.2,176.0 82.7,176.0 90.5,179.9 91.8,187.7 87.9,190.3 82.7,187.7 77.5,181.2Z" fill="#88bef8"/><path d="M85.3,179.9 91.8,181.2 91.8,189.0 86.6,189.0Z" fill="#3c78f5"/><path d="M93.1,173.4 98.3,173.4 99.7,181.2 95.7,181.8 93.8,178.6Z" fill="#0a14ff"/><path d="M175.2,149.9 177.8,140.8 184.3,139.5 193.4,140.1 202.6,139.5 209.1,135.6 219.5,135.6 241.7,134.3 245.6,130.4 252.1,130.4 253.4,134.3 271.6,133.0 278.1,131.7 279.4,142.1 282.1,153.8 283.4,173.4 278.1,173.4 271.6,168.2 258.6,165.6 252.1,170.8 249.5,165.6 240.3,161.6 232.5,159.0 214.3,156.4 202.6,155.1 186.9,152.5 177.8,151.9Z" fill="#ffc09a"/><path d="M202.6,146.0 209.1,140.8 219.5,137.5 232.5,138.2 245.6,136.9 258.6,138.2 271.6,138.2 278.1,140.8 280.8,152.5 282.7,172.1 278.1,172.7 271.6,166.9 258.6,164.3 245.6,163.0 232.5,157.7 214.3,155.1 203.9,152.5Z" fill="#ff7850"/><path d="M214.3,147.3 222.1,144.7 232.5,142.1 245.6,143.4 258.6,142.1 271.6,142.7 278.1,144.7 281.4,155.1 282.7,170.8 278.1,171.4 271.6,165.6 258.6,160.3 245.6,157.7 232.5,153.8 219.5,151.2Z" fill="#ff1408"/><path d="M258.6,147.3 271.6,146.0 278.8,149.9 282.1,161.6 282.1,169.5 278.1,169.5 271.6,163.0 262.5,157.7 258.6,153.8Z" fill="#e0001a"/><path d="M257.3,173.4 261.2,173.4 263.8,186.4 269.0,194.2 269.0,198.1 265.1,196.8 261.2,191.6 258.6,186.4Z" fill="#ffc09a"/><path d="M140.0,110.2 156.9,108.2 158.2,105.6 172.6,105.6 172.6,108.9 160.8,109.5 160.8,112.1 154.3,112.1 153.0,116.0 140.0,113.4Z" fill="#88bef8"/><path d="M172.6,181.2 177.8,174.7 184.3,176.0 190.8,181.2 199.9,186.4 210.4,191.6 222.1,191.6 232.5,192.9 239.0,199.4 244.3,207.3 244.3,211.2 227.3,211.2 222.1,202.0 213.0,196.8 202.6,194.2 193.4,190.3 184.3,185.1 177.8,183.8Z" fill="#88bef8"/>
<use href="#lf"/><use href="#lc"/><use href="#ld"/><use href="#ll"/>
<path d="M38.6,16.8L39.6,11.4" stroke="#111" stroke-width="2.1"/><path d="M40.5,6.0L42.3,12.4L36.6,11.4Z" fill="#111"/><path d="M64.0,11.7L64.3,8.0" stroke="#111" stroke-width="1.5"/><path d="M64.6,4.1L66.3,8.6L62.1,8.3Z" fill="#111"/><path d="M85.5,8.5L86.8,6.2" stroke="#111" stroke-width="1.5"/><path d="M88.7,2.8L88.4,7.7L84.7,5.6Z" fill="#111"/><path d="M55.1,26.9L55.6,24.4" stroke="#111" stroke-width="1.5"/><path d="M56.4,20.6L57.6,25.3L53.4,24.5Z" fill="#111"/><path d="M74.1,23.7L77.1,20.8" stroke="#111" stroke-width="1.5"/><path d="M79.8,18.0L78.2,22.6L75.2,19.6Z" fill="#111"/><path d="M28.5,36.4L32.8,33.5" stroke="#111" stroke-width="1.5"/><path d="M36.1,31.3L33.6,35.5L31.2,32.0Z" fill="#111"/><path d="M116.6,11.7L117.1,13.5" stroke="#111" stroke-width="1.5"/><path d="M117.8,16.1L115.5,13.4L118.5,12.6Z" fill="#111"/><path d="M104.5,28.2L108.8,30.6" stroke="#111" stroke-width="1.5"/><path d="M112.1,32.6L107.3,32.2L109.4,28.6Z" fill="#111"/><path d="M122.3,27.5L129.5,27.2" stroke="#111" stroke-width="2.1"/><path d="M135.0,26.9L129.1,30.1L128.8,24.3Z" fill="#111"/><path d="M71.6,42.1L70.1,40.2" stroke="#111" stroke-width="1.5"/><path d="M67.8,37.0L72.1,39.3L68.7,41.8Z" fill="#111"/><path d="M96.3,39.6L96.3,41.8" stroke="#111" stroke-width="1.5"/><path d="M96.3,45.3L94.4,41.3L98.2,41.3Z" fill="#111"/><path d="M19.6,47.2L20.2,48.4" stroke="#111" stroke-width="1.5"/><path d="M20.9,49.7L19.1,48.4L20.8,47.5Z" fill="#111"/><path d="M49.4,51.0L49.9,49.6" stroke="#111" stroke-width="1.5"/><path d="M50.7,47.8L50.8,50.5L48.7,49.6Z" fill="#111"/><path d="M71.6,61.8L71.6,59.5" stroke="#111" stroke-width="1.5"/><path d="M71.6,56.1L73.5,60.0L69.7,60.0Z" fill="#111"/><path d="M98.2,58.6L98.2,61.0" stroke="#111" stroke-width="1.5"/><path d="M98.2,64.9L96.1,60.5L100.3,60.5Z" fill="#111"/><path d="M43.0,66.2L39.4,68.5" stroke="#111" stroke-width="1.5"/><path d="M36.1,70.6L38.6,66.5L40.9,70.1Z" fill="#111"/><path d="M58.9,72.5L57.7,74.3" stroke="#111" stroke-width="1.5"/><path d="M55.7,77.0L56.4,72.8L59.4,74.9Z" fill="#111"/><path d="M23.4,78.2L27.3,81.5" stroke="#111" stroke-width="1.5"/><path d="M30.4,83.9L25.6,82.8L28.3,79.5Z" fill="#111"/><path d="M44.9,89.7L47.7,90.7" stroke="#111" stroke-width="1.5"/><path d="M51.3,92.2L46.4,92.5L48.0,88.6Z" fill="#111"/><path d="M88.1,80.1L86.3,81.2" stroke="#111" stroke-width="1.5"/><path d="M83.6,82.7L85.9,79.4L87.6,82.4Z" fill="#111"/><path d="M103.3,80.1L103.7,88.6" stroke="#111" stroke-width="2.1"/><path d="M103.9,94.1L100.8,88.2L106.5,88.0Z" fill="#111"/><path d="M122.9,95.4L123.3,90.4" stroke="#111" stroke-width="1.5"/><path d="M123.6,86.5L125.3,91.0L121.1,90.7Z" fill="#111"/><path d="M143.8,83.3L145.7,78.3" stroke="#111" stroke-width="2.1"/><path d="M147.6,73.2L148.2,79.8L142.8,77.8Z" fill="#111"/><path d="M20.2,100.4L20.8,99.2" stroke="#111" stroke-width="1.5"/><path d="M21.5,97.9L21.5,100.1L19.7,99.2Z" fill="#111"/><path d="M146.4,29.4L151.7,27.1" stroke="#111" stroke-width="1.5"/><path d="M155.2,25.6L152.0,29.3L150.4,25.4Z" fill="#111"/><path d="M167.9,37.7L169.9,37.4" stroke="#111" stroke-width="1.5"/><path d="M173.0,37.0L169.6,39.2L169.2,35.8Z" fill="#111"/><path d="M180.6,34.5L179.0,43.6" stroke="#111" stroke-width="2.1"/><path d="M178.1,49.1L176.2,42.7L181.9,43.6Z" fill="#111"/><path d="M172.3,52.2L172.3,58.1" stroke="#111" stroke-width="2.1"/><path d="M172.3,63.6L169.5,57.6L175.2,57.6Z" fill="#111"/><path d="M173.0,70.0L179.7,81.1" stroke="#111" stroke-width="2.1"/><path d="M182.5,85.8L176.9,82.1L181.9,79.2Z" fill="#111"/><path d="M186.9,62.4L193.8,64.9" stroke="#111" stroke-width="2.1"/><path d="M199.0,66.8L192.3,67.4L194.3,62.0Z" fill="#111"/><path d="M213.5,51.0L211.0,39.8" stroke="#111" stroke-width="2.1"/><path d="M209.7,34.5L213.9,39.7L208.3,41.0Z" fill="#111"/><path d="M206.6,68.7L210.9,60.8" stroke="#111" stroke-width="2.1"/><path d="M213.5,56.0L213.2,62.7L208.1,59.9Z" fill="#111"/><path d="M225.6,77.6L225.6,64.7" stroke="#111" stroke-width="2.1"/><path d="M225.6,59.2L228.5,65.2L222.7,65.2Z" fill="#111"/><path d="M204.7,87.7L210.2,80.6" stroke="#111" stroke-width="2.1"/><path d="M213.5,76.3L212.1,82.8L207.6,79.3Z" fill="#111"/><path d="M231.9,91.5L229.6,87.8" stroke="#111" stroke-width="1.5"/><path d="M227.5,84.5L231.6,87.1L228.1,89.4Z" fill="#111"/><path d="M166.0,89.6L163.0,93.5" stroke="#111" stroke-width="2.1"/><path d="M159.7,97.8L161.1,91.3L165.6,94.8Z" fill="#111"/><path d="M143.8,83.3L146.1,78.2" stroke="#111" stroke-width="2.1"/><path d="M148.3,73.1L148.5,79.8L143.2,77.5Z" fill="#111"/><path d="M183.1,97.8L189.4,96.7" stroke="#111" stroke-width="1.5"/><path d="M193.3,95.9L189.3,98.8L188.5,94.7Z" fill="#111"/><path d="M204.0,104.8L206.7,99.4" stroke="#111" stroke-width="1.5"/><path d="M208.5,95.9L208.4,100.8L204.6,98.9Z" fill="#111"/><path d="M204.7,26.2L197.1,26.8" stroke="#111" stroke-width="1.5"/><path d="M193.3,27.1L197.5,24.7L197.8,28.9Z" fill="#111"/><path d="M228.7,35.1L228.1,36.1" stroke="#111" stroke-width="1.5"/><path d="M227.5,37.0L227.7,35.3L229.0,36.1Z" fill="#111"/><path d="M242.7,36.4L246.4,36.6" stroke="#111" stroke-width="1.5"/><path d="M250.3,36.8L245.8,38.7L246.0,34.4Z" fill="#111"/><path d="M256.6,20.5L259.6,23.5" stroke="#111" stroke-width="1.5"/><path d="M262.3,26.2L257.7,24.6L260.7,21.6Z" fill="#111"/><path d="M266.8,35.8L272.4,36.5" stroke="#111" stroke-width="1.5"/><path d="M276.3,37.0L271.6,38.5L272.2,34.3Z" fill="#111"/><path d="M257.3,47.8L259.8,52.6" stroke="#111" stroke-width="1.5"/><path d="M261.7,56.0L257.7,53.2L261.5,51.2Z" fill="#111"/><path d="M247.1,67.4L243.3,72.0" stroke="#111" stroke-width="1.5"/><path d="M240.8,75.0L242.0,70.3L245.2,73.0Z" fill="#111"/><path d="M258.5,71.9L261.6,71.6" stroke="#111" stroke-width="1.5"/><path d="M265.5,71.2L261.3,73.7L260.9,69.5Z" fill="#111"/><path d="M263.0,90.9L267.9,90.5" stroke="#111" stroke-width="1.5"/><path d="M271.8,90.2L267.6,92.7L267.3,88.5Z" fill="#111"/><path d="M274.4,95.9L278.1,96.6" stroke="#111" stroke-width="1.5"/><path d="M282.0,97.2L277.3,98.6L278.0,94.4Z" fill="#111"/><path d="M279.4,77.6L278.2,78.2" stroke="#111" stroke-width="1.5"/><path d="M276.9,78.8L278.2,77.1L279.1,78.8Z" fill="#111"/><path d="M292.1,85.2L290.5,86.0" stroke="#111" stroke-width="1.5"/><path d="M288.3,87.1L290.3,84.5L291.6,87.0Z" fill="#111"/><path d="M242.7,89.6L248.5,91.5" stroke="#111" stroke-width="1.5"/><path d="M252.2,92.8L247.3,93.4L248.7,89.4Z" fill="#111"/><path d="M14.9,118.6L7.2,125.9" stroke="#111" stroke-width="2.1"/><path d="M3.2,129.7L5.6,123.5L9.5,127.7Z" fill="#111"/><path d="M27.3,117.3L25.3,123.4" stroke="#111" stroke-width="1.5"/><path d="M24.1,127.1L23.4,122.3L27.5,123.6Z" fill="#111"/><path d="M22.8,135.6L18.1,142.2" stroke="#111" stroke-width="2.1"/><path d="M14.9,146.7L16.0,140.1L20.8,143.4Z" fill="#111"/><path d="M7.1,152.5L8.3,157.8" stroke="#111" stroke-width="1.5"/><path d="M9.1,161.6L6.1,157.8L10.2,156.9Z" fill="#111"/><path d="M26.0,152.5L25.6,157.8" stroke="#111" stroke-width="1.5"/><path d="M25.4,161.6L23.6,157.1L27.8,157.4Z" fill="#111"/><path d="M15.6,165.6L16.3,173.1" stroke="#111" stroke-width="2.1"/><path d="M16.9,178.6L13.4,172.9L19.2,172.3Z" fill="#111"/><path d="M37.7,171.4L35.9,176.3" stroke="#111" stroke-width="1.5"/><path d="M34.5,179.9L34.1,175.0L38.0,176.5Z" fill="#111"/><path d="M47.5,186.4L43.0,192.4" stroke="#111" stroke-width="2.1"/><path d="M39.7,196.8L41.0,190.3L45.6,193.8Z" fill="#111"/><path d="M56.6,170.1L48.2,161.6" stroke="#111" stroke-width="2.1"/><path d="M44.3,157.7L50.5,159.9L46.5,164.0Z" fill="#111"/><path d="M71.6,172.1L66.8,161.4" stroke="#111" stroke-width="2.1"/><path d="M64.5,156.4L69.6,160.7L64.3,163.1Z" fill="#111"/><path d="M61.2,184.5L56.4,178.4" stroke="#111" stroke-width="1.5"/><path d="M54.0,175.3L58.4,177.5L55.1,180.1Z" fill="#111"/><path d="M13.6,189.7L16.1,192.1" stroke="#111" stroke-width="1.5"/><path d="M18.8,194.9L14.2,193.3L17.2,190.3Z" fill="#111"/><path d="M28.6,198.8L29.3,204.4" stroke="#111" stroke-width="2.1"/><path d="M29.9,209.9L26.4,204.2L32.1,203.6Z" fill="#111"/><path d="M52.7,202.7L51.1,206.3" stroke="#111" stroke-width="1.5"/><path d="M49.5,209.9L49.4,205.0L53.2,206.7Z" fill="#111"/><path d="M92.5,176.0L92.0,178.0" stroke="#111" stroke-width="1.5"/><path d="M91.2,181.2L90.3,177.1L93.8,178.0Z" fill="#111"/><path d="M126.4,133.6L134.7,131.6" stroke="#111" stroke-width="2.1"/><path d="M140.1,130.4L134.9,134.6L133.5,129.0Z" fill="#111"/><path d="M128.3,152.5L126.5,146.1" stroke="#111" stroke-width="2.1"/><path d="M125.1,140.8L129.4,145.8L123.9,147.3Z" fill="#111"/><path d="M132.9,146.0L145.1,148.7" stroke="#111" stroke-width="2.1"/><path d="M150.5,149.9L144.0,151.4L145.2,145.8Z" fill="#111"/><path d="M133.5,174.7L134.4,161.1" stroke="#111" stroke-width="3.2"/><path d="M134.8,153.2L138.4,161.8L130.3,161.3Z" fill="#111"/><path d="M138.1,206.0L137.3,200.0" stroke="#111" stroke-width="1.5"/><path d="M136.8,196.2L139.5,200.3L135.3,200.8Z" fill="#111"/><path d="M145.3,186.4L145.8,184.8" stroke="#111" stroke-width="1.5"/><path d="M146.6,182.5L147.0,185.7L144.3,184.8Z" fill="#111"/><path d="M121.8,189.0L123.7,189.3" stroke="#111" stroke-width="1.5"/><path d="M126.4,189.7L123.0,190.7L123.4,187.7Z" fill="#111"/><path d="M144.0,169.5L142.4,167.4" stroke="#111" stroke-width="1.5"/><path d="M140.1,164.3L144.4,166.5L141.0,169.0Z" fill="#111"/><path d="M143.9,135.6L153.2,131.3" stroke="#111" stroke-width="2.1"/><path d="M158.2,129.1L154.0,134.2L151.6,128.9Z" fill="#111"/><path d="M166.1,137.5L173.0,138.0" stroke="#111" stroke-width="2.1"/><path d="M178.4,138.4L172.2,140.9L172.7,135.1Z" fill="#111"/><path d="M141.3,146.7L147.2,147.8" stroke="#111" stroke-width="3.2"/><path d="M155.0,149.3L146.0,151.7L147.5,143.7Z" fill="#111"/><path d="M192.1,127.8L197.6,132.1" stroke="#111" stroke-width="2.1"/><path d="M201.9,135.6L195.4,134.1L199.0,129.6Z" fill="#111"/><path d="M237.1,116.0L229.6,124.9" stroke="#111" stroke-width="2.1"/><path d="M226.0,129.1L227.7,122.6L232.1,126.4Z" fill="#111"/><path d="M186.9,153.2L189.3,147.8" stroke="#111" stroke-width="2.1"/><path d="M191.5,142.7L191.7,149.4L186.4,147.1Z" fill="#111"/><path d="M206.5,148.0L209.6,145.1" stroke="#111" stroke-width="2.1"/><path d="M213.6,141.4L211.1,147.6L207.3,143.4Z" fill="#111"/><path d="M196.7,164.3L201.1,160.2" stroke="#111" stroke-width="2.1"/><path d="M205.2,156.4L202.7,162.6L198.8,158.4Z" fill="#111"/><path d="M181.0,177.9L185.3,173.0" stroke="#111" stroke-width="2.1"/><path d="M188.9,168.8L187.2,175.2L182.8,171.5Z" fill="#111"/><path d="M274.2,135.6L269.8,138.2" stroke="#111" stroke-width="1.5"/><path d="M266.4,140.1L269.2,136.1L271.3,139.8Z" fill="#111"/><path d="M155.6,173.4L161.5,173.5" stroke="#111" stroke-width="1.5"/><path d="M165.4,173.6L161.0,175.6L161.1,171.4Z" fill="#111"/><path d="M201.9,172.7L208.7,176.1" stroke="#111" stroke-width="2.1"/><path d="M213.6,178.6L207.0,178.5L209.6,173.3Z" fill="#111"/><path d="M213.6,179.9L222.6,191.2" stroke="#111" stroke-width="2.1"/><path d="M226.0,195.5L220.0,192.6L224.5,189.0Z" fill="#111"/><path d="M162.2,183.8L173.8,187.4" stroke="#111" stroke-width="2.1"/><path d="M179.1,189.0L172.5,190.0L174.2,184.5Z" fill="#111"/><path d="M187.6,192.3L198.0,188.8" stroke="#111" stroke-width="2.1"/><path d="M203.2,187.1L198.4,191.7L196.6,186.2Z" fill="#111"/><path d="M171.3,202.0L180.3,202.4" stroke="#111" stroke-width="3.2"/><path d="M188.2,202.7L179.7,206.4L180.0,198.3Z" fill="#111"/><path d="M197.3,202.0L210.3,202.5" stroke="#111" stroke-width="3.2"/><path d="M218.2,202.7L209.7,206.5L209.9,198.4Z" fill="#111"/><path d="M153.0,208.6L155.9,200.1" stroke="#111" stroke-width="2.1"/><path d="M157.6,194.9L158.4,201.5L153.0,199.7Z" fill="#111"/><path d="M145.2,181.2L146.0,183.2" stroke="#111" stroke-width="1.5"/><path d="M147.2,186.4L144.0,183.4L147.5,182.1Z" fill="#111"/><path d="M145.2,189.0L148.0,192.5" stroke="#111" stroke-width="1.5"/><path d="M150.4,195.5L146.0,193.4L149.3,190.8Z" fill="#111"/><path d="M149.1,178.6L149.7,180.2" stroke="#111" stroke-width="1.5"/><path d="M150.4,182.5L148.2,180.2L150.8,179.3Z" fill="#111"/><path d="M162.2,110.8L161.9,112.9" stroke="#111" stroke-width="1.5"/><path d="M161.5,116.0L160.2,112.2L163.7,112.6Z" fill="#111"/><path d="M193.4,104.3L194.0,106.0" stroke="#111" stroke-width="1.5"/><path d="M194.7,108.2L192.5,105.9L195.1,105.0Z" fill="#111"/>
<rect x="276" y="174" width="19.5" height="37.7" fill="#fff"/>
<text x="283.3" y="186.8" font-size="12.5" text-anchor="middle">1</text>
<path d="M274.3,196.7L286,196.7" stroke="#000" stroke-width="1.7"/><path d="M292,196.7L285.5,193.9L285.5,199.5Z" fill="#000"/>
</g>
<rect x="0" y="0" width="295.5" height="211.7" fill="none" stroke="#000" stroke-width="2.2"/>
<line x1="23.6" y1="211.7" x2="23.6" y2="218.2" stroke="#000" stroke-width="2"/>
<line x1="94.6" y1="211.7" x2="94.6" y2="218.2" stroke="#000" stroke-width="2"/>
<line x1="165.5" y1="211.7" x2="165.5" y2="218.2" stroke="#000" stroke-width="2"/>
<line x1="236.4" y1="211.7" x2="236.4" y2="218.2" stroke="#000" stroke-width="2"/>
<text transform="translate(-2.2,-7.5) scale(0.97,1)" font-size="22.5">(g) JAS</text>
<text transform="translate(297.7,-8.7) scale(0.980,1)" font-size="23.5" text-anchor="end">WSGEN</text>
</g>
<g transform="translate(993.90,292.00)">
<g clip-path="url(#cp)">
<path d="M177.9,59.8 185.5,57.3 185.5,54.8 198.1,54.8 198.1,59.2 200.7,59.8 200.7,62.4 198.1,63.6 198.1,67.4 180.4,67.4 177.9,63.6Z" fill="#0a14ff"/><path d="M188.0,56.3 194.3,56.3 194.3,62.4 188.0,62.4Z" fill="#2100c4"/><path d="M204.5,106.7 208.3,95.3 212.1,87.7 217.1,82.6 223.5,70.0 229.8,68.1 231.7,72.5 233.6,81.4 232.3,90.2 229.8,97.8 228.5,106.7Z" fill="#ff7850"/><path d="M220.9,94.0 223.5,94.0 223.5,99.1 220.9,99.1Z" fill="#ff1408"/><path d="M177.2,-0.4 181.7,-0.4 181.7,2.8 177.2,2.8Z" fill="#ff1408"/><path d="M49.9,108.2 56.4,105.6 61.7,108.2 64.3,118.6 61.7,123.9 56.4,129.1 51.2,123.9Z" fill="#ffc09a"/><path d="M128.1,114.7 146.4,114.7 146.4,129.1 150.3,129.1 150.3,136.9 142.5,136.9 139.9,144.7 139.9,160.3 135.9,157.7 134.6,142.1 132.0,129.1Z" fill="#88bef8"/><path d="M14.7,168.2 25.2,166.9 27.8,176.0 29.1,186.4 38.2,187.7 42.1,194.2 44.7,202.0 44.7,211.2 39.5,211.2 36.9,203.4 31.7,199.4 22.6,198.1 17.3,191.6 14.7,181.2Z" fill="#ffc09a"/><path d="M23.9,189.0 31.7,187.7 34.3,192.9 31.7,198.1 25.2,198.1Z" fill="#ff7850"/><path d="M90.3,173.4 96.8,173.4 99.5,179.9 95.5,186.4 92.9,190.3 89.0,189.0 89.0,182.5Z" fill="#3c78f5"/><path d="M160.6,159.0 164.6,140.8 180.2,136.9 197.1,133.0 198.4,129.1 202.4,122.5 198.4,116.0 202.4,108.2 208.9,102.3 229.7,102.3 231.0,113.4 232.3,122.5 245.4,125.2 258.4,129.1 276.6,129.1 279.2,142.1 281.9,155.1 283.2,173.4 271.4,170.8 263.6,168.2 261.0,176.0 264.9,181.2 270.1,183.8 271.4,204.7 266.2,203.4 263.6,199.4 258.4,194.2 249.3,194.2 240.1,191.6 232.3,186.4 225.8,181.2 219.3,176.0 214.1,170.8 203.7,166.9 190.6,164.3 180.2,163.0 167.2,161.6Z" fill="#ffc09a"/><path d="M164.6,142.1 180.2,137.5 198.4,135.6 219.3,134.3 245.4,134.3 264.9,136.9 277.9,142.1 281.9,155.1 282.5,172.1 276.6,170.8 264.9,165.6 245.4,163.0 225.8,161.6 206.3,160.3 190.6,159.0 177.6,157.7 164.6,157.7Z" fill="#ff7850"/><path d="M250.6,181.2 258.4,181.2 268.8,185.1 271.4,194.2 270.1,204.7 264.9,199.4 257.1,192.9 251.9,189.0Z" fill="#ff7850"/><path d="M211.5,102.3 227.1,102.3 228.4,109.5 221.9,110.8 214.1,106.9Z" fill="#ff7850"/><path d="M176.3,146.0 180.2,141.4 195.8,139.5 219.3,137.5 245.4,137.5 264.9,140.1 276.6,144.7 281.2,157.7 281.9,169.5 276.6,168.8 264.9,163.0 245.4,160.3 225.8,157.7 206.3,156.4 190.6,155.1 177.6,152.5Z" fill="#ff1408"/><path d="M214.1,140.8 245.4,140.8 264.9,142.7 275.3,147.3 279.2,157.7 279.2,166.9 271.4,164.3 258.4,159.0 238.8,156.4 219.3,153.8 211.5,148.6Z" fill="#e0001a"/><path d="M139.8,114.7 146.3,114.7 146.3,130.4 148.9,133.0 148.9,140.8 139.8,142.1Z" fill="#88bef8"/><path d="M169.8,186.4 175.0,179.9 182.8,178.6 193.2,181.2 198.4,189.0 206.3,191.6 211.5,194.2 224.5,195.5 232.3,202.0 245.4,206.0 248.0,211.2 219.3,211.2 214.1,204.7 201.1,202.0 193.2,199.4 190.6,194.2 180.2,191.6 171.1,189.0Z" fill="#88bef8"/>
<use href="#lf"/><use href="#lc"/><use href="#ld"/><use href="#ll"/>
<path d="M49.8,21.2L52.2,17.5" stroke="#111" stroke-width="1.5"/><path d="M54.3,14.2L53.7,19.1L50.1,16.8Z" fill="#111"/><path d="M33.3,37.0L36.1,33.2" stroke="#111" stroke-width="1.5"/><path d="M38.4,30.1L37.5,34.9L34.1,32.4Z" fill="#111"/><path d="M15.6,50.4L20.5,45.0" stroke="#111" stroke-width="1.5"/><path d="M23.2,42.1L21.8,46.8L18.7,43.9Z" fill="#111"/><path d="M77.7,44.6L70.1,42.5" stroke="#111" stroke-width="1.5"/><path d="M66.3,41.5L71.1,40.6L70.0,44.7Z" fill="#111"/><path d="M108.1,29.4L108.8,30.4" stroke="#111" stroke-width="1.5"/><path d="M109.4,31.3L107.9,30.4L109.2,29.6Z" fill="#111"/><path d="M110.7,46.5L110.2,48.4" stroke="#111" stroke-width="1.5"/><path d="M109.4,51.0L108.8,47.5L111.8,48.3Z" fill="#111"/><path d="M91.7,53.5L92.9,55.0" stroke="#111" stroke-width="1.5"/><path d="M94.8,57.3L91.3,55.7L93.9,53.6Z" fill="#111"/><path d="M48.5,54.8L47.9,56.0" stroke="#111" stroke-width="1.5"/><path d="M47.3,57.3L47.3,55.1L49.0,56.0Z" fill="#111"/><path d="M30.2,66.2L32.0,63.2" stroke="#111" stroke-width="1.5"/><path d="M34.0,59.9L33.5,64.7L29.9,62.5Z" fill="#111"/><path d="M8.0,64.9L9.0,63.0" stroke="#111" stroke-width="1.5"/><path d="M10.5,59.9L10.4,64.3L7.0,62.6Z" fill="#111"/><path d="M50.5,73.8L46.5,75.1" stroke="#111" stroke-width="1.5"/><path d="M42.8,76.3L46.3,72.9L47.7,77.0Z" fill="#111"/><path d="M65.0,77.0L61.7,81.5" stroke="#111" stroke-width="1.5"/><path d="M59.3,84.6L60.3,79.8L63.7,82.3Z" fill="#111"/><path d="M18.1,76.3L20.8,81.7" stroke="#111" stroke-width="1.5"/><path d="M22.6,85.2L18.7,82.2L22.5,80.3Z" fill="#111"/><path d="M0.4,75.1L2.4,79.2" stroke="#111" stroke-width="1.5"/><path d="M4.2,82.7L0.3,79.7L4.1,77.8Z" fill="#111"/><path d="M87.2,73.2L86.9,74.6" stroke="#111" stroke-width="1.5"/><path d="M86.6,76.3L86.0,73.9L88.1,74.3Z" fill="#111"/><path d="M75.2,92.8L74.3,94.2" stroke="#111" stroke-width="1.5"/><path d="M73.3,96.0L73.5,93.1L75.7,94.4Z" fill="#111"/><path d="M47.3,96.0L49.3,96.7" stroke="#111" stroke-width="1.5"/><path d="M52.4,97.9L48.2,98.3L49.4,94.9Z" fill="#111"/><path d="M10.5,101.7L9.0,96.0" stroke="#111" stroke-width="1.5"/><path d="M8.0,92.2L11.1,95.9L7.1,97.0Z" fill="#111"/><path d="M136.7,60.5L126.9,62.1" stroke="#111" stroke-width="2.1"/><path d="M121.5,63.0L126.9,59.2L127.8,64.9Z" fill="#111"/><path d="M103.1,83.9L103.6,86.0" stroke="#111" stroke-width="1.5"/><path d="M104.3,89.0L101.7,85.9L105.2,85.0Z" fill="#111"/><path d="M117.6,105.5L117.9,102.4" stroke="#111" stroke-width="1.5"/><path d="M118.3,98.5L120.0,103.1L115.8,102.7Z" fill="#111"/><path d="M158.8,7.9L162.3,11.0" stroke="#111" stroke-width="1.5"/><path d="M165.2,13.6L160.5,12.2L163.3,9.1Z" fill="#111"/><path d="M150.0,18.0L151.2,29.0" stroke="#111" stroke-width="2.1"/><path d="M151.9,34.5L148.3,28.9L154.0,28.2Z" fill="#111"/><path d="M163.9,25.0L167.8,35.6" stroke="#111" stroke-width="2.1"/><path d="M169.6,40.8L164.9,36.1L170.3,34.2Z" fill="#111"/><path d="M148.7,45.9L153.8,53.4" stroke="#111" stroke-width="2.1"/><path d="M156.9,57.9L151.2,54.6L155.9,51.3Z" fill="#111"/><path d="M167.7,54.8L173.1,63.4" stroke="#111" stroke-width="2.1"/><path d="M175.9,68.1L170.3,64.5L175.2,61.4Z" fill="#111"/><path d="M169.0,72.5L169.0,82.8" stroke="#111" stroke-width="2.1"/><path d="M169.0,88.3L166.1,82.3L171.9,82.3Z" fill="#111"/><path d="M160.1,91.5L160.1,96.1" stroke="#111" stroke-width="2.1"/><path d="M160.1,101.6L157.2,95.6L163.0,95.6Z" fill="#111"/><path d="M189.9,85.2L198.6,87.9" stroke="#111" stroke-width="2.1"/><path d="M203.8,89.6L197.2,90.5L199.0,85.0Z" fill="#111"/><path d="M218.4,76.9L214.0,65.6" stroke="#111" stroke-width="2.1"/><path d="M212.1,60.5L216.9,65.0L211.5,67.1Z" fill="#111"/><path d="M214.6,93.4L215.4,87.5" stroke="#111" stroke-width="2.1"/><path d="M216.1,82.0L218.2,88.3L212.5,87.6Z" fill="#111"/><path d="M237.4,75.0L231.2,74.6" stroke="#111" stroke-width="1.5"/><path d="M227.3,74.4L231.8,72.6L231.5,76.8Z" fill="#111"/><path d="M204.5,14.2L203.4,15.8" stroke="#111" stroke-width="1.5"/><path d="M201.9,18.0L202.4,14.5L205.0,16.2Z" fill="#111"/><path d="M231.1,35.8L230.6,37.8" stroke="#111" stroke-width="1.5"/><path d="M229.8,40.8L229.0,36.8L232.4,37.7Z" fill="#111"/><path d="M252.6,37.0L248.8,39.8" stroke="#111" stroke-width="1.5"/><path d="M245.6,42.1L248.0,37.8L250.5,41.2Z" fill="#111"/><path d="M272.9,37.0L270.6,39.3" stroke="#111" stroke-width="1.5"/><path d="M267.8,42.1L269.4,37.5L272.4,40.5Z" fill="#111"/><path d="M243.7,52.9L238.4,55.6" stroke="#111" stroke-width="1.5"/><path d="M234.9,57.3L237.9,53.4L239.8,57.2Z" fill="#111"/><path d="M262.8,51.6L254.7,56.5" stroke="#111" stroke-width="1.5"/><path d="M251.4,58.6L254.0,54.5L256.2,58.1Z" fill="#111"/><path d="M289.4,49.7L283.9,52.8" stroke="#111" stroke-width="1.5"/><path d="M280.5,54.8L283.3,50.7L285.4,54.4Z" fill="#111"/><path d="M274.2,66.2L270.6,68.1" stroke="#111" stroke-width="1.5"/><path d="M267.2,70.0L270.0,66.0L272.1,69.7Z" fill="#111"/><path d="M258.3,72.5L252.4,74.9" stroke="#111" stroke-width="1.5"/><path d="M248.8,76.3L252.1,72.7L253.7,76.6Z" fill="#111"/><path d="M278.0,85.2L277.0,87.1" stroke="#111" stroke-width="1.5"/><path d="M275.4,90.2L275.5,85.8L278.9,87.5Z" fill="#111"/><path d="M291.9,99.1L290.3,98.1" stroke="#111" stroke-width="1.5"/><path d="M288.1,96.6L291.6,97.1L289.9,99.6Z" fill="#111"/><path d="M188.0,101.6L189.9,102.9" stroke="#111" stroke-width="1.5"/><path d="M193.1,104.8L188.4,104.3L190.6,100.9Z" fill="#111"/><path d="M262.8,3.4L264.7,7.0" stroke="#111" stroke-width="1.5"/><path d="M266.6,10.4L262.6,7.6L266.3,5.5Z" fill="#111"/><path d="M291.9,29.4L291.3,32.5" stroke="#111" stroke-width="1.5"/><path d="M290.6,36.4L289.3,31.7L293.5,32.4Z" fill="#111"/><path d="M27.1,105.6L27.1,110.2" stroke="#111" stroke-width="1.5"/><path d="M27.1,114.1L25.0,109.7L29.2,109.7Z" fill="#111"/><path d="M87.7,105.6L87.7,109.5" stroke="#111" stroke-width="1.5"/><path d="M87.7,113.4L85.6,109.0L89.8,109.0Z" fill="#111"/><path d="M38.2,140.8L38.9,135.2" stroke="#111" stroke-width="2.1"/><path d="M39.5,129.7L41.7,136.0L35.9,135.3Z" fill="#111"/><path d="M63.0,131.7L60.8,134.9" stroke="#111" stroke-width="2.1"/><path d="M57.7,139.5L58.7,132.9L63.5,136.1Z" fill="#111"/><path d="M25.8,141.4L17.2,145.1" stroke="#111" stroke-width="2.1"/><path d="M12.1,147.3L16.5,142.3L18.8,147.6Z" fill="#111"/><path d="M17.3,156.4L18.2,165.3" stroke="#111" stroke-width="2.1"/><path d="M18.6,170.8L15.2,165.1L21.0,164.5Z" fill="#111"/><path d="M30.4,171.4L30.4,177.3" stroke="#111" stroke-width="1.5"/><path d="M30.4,181.2L28.3,176.8L32.5,176.8Z" fill="#111"/><path d="M47.3,178.6L46.3,182.6" stroke="#111" stroke-width="1.5"/><path d="M45.4,186.4L44.4,181.6L48.5,182.7Z" fill="#111"/><path d="M9.5,209.9L9.5,199.7" stroke="#111" stroke-width="2.1"/><path d="M9.5,194.2L12.4,200.2L6.6,200.2Z" fill="#111"/><path d="M36.9,191.6L39.5,198.2" stroke="#111" stroke-width="2.1"/><path d="M41.5,203.4L36.6,198.8L42.0,196.7Z" fill="#111"/><path d="M55.1,200.7L55.1,204.7" stroke="#111" stroke-width="1.5"/><path d="M55.1,208.6L53.0,204.2L57.3,204.2Z" fill="#111"/><path d="M83.8,189.0L81.2,189.3" stroke="#111" stroke-width="1.5"/><path d="M77.3,189.7L81.5,187.1L81.9,191.3Z" fill="#111"/><path d="M127.5,129.1L125.8,132.7" stroke="#111" stroke-width="1.5"/><path d="M124.2,136.2L124.1,131.4L128.0,133.1Z" fill="#111"/><path d="M128.1,141.4L142.6,145.3" stroke="#111" stroke-width="3.2"/><path d="M150.3,147.3L141.1,149.1L143.2,141.3Z" fill="#111"/><path d="M129.4,170.8L129.4,161.9" stroke="#111" stroke-width="2.1"/><path d="M129.4,156.4L132.3,162.4L126.5,162.4Z" fill="#111"/><path d="M137.2,160.3L141.7,167.5" stroke="#111" stroke-width="1.5"/><path d="M143.8,170.8L139.6,168.2L143.2,165.9Z" fill="#111"/><path d="M103.4,194.2L105.0,195.0" stroke="#111" stroke-width="1.5"/><path d="M107.3,196.2L103.9,196.1L105.2,193.5Z" fill="#111"/><path d="M128.1,195.5L126.9,196.1" stroke="#111" stroke-width="1.5"/><path d="M125.5,196.8L126.9,195.0L127.8,196.8Z" fill="#111"/><path d="M4.3,130.4L5.6,131.9" stroke="#111" stroke-width="1.5"/><path d="M7.6,134.3L4.0,132.6L6.6,130.4Z" fill="#111"/><path d="M20.0,191.6L18.7,192.2" stroke="#111" stroke-width="1.5"/><path d="M17.3,192.9L18.7,191.1L19.6,192.9Z" fill="#111"/><path d="M155.4,114.1L151.1,119.6" stroke="#111" stroke-width="2.1"/><path d="M147.6,123.9L149.1,117.4L153.6,121.0Z" fill="#111"/><path d="M165.9,106.9L167.6,113.3" stroke="#111" stroke-width="2.1"/><path d="M169.1,118.6L164.7,113.6L170.3,112.1Z" fill="#111"/><path d="M171.1,126.5L174.2,132.1" stroke="#111" stroke-width="2.1"/><path d="M176.9,136.9L171.5,133.1L176.5,130.2Z" fill="#111"/><path d="M154.1,133.0L155.4,138.1" stroke="#111" stroke-width="2.1"/><path d="M156.7,143.4L152.5,138.3L158.1,136.9Z" fill="#111"/><path d="M184.1,131.7L191.9,139.5" stroke="#111" stroke-width="2.1"/><path d="M195.8,143.4L189.6,141.2L193.6,137.1Z" fill="#111"/><path d="M202.4,125.8L207.1,133.0" stroke="#111" stroke-width="2.1"/><path d="M210.2,137.5L204.4,134.1L209.2,130.9Z" fill="#111"/><path d="M233.6,118.6L228.5,127.5" stroke="#111" stroke-width="2.1"/><path d="M225.8,132.3L226.3,125.7L231.3,128.5Z" fill="#111"/><path d="M241.5,104.3L241.8,110.2" stroke="#111" stroke-width="1.5"/><path d="M242.1,114.1L239.7,109.8L243.9,109.5Z" fill="#111"/><path d="M261.0,121.9L259.5,126.6" stroke="#111" stroke-width="1.5"/><path d="M258.4,130.4L257.7,125.5L261.7,126.8Z" fill="#111"/><path d="M276.6,138.8L271.4,142.5" stroke="#111" stroke-width="1.5"/><path d="M268.2,144.7L270.6,140.5L273.0,143.9Z" fill="#111"/><path d="M159.3,155.1L168.8,150.4" stroke="#111" stroke-width="2.1"/><path d="M173.7,148.0L169.6,153.2L167.0,148.1Z" fill="#111"/><path d="M180.8,163.0L182.9,157.1" stroke="#111" stroke-width="2.1"/><path d="M184.8,151.9L185.5,158.5L180.0,156.6Z" fill="#111"/><path d="M200.4,157.7L203.6,149.8" stroke="#111" stroke-width="2.1"/><path d="M205.6,144.7L206.1,151.3L200.7,149.2Z" fill="#111"/><path d="M216.0,149.9L219.3,144.2" stroke="#111" stroke-width="1.5"/><path d="M221.3,140.8L220.9,145.7L217.2,143.6Z" fill="#111"/><path d="M248.6,146.0L248.6,148.1" stroke="#111" stroke-width="1.5"/><path d="M248.6,151.2L246.9,147.6L250.4,147.6Z" fill="#111"/><path d="M226.5,163.6L228.3,161.8" stroke="#111" stroke-width="1.5"/><path d="M231.0,159.0L229.4,163.6L226.4,160.7Z" fill="#111"/><path d="M202.4,164.3L210.9,167.5" stroke="#111" stroke-width="2.1"/><path d="M216.0,169.5L209.4,170.0L211.5,164.6Z" fill="#111"/><path d="M245.4,166.9L245.4,170.8" stroke="#111" stroke-width="1.5"/><path d="M245.4,174.7L243.2,170.3L247.5,170.3Z" fill="#111"/><path d="M175.6,178.6L168.5,169.3" stroke="#111" stroke-width="2.1"/><path d="M165.2,164.9L171.1,167.9L166.6,171.4Z" fill="#111"/><path d="M190.6,179.9L191.4,173.0" stroke="#111" stroke-width="2.1"/><path d="M191.9,167.5L194.2,173.8L188.4,173.2Z" fill="#111"/><path d="M169.1,185.8L176.0,186.1" stroke="#111" stroke-width="2.1"/><path d="M181.5,186.4L175.4,189.0L175.7,183.2Z" fill="#111"/><path d="M194.5,188.4L204.2,185.8" stroke="#111" stroke-width="2.1"/><path d="M209.5,184.5L204.4,188.8L203.0,183.2Z" fill="#111"/><path d="M215.4,177.3L223.3,180.5" stroke="#111" stroke-width="2.1"/><path d="M228.4,182.5L221.8,182.9L223.9,177.6Z" fill="#111"/><path d="M235.6,179.9L238.6,186.6" stroke="#111" stroke-width="2.1"/><path d="M240.8,191.6L235.7,187.3L241.0,185.0Z" fill="#111"/><path d="M241.5,194.2L245.5,202.3" stroke="#111" stroke-width="2.1"/><path d="M248.0,207.3L242.7,203.2L247.9,200.6Z" fill="#111"/><path d="M215.4,203.4L222.2,197.7" stroke="#111" stroke-width="2.1"/><path d="M226.5,194.2L223.7,200.3L220.0,195.8Z" fill="#111"/><path d="M167.8,208.6L184.7,204.1" stroke="#111" stroke-width="2.1"/><path d="M190.0,202.7L184.9,207.0L183.4,201.5Z" fill="#111"/><path d="M152.2,211.2L154.5,206.2" stroke="#111" stroke-width="1.5"/><path d="M156.1,202.7L156.2,207.6L152.3,205.8Z" fill="#111"/><path d="M147.6,190.3L148.9,192.3" stroke="#111" stroke-width="1.5"/><path d="M150.9,195.5L146.8,193.0L150.3,190.8Z" fill="#111"/><path d="M148.9,178.6L149.7,180.4" stroke="#111" stroke-width="1.5"/><path d="M150.9,183.2L148.0,180.6L151.0,179.3Z" fill="#111"/><path d="M163.3,182.5L162.7,184.1" stroke="#111" stroke-width="1.5"/><path d="M162.0,186.4L161.6,183.2L164.2,184.1Z" fill="#111"/><path d="M189.3,104.3L191.8,106.8" stroke="#111" stroke-width="1.5"/><path d="M194.5,109.5L189.9,107.9L192.9,104.9Z" fill="#111"/>
<rect x="276" y="174" width="19.5" height="37.7" fill="#fff"/>
<text x="283.3" y="186.8" font-size="12.5" text-anchor="middle">1</text>
<path d="M274.3,196.7L286,196.7" stroke="#000" stroke-width="1.7"/><path d="M292,196.7L285.5,193.9L285.5,199.5Z" fill="#000"/>
</g>
<rect x="0" y="0" width="295.5" height="211.7" fill="none" stroke="#000" stroke-width="2.2"/>
<line x1="23.6" y1="211.7" x2="23.6" y2="218.2" stroke="#000" stroke-width="2"/>
<line x1="94.6" y1="211.7" x2="94.6" y2="218.2" stroke="#000" stroke-width="2"/>
<line x1="165.5" y1="211.7" x2="165.5" y2="218.2" stroke="#000" stroke-width="2"/>
<line x1="236.4" y1="211.7" x2="236.4" y2="218.2" stroke="#000" stroke-width="2"/>
<text transform="translate(-2.2,-7.5) scale(0.97,1)" font-size="22.5">(h) SON</text>
<text transform="translate(297.7,-8.7) scale(0.980,1)" font-size="23.5" text-anchor="end">WSGEN</text>
</g>
<g transform="translate(55.60,547.60)">
<g clip-path="url(#cp)">
<path d="M105.9,64.1 113.5,63.4 114.1,69.1 109.7,71.7 106.5,70.4Z" fill="#3c78f5"/><path d="M107.4,64.7 111.6,64.3 112.0,68.5 108.2,69.4Z" fill="#0a14ff"/><path d="M138.9,40.0 149.0,38.7 150.3,47.6 141.4,53.9 137.6,50.1Z" fill="#ffc09a"/><path d="M163.6,65.3 170.5,63.4 171.2,59.6 177.5,59.6 177.5,62.8 171.2,64.0 168.0,67.8 166.7,75.4 163.6,75.4Z" fill="#ff7850"/><path d="M76.3,129.5 82.8,128.2 88.0,133.4 84.1,139.9 81.5,146.4 78.9,146.4 76.9,139.9Z" fill="#88bef8"/><path d="M80.2,155.5 90.6,155.5 98.4,160.7 98.4,166.0 90.6,167.3 89.3,172.5 88.0,171.2 85.4,164.7 80.2,160.7Z" fill="#88bef8"/><path d="M124.5,139.9 136.2,133.4 142.8,130.8 150.6,132.1 150.6,168.6 144.1,166.0 136.2,158.1 129.7,149.0 124.5,145.1Z" fill="#ffc09a"/><path d="M140.1,132.1 155.7,132.1 164.9,124.3 172.7,122.9 176.6,129.5 184.4,128.2 190.9,128.2 189.6,133.4 174.0,134.7 164.9,138.6 155.7,139.9 155.7,160.7 150.5,167.3 140.1,166.0Z" fill="#ffc09a"/><path d="M168.8,172.5 174.0,173.8 180.5,176.4 188.3,182.9 197.4,189.4 206.6,194.6 209.2,201.1 206.6,202.4 200.0,197.2 190.9,193.3 183.1,189.4 176.6,184.2 171.4,179.0 167.5,175.1Z" fill="#ffc09a"/><path d="M223.5,199.8 228.7,201.1 232.6,206.4 230.0,207.7 224.8,203.8Z" fill="#ffc09a"/>
<use href="#lf"/><use href="#lc"/><use href="#ld"/><use href="#ll"/>
<path d="M62.8,52.7L70.2,57.0" stroke="#111" stroke-width="1.5"/><path d="M73.6,59.0L68.7,58.6L70.9,54.9Z" fill="#111"/><path d="M93.9,66.0L91.7,65.7" stroke="#111" stroke-width="1.5"/><path d="M88.2,65.3L92.4,63.9L91.9,67.7Z" fill="#111"/><path d="M42.5,51.4L43.3,53.0" stroke="#111" stroke-width="1.5"/><path d="M44.4,55.2L41.8,53.2L44.4,51.9Z" fill="#111"/><path d="M4.5,72.9L4.7,74.6" stroke="#111" stroke-width="1.5"/><path d="M5.1,76.7L3.4,74.3L5.9,73.9Z" fill="#111"/><path d="M7.0,93.2L5.0,93.7" stroke="#111" stroke-width="1.5"/><path d="M1.9,94.5L5.1,91.9L5.9,95.3Z" fill="#111"/><path d="M85.6,86.9L86.9,85.1" stroke="#111" stroke-width="1.5"/><path d="M88.8,82.4L88.1,86.6L85.1,84.5Z" fill="#111"/><path d="M130.0,17.2L128.7,18.2" stroke="#111" stroke-width="1.5"/><path d="M126.8,19.7L128.2,16.8L129.9,19.0Z" fill="#111"/><path d="M98.9,33.6L98.2,34.4" stroke="#111" stroke-width="1.5"/><path d="M97.7,34.9L98.1,33.6L99.0,34.4Z" fill="#111"/><path d="M118.6,49.5L128.3,49.5" stroke="#111" stroke-width="2.1"/><path d="M133.8,49.5L127.8,52.4L127.8,46.6Z" fill="#111"/><path d="M135.7,61.5L146.3,51.4" stroke="#111" stroke-width="2.1"/><path d="M150.3,47.6L147.9,53.8L144.0,49.6Z" fill="#111"/><path d="M103.4,76.7L104.0,75.5" stroke="#111" stroke-width="1.5"/><path d="M104.6,74.2L104.6,76.4L102.9,75.6Z" fill="#111"/><path d="M124.3,64.1L123.0,65.6" stroke="#111" stroke-width="1.5"/><path d="M121.1,67.9L122.1,64.1L124.6,66.3Z" fill="#111"/><path d="M135.1,87.5L128.5,87.9" stroke="#111" stroke-width="2.1"/><path d="M123.0,88.2L128.9,85.0L129.2,90.7Z" fill="#111"/><path d="M150.3,90.1L145.5,91.3" stroke="#111" stroke-width="2.1"/><path d="M140.1,92.6L145.3,88.3L146.7,93.9Z" fill="#111"/><path d="M121.1,95.1L116.8,100.9" stroke="#111" stroke-width="2.1"/><path d="M113.5,105.3L114.8,98.7L119.4,102.2Z" fill="#111"/><path d="M99.6,92.0L99.3,93.6" stroke="#111" stroke-width="1.5"/><path d="M98.9,95.8L98.1,92.9L100.7,93.3Z" fill="#111"/><path d="M141.4,55.2L148.0,49.3" stroke="#111" stroke-width="2.1"/><path d="M152.2,45.7L149.6,51.8L145.8,47.5Z" fill="#111"/><path d="M152.2,43.1L162.8,36.0" stroke="#111" stroke-width="2.1"/><path d="M167.4,33.0L164.0,38.7L160.8,33.9Z" fill="#111"/><path d="M168.6,45.0L180.1,28.6" stroke="#111" stroke-width="2.1"/><path d="M183.2,24.1L182.2,30.7L177.4,27.4Z" fill="#111"/><path d="M199.7,68.5L190.1,82.3" stroke="#111" stroke-width="2.1"/><path d="M187.0,86.8L188.1,80.3L192.8,83.5Z" fill="#111"/><path d="M185.1,88.1L179.4,96.3" stroke="#111" stroke-width="2.1"/><path d="M176.2,100.8L177.3,94.2L182.0,97.5Z" fill="#111"/><path d="M154.1,89.4L146.7,91.2" stroke="#111" stroke-width="2.1"/><path d="M141.4,92.5L146.5,88.3L147.9,93.9Z" fill="#111"/><path d="M239.0,48.2L231.3,50.3" stroke="#111" stroke-width="1.5"/><path d="M227.6,51.4L231.2,48.1L232.4,52.2Z" fill="#111"/><path d="M235.2,74.8L230.1,76.3" stroke="#111" stroke-width="1.5"/><path d="M226.3,77.3L230.0,74.1L231.1,78.2Z" fill="#111"/><path d="M230.1,33.6L227.7,33.9" stroke="#111" stroke-width="1.5"/><path d="M223.8,34.2L227.9,31.7L228.4,35.9Z" fill="#111"/><path d="M247.9,33.0L244.6,33.9" stroke="#111" stroke-width="1.5"/><path d="M240.9,34.9L244.6,31.7L245.7,35.8Z" fill="#111"/><path d="M260.5,40.6L258.9,40.9" stroke="#111" stroke-width="1.5"/><path d="M256.7,41.2L259.2,39.5L259.6,42.1Z" fill="#111"/><path d="M289.7,40.0L287.2,40.2" stroke="#111" stroke-width="1.5"/><path d="M283.3,40.6L287.5,38.0L287.9,42.2Z" fill="#111"/><path d="M273.2,81.8L268.2,82.1" stroke="#111" stroke-width="1.5"/><path d="M264.3,82.4L268.6,80.0L268.9,84.2Z" fill="#111"/><path d="M254.2,89.4L252.0,90.3" stroke="#111" stroke-width="1.5"/><path d="M248.5,91.9L251.6,88.2L253.3,92.1Z" fill="#111"/><path d="M293.5,71.6L289.7,72.3" stroke="#111" stroke-width="1.5"/><path d="M285.9,72.9L289.9,70.1L290.6,74.3Z" fill="#111"/><path d="M223.8,5.1L222.1,5.4" stroke="#111" stroke-width="1.5"/><path d="M220.0,5.7L222.4,4.0L222.8,6.6Z" fill="#111"/><path d="M189.6,100.8L191.7,102.6" stroke="#111" stroke-width="1.5"/><path d="M194.6,105.2L189.9,103.9L192.7,100.7Z" fill="#111"/><path d="M20.3,111.2L19.9,112.5" stroke="#111" stroke-width="1.5"/><path d="M19.6,113.8L19.2,111.8L20.9,112.2Z" fill="#111"/><path d="M62.0,113.8L58.9,116.9" stroke="#111" stroke-width="1.5"/><path d="M56.1,119.7L57.7,115.1L60.7,118.1Z" fill="#111"/><path d="M89.3,107.3L89.3,115.1" stroke="#111" stroke-width="1.5"/><path d="M89.3,119.0L87.2,114.6L91.4,114.6Z" fill="#111"/><path d="M106.3,109.3L106.7,118.1" stroke="#111" stroke-width="2.1"/><path d="M106.9,123.6L103.8,117.7L109.5,117.5Z" fill="#111"/><path d="M139.5,113.8L139.3,110.6" stroke="#111" stroke-width="1.5"/><path d="M139.1,106.7L141.5,110.9L137.2,111.2Z" fill="#111"/><path d="M63.3,130.8L59.0,135.7" stroke="#111" stroke-width="2.1"/><path d="M55.4,139.9L57.2,133.5L61.5,137.2Z" fill="#111"/><path d="M75.0,128.2L73.9,129.5" stroke="#111" stroke-width="1.5"/><path d="M72.4,131.4L73.1,128.3L75.3,130.0Z" fill="#111"/><path d="M118.0,128.2L124.2,125.7" stroke="#111" stroke-width="1.5"/><path d="M127.8,124.3L124.5,127.8L122.9,123.9Z" fill="#111"/><path d="M102.4,132.1L107.0,135.4" stroke="#111" stroke-width="2.1"/><path d="M111.5,138.6L104.9,137.4L108.3,132.8Z" fill="#111"/><path d="M116.7,145.1L123.4,148.1" stroke="#111" stroke-width="2.1"/><path d="M128.4,150.3L121.8,150.5L124.1,145.2Z" fill="#111"/><path d="M142.8,128.8L147.2,131.4" stroke="#111" stroke-width="1.5"/><path d="M150.6,133.4L145.7,133.0L147.8,129.3Z" fill="#111"/><path d="M75.0,172.5L75.0,177.7" stroke="#111" stroke-width="1.5"/><path d="M75.0,181.6L72.9,177.2L77.1,177.2Z" fill="#111"/><path d="M8.5,167.3L6.1,171.1" stroke="#111" stroke-width="1.5"/><path d="M4.0,174.4L4.5,169.6L8.1,171.9Z" fill="#111"/><path d="M13.7,193.3L20.0,196.2" stroke="#111" stroke-width="1.5"/><path d="M23.5,197.9L18.6,197.9L20.4,194.1Z" fill="#111"/><path d="M31.3,191.4L38.3,197.8" stroke="#111" stroke-width="1.5"/><path d="M41.1,200.5L36.4,199.0L39.3,195.9Z" fill="#111"/><path d="M91.9,197.2L87.1,199.1" stroke="#111" stroke-width="1.5"/><path d="M83.5,200.5L86.8,196.9L88.3,200.9Z" fill="#111"/><path d="M148.0,184.2L141.1,187.2" stroke="#111" stroke-width="1.5"/><path d="M137.5,188.8L140.7,185.1L142.4,188.9Z" fill="#111"/><path d="M143.4,128.8L148.2,132.6" stroke="#111" stroke-width="2.1"/><path d="M152.5,136.0L146.0,134.5L149.5,130.0Z" fill="#111"/><path d="M174.0,122.9L179.2,123.1" stroke="#111" stroke-width="1.5"/><path d="M183.1,123.2L178.6,125.2L178.8,121.0Z" fill="#111"/><path d="M197.4,126.9L198.4,122.8" stroke="#111" stroke-width="1.5"/><path d="M199.4,119.0L200.4,123.8L196.3,122.8Z" fill="#111"/><path d="M181.8,146.4L186.5,137.0" stroke="#111" stroke-width="2.1"/><path d="M189.0,132.1L188.9,138.7L183.7,136.2Z" fill="#111"/><path d="M222.9,110.6L225.0,113.4" stroke="#111" stroke-width="1.5"/><path d="M227.4,116.4L223.0,114.3L226.4,111.7Z" fill="#111"/><path d="M260.0,129.5L253.5,129.5" stroke="#111" stroke-width="1.5"/><path d="M249.6,129.5L254.0,127.4L254.0,131.6Z" fill="#111"/><path d="M266.5,145.1L265.2,148.6" stroke="#111" stroke-width="1.5"/><path d="M263.9,152.3L263.4,147.4L267.4,148.9Z" fill="#111"/><path d="M194.8,166.0L196.4,171.3" stroke="#111" stroke-width="1.5"/><path d="M197.4,175.1L194.2,171.4L198.3,170.3Z" fill="#111"/><path d="M208.5,179.0L208.5,183.6" stroke="#111" stroke-width="1.5"/><path d="M208.5,187.5L206.4,183.1L210.6,183.1Z" fill="#111"/><path d="M213.7,193.3L215.5,199.8" stroke="#111" stroke-width="2.1"/><path d="M217.0,205.1L212.6,200.0L218.2,198.5Z" fill="#111"/><path d="M151.8,183.6L145.0,186.5" stroke="#111" stroke-width="1.5"/><path d="M141.4,188.1L144.6,184.4L146.3,188.3Z" fill="#111"/><path d="M149.2,179.0L150.0,180.8" stroke="#111" stroke-width="1.5"/><path d="M151.2,183.6L148.3,181.0L151.3,179.7Z" fill="#111"/><path d="M166.2,182.9L164.7,184.6" stroke="#111" stroke-width="1.5"/><path d="M162.3,187.5L163.5,183.0L166.5,185.6Z" fill="#111"/><path d="M147.3,191.4L148.8,193.5" stroke="#111" stroke-width="1.5"/><path d="M151.2,196.6L146.8,194.3L150.2,191.8Z" fill="#111"/><path d="M193.5,104.7L194.1,106.4" stroke="#111" stroke-width="1.5"/><path d="M194.8,108.6L192.6,106.3L195.2,105.4Z" fill="#111"/>
<rect x="276" y="174" width="19.5" height="37.7" fill="#fff"/>
<text x="283.3" y="186.8" font-size="12.5" text-anchor="middle">1</text>
<path d="M274.3,196.7L286,196.7" stroke="#000" stroke-width="1.7"/><path d="M292,196.7L285.5,193.9L285.5,199.5Z" fill="#000"/>
</g>
<rect x="0" y="0" width="295.5" height="211.7" fill="none" stroke="#000" stroke-width="2.2"/>
<line x1="23.6" y1="211.7" x2="23.6" y2="218.2" stroke="#000" stroke-width="2"/>
<line x1="94.6" y1="211.7" x2="94.6" y2="218.2" stroke="#000" stroke-width="2"/>
<line x1="165.5" y1="211.7" x2="165.5" y2="218.2" stroke="#000" stroke-width="2"/>
<line x1="236.4" y1="211.7" x2="236.4" y2="218.2" stroke="#000" stroke-width="2"/>
<line x1="-6.5" y1="21.2" x2="0" y2="21.2" stroke="#000" stroke-width="2"/>
<text x="-10" y="27.2" font-size="17.3" text-anchor="end">60N</text>
<line x1="-6.5" y1="84.7" x2="0" y2="84.7" stroke="#000" stroke-width="2"/>
<text x="-10" y="90.7" font-size="17.3" text-anchor="end">30N</text>
<line x1="-6.5" y1="148.2" x2="0" y2="148.2" stroke="#000" stroke-width="2"/>
<text x="-10" y="154.2" font-size="17.3" text-anchor="end">EQ</text>
<line x1="-6.5" y1="211.7" x2="0" y2="211.7" stroke="#000" stroke-width="2"/>
<text x="-10" y="217.7" font-size="17.3" text-anchor="end">30S</text>
<text x="23.6" y="236.7" font-size="17.3" text-anchor="middle">60E</text>
<text x="94.6" y="236.7" font-size="17.3" text-anchor="middle">120E</text>
<text x="165.5" y="236.7" font-size="17.3" text-anchor="middle">180</text>
<text x="236.4" y="236.7" font-size="17.3" text-anchor="middle">150W</text>
<text transform="translate(-2.2,-7.5) scale(0.97,1)" font-size="22.5">(i) MAM</text>
<text transform="translate(297.7,-8.8) scale(0.965,1)" font-size="22.5" text-anchor="end">EqEN</text>
</g>
<g transform="translate(367.80,547.60)">
<g clip-path="url(#cp)">
<path d="M160.8,64.0 168.4,64.0 168.4,69.1 166.5,71.6 165.9,76.1 163.4,76.1 163.4,68.5 160.8,67.8Z" fill="#ff7850"/><path d="M153.9,97.6 163.4,97.6 163.4,101.4 153.9,101.4Z" fill="#88bef8"/><path d="M284.1,17.1 286.9,17.1 286.9,29.8 284.1,29.8Z" fill="#3c78f5"/><path d="M76.1,166.0 82.6,158.1 90.4,155.5 103.5,156.8 112.6,158.1 116.5,160.7 116.5,167.3 110.0,171.2 98.2,173.8 93.0,177.7 87.8,177.7 82.6,172.5 77.4,169.9Z" fill="#88bef8"/><path d="M146.4,137.3 150.3,133.4 159.4,132.1 164.7,125.6 172.5,122.9 173.8,130.8 190.7,132.1 202.5,134.7 209.0,136.6 232.4,136.6 233.7,142.5 248.1,142.5 249.4,137.3 258.5,133.4 262.4,132.1 265.0,141.2 271.5,142.5 274.1,152.9 274.1,160.7 263.7,160.7 263.7,156.8 232.4,156.8 225.9,153.6 173.8,152.9 171.2,147.7 162.1,147.7 155.5,156.8 150.3,156.8 146.4,150.3Z" fill="#ffc09a"/><path d="M179.0,142.5 188.1,141.2 201.2,142.5 202.5,147.7 190.7,149.0 180.3,149.0Z" fill="#ff7850"/><path d="M207.0,143.1 219.4,142.5 232.4,142.5 245.5,145.1 255.9,145.1 258.5,142.5 265.0,142.5 266.3,149.0 272.8,152.9 274.1,160.7 263.7,160.7 263.7,156.8 232.4,156.8 229.8,152.9 209.0,151.6Z" fill="#ff7850"/><path d="M265.0,147.7 271.5,151.6 274.1,155.5 274.1,159.4 266.3,158.1 265.0,152.9Z" fill="#ff1408"/><path d="M247.4,197.9 253.3,198.5 255.9,202.4 250.7,203.8 248.1,201.1Z" fill="#88bef8"/>
<use href="#lf"/><use href="#lc"/><use href="#ld"/><use href="#ll"/>
<path d="M14.4,7.0L14.1,8.1" stroke="#111" stroke-width="1.5"/><path d="M13.8,8.9L13.6,7.4L14.9,7.8Z" fill="#111"/><path d="M42.9,18.4L41.6,14.5" stroke="#111" stroke-width="1.5"/><path d="M40.4,10.8L43.8,14.3L39.8,15.7Z" fill="#111"/><path d="M4.3,33.0L7.5,33.9" stroke="#111" stroke-width="1.5"/><path d="M11.2,34.9L6.4,35.8L7.6,31.7Z" fill="#111"/><path d="M29.6,37.4L35.3,33.4" stroke="#111" stroke-width="1.5"/><path d="M38.5,31.1L36.2,35.4L33.7,31.9Z" fill="#111"/><path d="M92.4,24.1L93.7,24.1" stroke="#111" stroke-width="1.5"/><path d="M94.9,24.1L93.2,25.0L93.2,23.3Z" fill="#111"/><path d="M120.9,31.1L121.2,33.6" stroke="#111" stroke-width="1.5"/><path d="M121.6,37.4L119.0,33.3L123.2,32.8Z" fill="#111"/><path d="M98.1,48.2L98.1,49.7" stroke="#111" stroke-width="1.5"/><path d="M98.1,51.4L97.0,49.2L99.2,49.2Z" fill="#111"/><path d="M62.6,62.8L62.9,61.8" stroke="#111" stroke-width="1.5"/><path d="M63.2,60.9L63.4,62.4L62.1,62.0Z" fill="#111"/><path d="M84.1,61.5L81.0,62.1" stroke="#111" stroke-width="1.5"/><path d="M77.2,62.8L81.1,59.9L81.9,64.1Z" fill="#111"/><path d="M32.2,67.9L32.5,68.9" stroke="#111" stroke-width="1.5"/><path d="M32.8,69.8L31.7,68.7L33.0,68.2Z" fill="#111"/><path d="M43.6,85.6L43.6,87.3" stroke="#111" stroke-width="1.5"/><path d="M43.6,89.4L42.3,86.8L44.9,86.8Z" fill="#111"/><path d="M90.5,78.0L90.8,79.3" stroke="#111" stroke-width="1.5"/><path d="M91.1,80.5L89.8,79.0L91.5,78.6Z" fill="#111"/><path d="M113.3,55.2L120.5,52.2" stroke="#111" stroke-width="1.5"/><path d="M124.1,50.8L120.8,54.4L119.2,50.5Z" fill="#111"/><path d="M128.5,64.1L137.3,58.2" stroke="#111" stroke-width="2.1"/><path d="M141.8,55.2L138.4,60.9L135.2,56.1Z" fill="#111"/><path d="M118.4,78.6L122.3,70.9" stroke="#111" stroke-width="2.1"/><path d="M124.7,66.0L124.6,72.6L119.5,70.0Z" fill="#111"/><path d="M112.0,93.2L110.1,87.4" stroke="#111" stroke-width="1.5"/><path d="M108.9,83.7L112.3,87.2L108.3,88.6Z" fill="#111"/><path d="M134.9,95.1L127.5,90.5" stroke="#111" stroke-width="2.1"/><path d="M122.8,87.5L129.4,88.3L126.4,93.2Z" fill="#111"/><path d="M150.1,78.0L148.0,82.1" stroke="#111" stroke-width="1.5"/><path d="M146.3,85.6L146.4,80.7L150.1,82.6Z" fill="#111"/><path d="M143.7,99.6L140.8,103.9" stroke="#111" stroke-width="1.5"/><path d="M138.7,107.2L139.4,102.3L142.9,104.7Z" fill="#111"/><path d="M178.0,46.3L180.2,54.3" stroke="#111" stroke-width="2.1"/><path d="M181.8,59.6L177.3,54.6L182.9,53.0Z" fill="#111"/><path d="M213.4,43.8L207.1,34.9" stroke="#111" stroke-width="2.1"/><path d="M203.9,30.4L209.8,33.7L205.1,37.0Z" fill="#111"/><path d="M210.3,62.8L210.3,55.6" stroke="#111" stroke-width="2.1"/><path d="M210.3,50.1L213.1,56.1L207.4,56.1Z" fill="#111"/><path d="M214.1,80.5L215.6,75.6" stroke="#111" stroke-width="2.1"/><path d="M217.2,70.4L218.2,77.0L212.7,75.2Z" fill="#111"/><path d="M150.1,76.1L148.1,81.7" stroke="#111" stroke-width="2.1"/><path d="M146.3,86.8L145.6,80.2L151.0,82.1Z" fill="#111"/><path d="M189.4,100.8L191.5,102.6" stroke="#111" stroke-width="1.5"/><path d="M194.4,105.2L189.7,103.9L192.5,100.7Z" fill="#111"/><path d="M174.1,1.9L174.4,4.4" stroke="#111" stroke-width="1.5"/><path d="M174.8,8.3L172.2,4.1L176.4,3.7Z" fill="#111"/><path d="M242.6,42.5L240.8,43.3" stroke="#111" stroke-width="1.5"/><path d="M238.1,44.4L240.6,41.6L241.9,44.5Z" fill="#111"/><path d="M259.1,31.7L257.3,33.2" stroke="#111" stroke-width="1.5"/><path d="M254.6,35.5L256.4,31.4L259.0,34.3Z" fill="#111"/><path d="M256.5,51.4L256.5,52.8" stroke="#111" stroke-width="1.5"/><path d="M256.5,54.5L255.5,52.3L257.6,52.3Z" fill="#111"/><path d="M235.6,57.7L234.1,58.7" stroke="#111" stroke-width="1.5"/><path d="M231.8,60.2L233.6,57.2L235.3,59.7Z" fill="#111"/><path d="M277.4,94.4L277.4,96.9" stroke="#111" stroke-width="1.5"/><path d="M277.4,100.8L275.3,96.4L279.5,96.4Z" fill="#111"/><path d="M12.9,109.9L12.6,111.6" stroke="#111" stroke-width="1.5"/><path d="M12.2,113.8L11.4,110.9L14.0,111.3Z" fill="#111"/><path d="M33.7,119.0L27.6,124.3" stroke="#111" stroke-width="1.5"/><path d="M24.6,126.9L26.6,122.4L29.3,125.6Z" fill="#111"/><path d="M23.3,135.3L17.4,139.6" stroke="#111" stroke-width="1.5"/><path d="M14.2,141.8L16.5,137.6L19.0,141.0Z" fill="#111"/><path d="M9.6,149.0L9.6,155.5" stroke="#111" stroke-width="1.5"/><path d="M9.6,159.4L7.5,155.0L11.7,155.0Z" fill="#111"/><path d="M43.5,143.1L43.5,148.4" stroke="#111" stroke-width="1.5"/><path d="M43.5,152.3L41.4,147.9L45.6,147.9Z" fill="#111"/><path d="M44.8,126.2L47.1,126.2" stroke="#111" stroke-width="1.5"/><path d="M50.7,126.2L46.6,128.2L46.6,124.2Z" fill="#111"/><path d="M74.8,166.6L68.4,155.1" stroke="#111" stroke-width="2.1"/><path d="M65.7,150.3L71.1,154.1L66.1,157.0Z" fill="#111"/><path d="M81.3,175.1L78.4,181.3" stroke="#111" stroke-width="1.5"/><path d="M76.7,184.9L76.7,180.0L80.5,181.8Z" fill="#111"/><path d="M82.0,193.3L81.5,201.2" stroke="#111" stroke-width="1.5"/><path d="M81.3,205.1L79.4,200.5L83.7,200.8Z" fill="#111"/><path d="M90.4,113.2L96.2,106.9" stroke="#111" stroke-width="1.5"/><path d="M98.9,104.1L97.5,108.7L94.4,105.8Z" fill="#111"/><path d="M126.3,109.9L119.0,106.8" stroke="#111" stroke-width="2.1"/><path d="M113.9,104.7L120.5,104.4L118.3,109.7Z" fill="#111"/><path d="M141.3,103.4L140.3,105.4" stroke="#111" stroke-width="1.5"/><path d="M138.7,108.6L138.7,104.1L142.2,105.8Z" fill="#111"/><path d="M98.9,119.0L110.4,119.9" stroke="#111" stroke-width="2.1"/><path d="M115.8,120.3L109.6,122.8L110.1,117.0Z" fill="#111"/><path d="M119.8,123.6L128.0,122.8" stroke="#111" stroke-width="2.1"/><path d="M133.4,122.3L127.7,125.7L127.2,120.0Z" fill="#111"/><path d="M138.0,126.2L144.9,126.6" stroke="#111" stroke-width="2.1"/><path d="M150.4,126.9L144.2,129.4L144.5,123.7Z" fill="#111"/><path d="M104.1,139.9L117.9,134.2" stroke="#111" stroke-width="2.1"/><path d="M123.0,132.1L118.6,137.0L116.4,131.7Z" fill="#111"/><path d="M94.3,124.3L94.7,128.2" stroke="#111" stroke-width="1.5"/><path d="M95.0,132.1L92.5,127.9L96.7,127.5Z" fill="#111"/><path d="M101.5,147.7L101.5,145.1" stroke="#111" stroke-width="1.5"/><path d="M101.5,141.2L103.6,145.6L99.4,145.6Z" fill="#111"/><path d="M127.6,153.6L137.9,150.6" stroke="#111" stroke-width="2.1"/><path d="M143.2,149.0L138.3,153.5L136.6,147.9Z" fill="#111"/><path d="M134.7,160.7L141.3,168.2" stroke="#111" stroke-width="1.5"/><path d="M143.9,171.2L139.4,169.2L142.6,166.5Z" fill="#111"/><path d="M86.5,160.7L87.5,162.8" stroke="#111" stroke-width="1.5"/><path d="M89.1,166.0L85.5,163.2L89.1,161.4Z" fill="#111"/><path d="M108.7,160.7L108.9,163.4" stroke="#111" stroke-width="1.5"/><path d="M109.3,167.3L106.8,163.1L111.0,162.7Z" fill="#111"/><path d="M117.1,193.3L117.7,195.4" stroke="#111" stroke-width="1.5"/><path d="M118.4,198.5L115.8,195.3L119.3,194.5Z" fill="#111"/><path d="M18.7,193.3L20.0,192.7" stroke="#111" stroke-width="1.5"/><path d="M21.4,192.0L20.0,193.8L19.1,192.1Z" fill="#111"/><path d="M141.2,126.2L144.8,126.4" stroke="#111" stroke-width="2.1"/><path d="M150.3,126.6L144.2,129.2L144.5,123.5Z" fill="#111"/><path d="M171.8,145.8L178.9,141.5" stroke="#111" stroke-width="2.1"/><path d="M183.6,138.6L179.9,144.2L176.9,139.3Z" fill="#111"/><path d="M191.4,139.2L196.2,135.5" stroke="#111" stroke-width="2.1"/><path d="M200.5,132.1L197.6,138.0L194.0,133.5Z" fill="#111"/><path d="M209.6,137.9L214.2,138.6" stroke="#111" stroke-width="1.5"/><path d="M218.1,139.2L213.4,140.7L214.1,136.5Z" fill="#111"/><path d="M250.7,117.7L245.4,116.6" stroke="#111" stroke-width="1.5"/><path d="M241.6,115.8L246.3,114.6L245.4,118.8Z" fill="#111"/><path d="M266.3,123.6L255.2,131.5" stroke="#111" stroke-width="2.1"/><path d="M250.7,134.7L253.9,128.9L257.2,133.6Z" fill="#111"/><path d="M271.5,144.5L267.6,145.1" stroke="#111" stroke-width="1.5"/><path d="M263.7,145.8L267.7,142.9L268.4,147.1Z" fill="#111"/><path d="M194.6,174.4L199.6,177.1" stroke="#111" stroke-width="2.1"/><path d="M204.4,179.6L197.8,179.4L200.5,174.3Z" fill="#111"/><path d="M206.4,185.5L211.2,195.5" stroke="#111" stroke-width="2.1"/><path d="M213.5,200.5L208.3,196.3L213.5,193.8Z" fill="#111"/><path d="M219.4,199.8L222.5,207.2" stroke="#111" stroke-width="2.1"/><path d="M224.6,212.2L219.6,207.8L224.9,205.6Z" fill="#111"/><path d="M186.2,196.6L193.7,192.6" stroke="#111" stroke-width="2.1"/><path d="M198.5,190.1L194.6,195.4L191.9,190.3Z" fill="#111"/><path d="M237.0,204.4L243.0,198.0" stroke="#111" stroke-width="2.1"/><path d="M246.8,194.0L244.8,200.3L240.6,196.4Z" fill="#111"/><path d="M255.2,187.5L258.7,194.4" stroke="#111" stroke-width="1.5"/><path d="M260.4,197.9L256.6,194.9L260.4,193.0Z" fill="#111"/><path d="M184.9,211.6L185.2,206.3" stroke="#111" stroke-width="1.5"/><path d="M185.5,202.4L187.3,207.0L183.1,206.7Z" fill="#111"/><path d="M266.3,202.4L266.0,206.4" stroke="#111" stroke-width="1.5"/><path d="M265.7,210.3L263.9,205.7L268.1,206.1Z" fill="#111"/><path d="M164.7,182.9L163.6,184.7" stroke="#111" stroke-width="1.5"/><path d="M162.1,187.5L162.3,183.4L165.4,185.1Z" fill="#111"/><path d="M146.4,184.2L151.5,192.6" stroke="#111" stroke-width="1.5"/><path d="M153.6,195.9L149.5,193.3L153.1,191.1Z" fill="#111"/><path d="M149.0,179.0L149.8,180.8" stroke="#111" stroke-width="1.5"/><path d="M151.0,183.6L148.1,181.0L151.1,179.7Z" fill="#111"/><path d="M141.2,167.3L142.5,168.8" stroke="#111" stroke-width="1.5"/><path d="M144.5,171.2L140.9,169.5L143.5,167.3Z" fill="#111"/><path d="M193.3,104.7L193.9,106.4" stroke="#111" stroke-width="1.5"/><path d="M194.6,108.6L192.4,106.3L195.0,105.4Z" fill="#111"/>
<rect x="276" y="174" width="19.5" height="37.7" fill="#fff"/>
<text x="283.3" y="186.8" font-size="12.5" text-anchor="middle">1</text>
<path d="M274.3,196.7L286,196.7" stroke="#000" stroke-width="1.7"/><path d="M292,196.7L285.5,193.9L285.5,199.5Z" fill="#000"/>
</g>
<rect x="0" y="0" width="295.5" height="211.7" fill="none" stroke="#000" stroke-width="2.2"/>
<line x1="23.6" y1="211.7" x2="23.6" y2="218.2" stroke="#000" stroke-width="2"/>
<line x1="94.6" y1="211.7" x2="94.6" y2="218.2" stroke="#000" stroke-width="2"/>
<line x1="165.5" y1="211.7" x2="165.5" y2="218.2" stroke="#000" stroke-width="2"/>
<line x1="236.4" y1="211.7" x2="236.4" y2="218.2" stroke="#000" stroke-width="2"/>
<text x="23.6" y="236.7" font-size="17.3" text-anchor="middle">60E</text>
<text x="94.6" y="236.7" font-size="17.3" text-anchor="middle">120E</text>
<text x="165.5" y="236.7" font-size="17.3" text-anchor="middle">180</text>
<text x="236.4" y="236.7" font-size="17.3" text-anchor="middle">150W</text>
<text transform="translate(-2.2,-7.5) scale(0.97,1)" font-size="22.5">(j) MJJ</text>
<text transform="translate(297.7,-8.8) scale(0.965,1)" font-size="22.5" text-anchor="end">EqEN</text>
</g>
<g transform="translate(680.00,547.60)">
<g clip-path="url(#cp)">
<path d="M132.1,46.9 149.9,46.3 149.9,53.9 144.8,53.9 144.2,59.0 140.4,59.0 139.7,55.2 135.3,53.9 133.4,50.1Z" fill="#0a14ff"/><path d="M139.7,46.9 151.1,46.9 151.1,55.2 144.8,55.2 144.2,59.0 139.7,59.0Z" fill="#0a14ff"/><path d="M222.1,63.4 224.6,63.4 224.6,68.5 222.1,68.5Z" fill="#ff1408"/><path d="M248.7,98.2 253.8,98.2 253.8,107.1 248.7,107.1Z" fill="#ff7850"/><path d="M34.2,128.2 40.7,125.6 44.6,133.4 48.5,141.2 45.9,149.0 48.5,158.1 53.7,166.0 56.3,172.5 48.5,173.8 43.3,166.0 40.7,155.5 35.5,151.6 31.6,142.5 31.6,132.1Z" fill="#ffc09a"/><path d="M103.3,107.3 111.1,111.2 116.3,120.3 116.3,129.5 112.4,137.3 109.8,145.1 100.7,145.1 96.7,138.6 100.7,129.5 102.0,116.4Z" fill="#88bef8"/><path d="M70.7,159.4 83.7,155.5 92.8,154.2 107.2,155.5 116.3,156.8 120.2,163.4 128.0,173.8 128.0,180.3 122.8,180.3 116.3,171.2 109.8,173.8 103.3,175.1 99.4,181.6 95.4,188.1 90.2,188.1 87.6,181.6 81.1,179.0 75.9,172.5 72.0,167.3Z" fill="#88bef8"/><path d="M72.0,160.7 83.7,156.8 92.8,155.5 105.9,156.8 113.7,158.1 117.6,163.4 116.3,169.9 109.8,172.5 103.3,173.8 99.4,179.0 95.4,184.2 91.5,186.8 88.9,181.6 82.4,177.7 77.2,171.2 73.3,167.3Z" fill="#3c78f5"/><path d="M154.0,152.9 160.5,137.3 167.1,133.4 168.4,124.3 173.6,124.3 174.9,132.1 185.3,130.8 186.6,126.9 190.5,128.2 193.1,132.1 221.8,130.8 224.4,128.2 232.2,129.5 258.3,129.5 268.7,125.6 275.2,124.3 277.8,129.5 281.8,136.0 281.8,164.7 266.1,164.7 258.3,160.7 232.2,160.7 206.2,160.7 180.1,163.4 167.1,163.4 156.6,160.7Z" fill="#ffc09a"/><path d="M161.9,141.2 167.1,138.6 193.1,134.7 232.2,134.0 258.3,136.0 271.3,137.3 277.8,139.9 281.8,145.1 281.8,164.7 271.3,164.0 258.3,159.4 232.2,158.8 206.2,158.1 180.1,158.1 167.1,158.1 161.9,155.5Z" fill="#ff7850"/><path d="M172.3,146.4 177.5,139.9 193.1,139.2 232.2,139.9 258.3,141.2 275.2,141.8 279.1,146.4 279.1,160.7 271.3,160.7 258.3,156.8 232.2,154.9 206.2,154.2 180.1,154.2 172.3,152.9Z" fill="#ff1408"/><path d="M251.8,102.7 258.3,102.7 258.3,113.8 251.8,111.2Z" fill="#ffc09a"/><path d="M177.5,186.8 180.1,186.8 180.1,190.7 177.5,190.7Z" fill="#88bef8"/><path d="M193.1,193.3 198.3,192.0 199.6,199.8 197.0,207.7 190.5,210.3 182.7,210.3 187.9,205.1 193.1,201.1Z" fill="#88bef8"/>
<use href="#lf"/><use href="#lc"/><use href="#ld"/><use href="#ll"/>
<path d="M13.6,31.7L16.0,33.4" stroke="#111" stroke-width="1.5"/><path d="M19.3,35.5L14.5,34.9L16.8,31.3Z" fill="#111"/><path d="M30.1,39.3L34.8,37.2" stroke="#111" stroke-width="1.5"/><path d="M38.3,35.5L35.2,39.3L33.4,35.5Z" fill="#111"/><path d="M66.2,30.5L67.8,30.5" stroke="#111" stroke-width="1.5"/><path d="M70.0,30.5L67.3,31.7L67.3,29.2Z" fill="#111"/><path d="M110.6,38.7L112.1,40.0" stroke="#111" stroke-width="1.5"/><path d="M114.4,41.9L110.7,40.9L112.8,38.4Z" fill="#111"/><path d="M51.0,57.7L50.4,59.1" stroke="#111" stroke-width="1.5"/><path d="M49.7,60.9L49.5,58.2L51.7,59.1Z" fill="#111"/><path d="M64.9,69.8L63.5,71.7" stroke="#111" stroke-width="1.5"/><path d="M61.1,74.8L62.1,70.1L65.5,72.6Z" fill="#111"/><path d="M40.2,83.7L41.3,84.8" stroke="#111" stroke-width="1.5"/><path d="M42.7,86.3L40.1,85.3L41.8,83.6Z" fill="#111"/><path d="M80.1,86.9L79.1,88.2" stroke="#111" stroke-width="1.5"/><path d="M77.6,90.1L78.3,87.0L80.5,88.7Z" fill="#111"/><path d="M45.9,98.9L48.2,100.2" stroke="#111" stroke-width="1.5"/><path d="M51.6,102.1L46.7,101.8L48.8,98.1Z" fill="#111"/><path d="M28.2,97.0L30.2,97.0" stroke="#111" stroke-width="1.5"/><path d="M33.2,97.0L29.7,98.7L29.7,95.3Z" fill="#111"/><path d="M4.1,90.1L2.8,90.4" stroke="#111" stroke-width="1.5"/><path d="M1.5,90.7L3.1,89.4L3.5,91.1Z" fill="#111"/><path d="M3.4,43.8L2.2,44.4" stroke="#111" stroke-width="1.5"/><path d="M0.9,45.0L2.3,43.3L3.1,45.0Z" fill="#111"/><path d="M134.7,32.4L132.4,37.7" stroke="#111" stroke-width="1.5"/><path d="M130.9,41.2L130.7,36.4L134.5,38.0Z" fill="#111"/><path d="M127.1,64.1L135.2,69.8" stroke="#111" stroke-width="2.1"/><path d="M139.7,72.9L133.2,71.9L136.5,67.1Z" fill="#111"/><path d="M138.5,77.4L141.3,86.7" stroke="#111" stroke-width="2.1"/><path d="M142.9,92.0L138.4,87.1L143.9,85.4Z" fill="#111"/><path d="M110.6,76.7L117.4,74.6" stroke="#111" stroke-width="2.1"/><path d="M122.6,72.9L117.8,77.5L116.0,72.0Z" fill="#111"/><path d="M116.9,95.8L112.8,97.8" stroke="#111" stroke-width="1.5"/><path d="M109.3,99.6L112.3,95.7L114.2,99.5Z" fill="#111"/><path d="M135.3,93.2L130.6,100.6" stroke="#111" stroke-width="2.1"/><path d="M127.7,105.3L128.5,98.7L133.3,101.7Z" fill="#111"/><path d="M105.5,88.2L105.0,90.2" stroke="#111" stroke-width="1.5"/><path d="M104.2,93.2L103.4,89.2L106.8,90.1Z" fill="#111"/><path d="M163.8,43.8L158.2,36.1" stroke="#111" stroke-width="2.1"/><path d="M154.9,31.7L160.8,34.8L156.2,38.3Z" fill="#111"/><path d="M165.7,83.7L165.7,88.6" stroke="#111" stroke-width="1.5"/><path d="M165.7,92.5L163.6,88.1L167.8,88.1Z" fill="#111"/><path d="M142.3,85.6L142.5,87.6" stroke="#111" stroke-width="1.5"/><path d="M142.9,90.6L140.8,87.3L144.2,86.9Z" fill="#111"/><path d="M161.3,15.9L161.9,17.1" stroke="#111" stroke-width="1.5"/><path d="M162.5,18.4L160.8,17.1L162.5,16.2Z" fill="#111"/><path d="M223.4,5.1L225.0,5.1" stroke="#111" stroke-width="1.5"/><path d="M227.2,5.1L224.5,6.4L224.5,3.8Z" fill="#111"/><path d="M262.7,7.0L263.6,7.7" stroke="#111" stroke-width="1.5"/><path d="M264.6,8.3L262.8,8.0L263.7,6.7Z" fill="#111"/><path d="M187.9,103.3L190.6,104.4" stroke="#111" stroke-width="1.5"/><path d="M194.2,105.9L189.4,106.2L190.9,102.3Z" fill="#111"/><path d="M39.4,115.8L32.1,121.3" stroke="#111" stroke-width="1.5"/><path d="M29.0,123.6L31.2,119.3L33.8,122.7Z" fill="#111"/><path d="M33.5,131.4L23.3,137.2" stroke="#111" stroke-width="2.1"/><path d="M18.5,139.9L22.4,134.4L25.2,139.4Z" fill="#111"/><path d="M19.9,145.1L18.4,152.1" stroke="#111" stroke-width="2.1"/><path d="M17.2,157.5L15.7,151.0L21.3,152.2Z" fill="#111"/><path d="M55.0,130.1L50.3,126.6" stroke="#111" stroke-width="1.5"/><path d="M47.2,124.3L52.0,125.2L49.5,128.6Z" fill="#111"/><path d="M70.7,130.8L63.8,133.8" stroke="#111" stroke-width="1.5"/><path d="M60.3,135.3L63.4,131.6L65.1,135.5Z" fill="#111"/><path d="M48.5,145.1L44.7,152.0" stroke="#111" stroke-width="2.1"/><path d="M42.0,156.8L42.4,150.2L47.4,153.0Z" fill="#111"/><path d="M74.6,169.9L68.1,157.8" stroke="#111" stroke-width="2.1"/><path d="M65.5,152.9L70.8,156.8L65.8,159.6Z" fill="#111"/><path d="M86.3,154.2L76.8,142.8" stroke="#111" stroke-width="2.1"/><path d="M73.3,138.6L79.3,141.4L74.9,145.0Z" fill="#111"/><path d="M100.7,150.3L116.0,137.5" stroke="#111" stroke-width="2.1"/><path d="M120.2,134.0L117.4,140.1L113.8,135.7Z" fill="#111"/><path d="M102.0,122.3L114.1,122.7" stroke="#111" stroke-width="2.1"/><path d="M119.6,122.9L113.5,125.6L113.7,119.8Z" fill="#111"/><path d="M113.7,132.7L140.1,124.1" stroke="#111" stroke-width="3.2"/><path d="M147.6,121.6L140.8,128.1L138.3,120.4Z" fill="#111"/><path d="M122.8,141.2L142.3,142.1" stroke="#111" stroke-width="3.2"/><path d="M150.2,142.5L141.6,146.1L142.0,138.1Z" fill="#111"/><path d="M141.1,145.1L144.7,145.6" stroke="#111" stroke-width="2.1"/><path d="M150.2,146.4L143.8,148.4L144.6,142.7Z" fill="#111"/><path d="M126.7,158.1L126.7,153.2" stroke="#111" stroke-width="2.1"/><path d="M126.7,147.7L129.6,153.7L123.8,153.7Z" fill="#111"/><path d="M134.5,160.7L146.3,161.2" stroke="#111" stroke-width="1.5"/><path d="M150.2,161.4L145.7,163.3L145.9,159.1Z" fill="#111"/><path d="M137.1,164.7L141.2,169.5" stroke="#111" stroke-width="1.5"/><path d="M143.7,172.5L139.2,170.4L142.5,167.7Z" fill="#111"/><path d="M139.8,181.6L139.5,179.0" stroke="#111" stroke-width="1.5"/><path d="M139.1,175.1L141.6,179.2L137.4,179.7Z" fill="#111"/><path d="M149.0,198.5L142.2,195.5" stroke="#111" stroke-width="2.1"/><path d="M137.1,193.3L143.8,193.1L141.5,198.4Z" fill="#111"/><path d="M112.4,193.3L112.1,190.7" stroke="#111" stroke-width="1.5"/><path d="M111.7,186.8L114.3,191.0L110.1,191.4Z" fill="#111"/><path d="M99.4,199.8L95.9,202.6" stroke="#111" stroke-width="1.5"/><path d="M92.8,205.1L95.0,200.7L97.6,204.0Z" fill="#111"/><path d="M77.2,181.6L77.2,188.1" stroke="#111" stroke-width="1.5"/><path d="M77.2,192.0L75.1,187.6L79.3,187.6Z" fill="#111"/><path d="M14.6,116.4L16.3,116.4" stroke="#111" stroke-width="1.5"/><path d="M18.5,116.4L15.8,117.7L15.8,115.1Z" fill="#111"/><path d="M18.5,193.3L19.8,192.7" stroke="#111" stroke-width="1.5"/><path d="M21.2,192.0L19.8,193.8L18.9,192.1Z" fill="#111"/><path d="M98.0,106.0L98.3,108.6" stroke="#111" stroke-width="1.5"/><path d="M98.7,112.5L96.2,108.4L100.4,107.9Z" fill="#111"/><path d="M141.0,122.9L144.3,122.3" stroke="#111" stroke-width="1.5"/><path d="M148.2,121.6L144.2,124.5L143.5,120.4Z" fill="#111"/><path d="M152.7,131.4L159.3,128.9" stroke="#111" stroke-width="2.1"/><path d="M164.5,126.9L159.9,131.7L157.8,126.3Z" fill="#111"/><path d="M168.4,133.4L174.9,135.7" stroke="#111" stroke-width="2.1"/><path d="M180.1,137.5L173.5,138.2L175.4,132.8Z" fill="#111"/><path d="M141.0,141.8L146.1,142.1" stroke="#111" stroke-width="3.2"/><path d="M154.0,142.5L145.4,146.1L145.8,138.1Z" fill="#111"/><path d="M141.0,145.8L160.0,149.9" stroke="#111" stroke-width="3.2"/><path d="M167.7,151.6L158.6,153.8L160.4,145.9Z" fill="#111"/><path d="M161.9,155.5L173.3,154.2" stroke="#111" stroke-width="2.1"/><path d="M178.8,153.6L173.2,157.1L172.5,151.4Z" fill="#111"/><path d="M182.7,143.8L191.6,145.4" stroke="#111" stroke-width="2.1"/><path d="M197.0,146.4L190.6,148.2L191.7,142.5Z" fill="#111"/><path d="M204.9,126.2L204.9,132.4" stroke="#111" stroke-width="2.1"/><path d="M204.9,137.9L202.0,131.9L207.7,131.9Z" fill="#111"/><path d="M234.2,118.4L226.9,123.6" stroke="#111" stroke-width="2.1"/><path d="M222.5,126.9L225.6,121.0L229.0,125.7Z" fill="#111"/><path d="M250.5,122.3L245.8,125.6" stroke="#111" stroke-width="2.1"/><path d="M241.4,128.8L244.6,123.0L247.9,127.7Z" fill="#111"/><path d="M267.4,127.5L261.0,133.5" stroke="#111" stroke-width="2.1"/><path d="M257.0,137.3L259.4,131.1L263.3,135.3Z" fill="#111"/><path d="M277.8,144.5L273.2,145.5" stroke="#111" stroke-width="1.5"/><path d="M269.4,146.4L273.2,143.4L274.1,147.5Z" fill="#111"/><path d="M184.0,167.9L187.9,163.6" stroke="#111" stroke-width="1.5"/><path d="M190.5,160.7L189.1,165.4L186.0,162.6Z" fill="#111"/><path d="M199.0,160.7L202.5,158.0" stroke="#111" stroke-width="1.5"/><path d="M205.5,155.5L203.4,159.9L200.8,156.6Z" fill="#111"/><path d="M141.0,160.7L143.6,160.7" stroke="#111" stroke-width="1.5"/><path d="M147.5,160.7L143.1,162.9L143.1,158.6Z" fill="#111"/><path d="M174.9,184.2L175.2,180.3" stroke="#111" stroke-width="1.5"/><path d="M175.5,176.4L177.3,180.9L173.1,180.6Z" fill="#111"/><path d="M193.1,177.0L200.0,177.3" stroke="#111" stroke-width="2.1"/><path d="M205.5,177.4L199.4,180.1L199.6,174.4Z" fill="#111"/><path d="M148.8,180.3L160.6,182.8" stroke="#111" stroke-width="1.5"/><path d="M164.5,183.6L159.7,184.7L160.6,180.6Z" fill="#111"/><path d="M189.2,198.5L189.6,191.4" stroke="#111" stroke-width="1.5"/><path d="M189.9,187.5L191.7,192.0L187.5,191.7Z" fill="#111"/><path d="M155.3,204.4L146.2,198.3" stroke="#111" stroke-width="2.1"/><path d="M141.7,195.3L148.2,196.2L145.0,201.0Z" fill="#111"/><path d="M170.3,204.4L162.7,197.6" stroke="#111" stroke-width="2.1"/><path d="M158.6,194.0L165.0,195.8L161.2,200.1Z" fill="#111"/><path d="M178.8,210.3L178.8,207.0" stroke="#111" stroke-width="1.5"/><path d="M178.8,203.1L180.9,207.5L176.7,207.5Z" fill="#111"/><path d="M201.6,210.3L203.8,202.9" stroke="#111" stroke-width="1.5"/><path d="M204.9,199.2L205.6,204.0L201.6,202.8Z" fill="#111"/><path d="M244.0,199.8L252.2,195.3" stroke="#111" stroke-width="2.1"/><path d="M257.0,192.7L253.1,198.1L250.3,193.0Z" fill="#111"/><path d="M260.9,195.9L267.9,199.9" stroke="#111" stroke-width="1.5"/><path d="M271.3,201.8L266.5,201.5L268.5,197.8Z" fill="#111"/><path d="M146.2,190.7L147.8,192.8" stroke="#111" stroke-width="1.5"/><path d="M150.1,195.9L145.8,193.7L149.2,191.1Z" fill="#111"/><path d="M186.6,109.9L187.1,107.9" stroke="#111" stroke-width="1.5"/><path d="M187.9,104.7L188.8,108.8L185.3,107.9Z" fill="#111"/>
<rect x="276" y="174" width="19.5" height="37.7" fill="#fff"/>
<text x="283.3" y="186.8" font-size="12.5" text-anchor="middle">1</text>
<path d="M274.3,196.7L286,196.7" stroke="#000" stroke-width="1.7"/><path d="M292,196.7L285.5,193.9L285.5,199.5Z" fill="#000"/>
</g>
<rect x="0" y="0" width="295.5" height="211.7" fill="none" stroke="#000" stroke-width="2.2"/>
<line x1="23.6" y1="211.7" x2="23.6" y2="218.2" stroke="#000" stroke-width="2"/>
<line x1="94.6" y1="211.7" x2="94.6" y2="218.2" stroke="#000" stroke-width="2"/>
<line x1="165.5" y1="211.7" x2="165.5" y2="218.2" stroke="#000" stroke-width="2"/>
<line x1="236.4" y1="211.7" x2="236.4" y2="218.2" stroke="#000" stroke-width="2"/>
<text x="23.6" y="236.7" font-size="17.3" text-anchor="middle">60E</text>
<text x="94.6" y="236.7" font-size="17.3" text-anchor="middle">120E</text>
<text x="165.5" y="236.7" font-size="17.3" text-anchor="middle">180</text>
<text x="236.4" y="236.7" font-size="17.3" text-anchor="middle">150W</text>
<text transform="translate(-2.2,-7.5) scale(0.97,1)" font-size="22.5">(k) JAS</text>
<text transform="translate(297.7,-8.8) scale(0.965,1)" font-size="22.5" text-anchor="end">EqEN</text>
</g>
<g transform="translate(992.20,547.60)">
<g clip-path="url(#cp)">
<path d="M191.5,29.8 195.3,29.2 195.9,37.4 192.8,38.1Z" fill="#ffc09a"/><path d="M223.2,51.4 225.5,51.4 227.0,59.0 224.7,59.0Z" fill="#ffc09a"/><path d="M11.8,122.9 22.3,113.8 32.7,117.7 41.8,129.5 49.6,141.2 48.3,158.1 52.2,168.6 53.5,184.2 53.5,190.7 50.9,189.4 48.3,181.6 39.2,180.3 28.8,177.7 19.7,171.2 17.0,163.4 19.7,155.5 13.1,146.4 11.8,136.0Z" fill="#ffc09a"/><path d="M50.9,119.0 66.6,119.0 66.6,138.6 50.9,138.6Z" fill="#fff0e0"/><path d="M64.0,154.2 69.2,152.9 71.8,155.5 82.2,158.1 92.6,155.5 103.1,145.1 109.6,147.7 113.5,155.5 122.6,159.4 130.4,160.7 136.9,164.7 142.2,169.9 150.0,176.4 150.0,188.1 143.5,184.2 138.3,177.7 129.1,172.5 122.6,172.5 113.5,173.8 103.1,176.4 96.5,179.0 90.0,180.3 82.2,176.4 74.4,172.5 67.9,167.3 65.3,160.7Z" fill="#88bef8"/><path d="M67.9,160.7 74.4,162.0 77.0,166.0 73.1,167.3 69.2,166.0Z" fill="#3c78f5"/><path d="M152.5,155.5 156.4,142.5 164.3,133.4 186.4,130.8 206.0,129.5 245.1,126.9 258.1,122.9 263.3,119.0 271.1,120.3 276.3,129.5 282.9,136.0 284.2,155.5 284.2,173.8 271.1,173.8 258.1,171.2 255.5,166.0 232.0,166.0 221.6,168.6 219.0,176.4 216.4,179.0 203.4,177.7 192.9,173.8 179.9,168.6 166.9,163.4 156.4,160.7Z" fill="#ffc09a"/><path d="M155.1,152.9 161.7,141.2 173.4,134.7 192.9,133.4 219.0,131.4 245.1,129.5 264.6,129.5 277.6,133.4 283.5,142.5 283.5,173.8 271.1,173.8 258.1,168.6 245.1,164.7 225.5,164.7 212.5,167.3 199.4,168.6 186.4,166.0 173.4,162.0 160.3,158.1Z" fill="#ff7850"/><path d="M165.6,149.0 172.1,139.9 192.9,136.0 219.0,134.0 245.1,132.7 264.6,133.4 276.3,137.3 281.6,146.4 282.2,171.2 271.1,171.2 258.1,166.0 245.1,162.0 225.5,162.0 206.0,163.4 186.4,162.0 173.4,158.1 166.9,155.5Z" fill="#ff1408"/><path d="M173.4,145.1 179.9,138.6 206.0,136.6 245.1,135.3 264.6,136.6 275.0,139.9 280.3,149.0 280.9,168.6 271.1,168.6 258.1,163.4 245.1,159.4 225.5,159.4 206.0,160.7 186.4,159.4 176.0,155.5Z" fill="#e0001a"/><path d="M177.3,145.1 186.4,139.9 206.0,138.6 245.1,137.9 264.6,139.2 273.7,142.5 278.9,151.6 279.6,166.0 271.1,166.0 258.1,160.7 245.1,156.8 225.5,156.8 206.0,158.1 186.4,156.8 178.6,152.9Z" fill="#a00028"/><path d="M151.2,177.7 157.7,179.0 166.9,181.6 179.9,185.5 192.9,192.0 202.1,199.8 203.4,210.3 183.8,210.3 173.4,205.1 163.0,202.4 155.1,197.2 151.2,188.1Z" fill="#88bef8"/><path d="M234.6,207.7 252.9,207.7 252.9,210.3 234.6,210.3Z" fill="#88bef8"/>
<use href="#lf"/><use href="#lc"/><use href="#ld"/><use href="#ll"/>
<path d="M11.5,29.2L13.2,33.8" stroke="#111" stroke-width="1.5"/><path d="M14.6,37.4L11.1,34.1L15.0,32.6Z" fill="#111"/><path d="M42.5,41.2L43.2,37.5" stroke="#111" stroke-width="1.5"/><path d="M43.8,33.6L45.2,38.3L41.0,37.6Z" fill="#111"/><path d="M49.5,59.0L51.5,59.2" stroke="#111" stroke-width="1.5"/><path d="M54.6,59.6L50.8,60.9L51.3,57.5Z" fill="#111"/><path d="M32.4,76.7L32.6,78.0" stroke="#111" stroke-width="1.5"/><path d="M32.8,79.3L31.7,77.6L33.4,77.4Z" fill="#111"/><path d="M96.4,30.5L96.8,31.3" stroke="#111" stroke-width="1.5"/><path d="M97.1,31.7L96.2,31.1L97.0,30.6Z" fill="#111"/><path d="M112.3,45.0L112.6,46.5" stroke="#111" stroke-width="1.5"/><path d="M112.9,48.2L111.4,46.2L113.5,45.8Z" fill="#111"/><path d="M89.5,86.9L89.5,88.1" stroke="#111" stroke-width="1.5"/><path d="M89.5,89.4L88.6,87.6L90.3,87.6Z" fill="#111"/><path d="M123.1,88.2L123.7,91.9" stroke="#111" stroke-width="1.5"/><path d="M124.3,95.8L121.5,91.8L125.7,91.1Z" fill="#111"/><path d="M12.1,100.8L12.4,102.1" stroke="#111" stroke-width="1.5"/><path d="M12.7,103.4L11.5,101.8L13.2,101.4Z" fill="#111"/><path d="M145.9,14.6L146.7,15.8" stroke="#111" stroke-width="1.5"/><path d="M147.8,17.2L145.6,16.0L147.3,14.7Z" fill="#111"/><path d="M175.0,10.8L172.8,15.9" stroke="#111" stroke-width="2.1"/><path d="M170.6,20.9L170.3,14.3L175.6,16.6Z" fill="#111"/><path d="M157.9,20.3L158.3,29.4" stroke="#111" stroke-width="2.1"/><path d="M158.5,34.9L155.4,29.0L161.2,28.8Z" fill="#111"/><path d="M145.9,12.1L146.9,14.0" stroke="#111" stroke-width="1.5"/><path d="M148.4,17.1L144.9,14.4L148.3,12.7Z" fill="#111"/><path d="M169.9,43.8L180.5,47.1" stroke="#111" stroke-width="2.1"/><path d="M185.8,48.8L179.2,49.7L181.0,44.3Z" fill="#111"/><path d="M206.7,24.7L201.0,20.7" stroke="#111" stroke-width="1.5"/><path d="M197.8,18.4L202.6,19.2L200.2,22.7Z" fill="#111"/><path d="M233.3,43.8L216.2,26.2" stroke="#111" stroke-width="2.1"/><path d="M212.4,22.2L218.6,24.5L214.5,28.5Z" fill="#111"/><path d="M249.8,55.2L246.0,56.1" stroke="#111" stroke-width="1.5"/><path d="M242.2,57.1L245.9,53.9L247.0,58.0Z" fill="#111"/><path d="M270.1,52.6L267.6,52.9" stroke="#111" stroke-width="1.5"/><path d="M263.7,53.3L267.9,50.7L268.3,54.9Z" fill="#111"/><path d="M287.8,45.7L285.2,46.4" stroke="#111" stroke-width="1.5"/><path d="M281.5,47.6L285.1,44.3L286.3,48.3Z" fill="#111"/><path d="M277.7,67.8L274.4,69.0" stroke="#111" stroke-width="1.5"/><path d="M270.7,70.4L274.1,66.9L275.6,70.8Z" fill="#111"/><path d="M259.3,75.4L256.5,77.9" stroke="#111" stroke-width="1.5"/><path d="M253.6,80.5L255.5,76.0L258.3,79.2Z" fill="#111"/><path d="M284.0,85.6L284.3,86.8" stroke="#111" stroke-width="1.5"/><path d="M284.6,88.1L283.3,86.5L285.0,86.1Z" fill="#111"/><path d="M189.0,102.0L190.9,103.3" stroke="#111" stroke-width="1.5"/><path d="M194.0,105.2L189.4,104.7L191.5,101.3Z" fill="#111"/><path d="M31.4,113.2L25.0,116.9" stroke="#111" stroke-width="2.1"/><path d="M20.3,119.7L24.0,114.2L26.9,119.1Z" fill="#111"/><path d="M33.3,137.9L32.1,130.7" stroke="#111" stroke-width="1.5"/><path d="M31.4,126.9L34.2,130.8L30.1,131.6Z" fill="#111"/><path d="M13.1,143.1L14.3,149.1" stroke="#111" stroke-width="1.5"/><path d="M15.1,152.9L12.2,149.0L16.3,148.2Z" fill="#111"/><path d="M43.1,145.1L39.2,149.4" stroke="#111" stroke-width="1.5"/><path d="M36.6,152.3L38.0,147.6L41.1,150.4Z" fill="#111"/><path d="M22.3,155.5L26.1,162.5" stroke="#111" stroke-width="2.1"/><path d="M28.8,167.3L23.3,163.4L28.4,160.6Z" fill="#111"/><path d="M67.9,160.1L45.8,161.5" stroke="#111" stroke-width="3.2"/><path d="M37.9,162.0L46.0,157.5L46.5,165.5Z" fill="#111"/><path d="M61.4,138.6L53.8,137.7" stroke="#111" stroke-width="2.1"/><path d="M48.3,137.0L54.6,134.9L53.9,140.6Z" fill="#111"/><path d="M77.0,164.7L67.1,146.8" stroke="#111" stroke-width="3.2"/><path d="M63.3,139.9L70.9,145.3L63.8,149.2Z" fill="#111"/><path d="M93.9,164.7L83.7,155.3" stroke="#111" stroke-width="2.1"/><path d="M79.6,151.6L86.0,153.5L82.1,157.8Z" fill="#111"/><path d="M37.9,168.6L37.3,173.5" stroke="#111" stroke-width="2.1"/><path d="M36.6,179.0L34.5,172.7L40.2,173.4Z" fill="#111"/><path d="M53.5,176.4L53.9,180.3" stroke="#111" stroke-width="1.5"/><path d="M54.2,184.2L51.7,180.0L55.9,179.6Z" fill="#111"/><path d="M37.9,186.8L38.3,193.3" stroke="#111" stroke-width="1.5"/><path d="M38.5,197.2L36.2,193.0L40.4,192.7Z" fill="#111"/><path d="M69.8,184.2L69.8,189.4" stroke="#111" stroke-width="1.5"/><path d="M69.8,193.3L67.7,188.9L71.9,188.9Z" fill="#111"/><path d="M95.9,175.1L95.9,181.6" stroke="#111" stroke-width="1.5"/><path d="M95.9,185.5L93.8,181.1L98.0,181.1Z" fill="#111"/><path d="M49.0,120.3L50.5,123.4" stroke="#111" stroke-width="1.5"/><path d="M52.2,126.9L48.4,123.9L52.2,122.0Z" fill="#111"/><path d="M101.8,134.7L104.8,129.6" stroke="#111" stroke-width="2.1"/><path d="M107.6,124.9L107.0,131.5L102.1,128.6Z" fill="#111"/><path d="M116.1,117.7L116.4,113.2" stroke="#111" stroke-width="1.5"/><path d="M116.7,109.3L118.5,113.8L114.3,113.5Z" fill="#111"/><path d="M125.9,122.9L132.1,123.3" stroke="#111" stroke-width="2.1"/><path d="M137.6,123.6L131.4,126.1L131.8,120.4Z" fill="#111"/><path d="M140.9,132.7L146.1,132.3" stroke="#111" stroke-width="1.5"/><path d="M150.0,132.1L145.7,134.5L145.4,130.3Z" fill="#111"/><path d="M120.0,145.1L126.0,140.9" stroke="#111" stroke-width="1.5"/><path d="M129.1,138.6L126.8,142.9L124.3,139.4Z" fill="#111"/><path d="M127.8,145.1L142.2,147.6" stroke="#111" stroke-width="3.2"/><path d="M150.0,149.0L141.0,151.5L142.4,143.6Z" fill="#111"/><path d="M101.8,145.1L103.3,147.2" stroke="#111" stroke-width="1.5"/><path d="M105.7,150.3L101.3,148.1L104.7,145.5Z" fill="#111"/><path d="M112.2,160.7L113.0,162.4" stroke="#111" stroke-width="1.5"/><path d="M114.1,164.7L111.5,162.6L114.1,161.3Z" fill="#111"/><path d="M143.5,171.2L144.0,173.2" stroke="#111" stroke-width="1.5"/><path d="M144.8,176.4L142.1,173.2L145.6,172.3Z" fill="#111"/><path d="M19.7,192.0L18.4,192.6" stroke="#111" stroke-width="1.5"/><path d="M17.0,193.3L18.4,191.5L19.3,193.3Z" fill="#111"/><path d="M10.5,194.6L11.2,198.6" stroke="#111" stroke-width="1.5"/><path d="M11.8,202.4L9.0,198.5L13.2,197.8Z" fill="#111"/><path d="M107.0,195.9L103.0,195.6" stroke="#111" stroke-width="1.5"/><path d="M99.2,195.3L103.7,193.5L103.4,197.8Z" fill="#111"/><path d="M148.8,202.4L144.2,201.2" stroke="#111" stroke-width="2.1"/><path d="M138.9,199.8L145.4,198.6L144.0,204.2Z" fill="#111"/><path d="M112.2,206.4L113.7,207.7" stroke="#111" stroke-width="1.5"/><path d="M116.1,209.6L112.3,208.6L114.5,206.0Z" fill="#111"/><path d="M140.8,132.7L149.6,132.3" stroke="#111" stroke-width="2.1"/><path d="M155.1,132.1L149.3,135.2L149.0,129.5Z" fill="#111"/><path d="M160.3,130.1L166.2,136.0" stroke="#111" stroke-width="2.1"/><path d="M170.1,139.9L163.8,137.7L167.9,133.6Z" fill="#111"/><path d="M140.8,148.4L164.3,151.8" stroke="#111" stroke-width="3.2"/><path d="M172.1,152.9L163.2,155.7L164.3,147.7Z" fill="#111"/><path d="M166.2,158.8L179.7,153.3" stroke="#111" stroke-width="3.2"/><path d="M187.1,150.3L180.8,157.2L177.8,149.7Z" fill="#111"/><path d="M182.5,134.7L191.8,144.9" stroke="#111" stroke-width="2.1"/><path d="M195.5,149.0L189.4,146.5L193.6,142.6Z" fill="#111"/><path d="M181.9,122.9L181.6,125.6" stroke="#111" stroke-width="1.5"/><path d="M181.2,129.5L179.5,124.9L183.7,125.3Z" fill="#111"/><path d="M204.0,120.3L201.5,126.3" stroke="#111" stroke-width="2.1"/><path d="M199.4,131.4L199.1,124.8L204.4,127.0Z" fill="#111"/><path d="M224.2,119.7L220.8,126.5" stroke="#111" stroke-width="2.1"/><path d="M218.3,131.4L218.5,124.8L223.6,127.3Z" fill="#111"/><path d="M241.2,120.3L239.2,125.6" stroke="#111" stroke-width="2.1"/><path d="M237.2,130.8L236.7,124.1L242.0,126.2Z" fill="#111"/><path d="M259.4,126.2L257.8,128.3" stroke="#111" stroke-width="1.5"/><path d="M255.5,131.4L256.4,126.6L259.8,129.2Z" fill="#111"/><path d="M200.8,139.9L210.4,142.0" stroke="#111" stroke-width="2.1"/><path d="M215.7,143.1L209.3,144.7L210.5,139.1Z" fill="#111"/><path d="M230.7,137.3L227.1,143.0" stroke="#111" stroke-width="2.1"/><path d="M224.2,147.7L224.9,141.1L229.8,144.1Z" fill="#111"/><path d="M245.1,139.9L245.5,146.4" stroke="#111" stroke-width="1.5"/><path d="M245.7,150.3L243.3,146.1L247.5,145.8Z" fill="#111"/><path d="M265.3,140.5L270.0,142.0" stroke="#111" stroke-width="1.5"/><path d="M273.7,143.1L268.9,143.9L270.1,139.8Z" fill="#111"/><path d="M191.0,160.7L197.4,156.9" stroke="#111" stroke-width="1.5"/><path d="M200.8,154.9L198.1,159.0L195.9,155.3Z" fill="#111"/><path d="M256.1,155.5L257.7,157.1" stroke="#111" stroke-width="1.5"/><path d="M260.0,159.4L256.0,158.0L258.6,155.4Z" fill="#111"/><path d="M163.6,166.0L166.1,172.1" stroke="#111" stroke-width="1.5"/><path d="M167.5,175.7L163.9,172.4L167.8,170.9Z" fill="#111"/><path d="M183.2,175.7L183.2,169.9" stroke="#111" stroke-width="1.5"/><path d="M183.2,166.0L185.3,170.4L181.0,170.4Z" fill="#111"/><path d="M144.7,182.9L144.1,176.4" stroke="#111" stroke-width="1.5"/><path d="M143.7,172.5L146.2,176.6L142.0,177.1Z" fill="#111"/><path d="M197.5,179.6L201.5,180.3" stroke="#111" stroke-width="1.5"/><path d="M205.3,180.9L200.6,182.3L201.3,178.1Z" fill="#111"/><path d="M163.0,186.8L164.0,185.2" stroke="#111" stroke-width="1.5"/><path d="M165.6,182.9L165.1,186.5L162.4,184.8Z" fill="#111"/><path d="M152.5,187.5L158.2,190.3" stroke="#111" stroke-width="1.5"/><path d="M161.7,192.0L156.8,191.9L158.7,188.2Z" fill="#111"/><path d="M179.9,185.5L179.9,189.4" stroke="#111" stroke-width="1.5"/><path d="M179.9,193.3L177.8,188.9L182.0,188.9Z" fill="#111"/><path d="M146.0,192.0L147.5,193.5" stroke="#111" stroke-width="1.5"/><path d="M149.9,195.9L145.9,194.5L148.5,191.9Z" fill="#111"/><path d="M140.8,201.1L147.0,203.6" stroke="#111" stroke-width="1.5"/><path d="M150.6,205.1L145.7,205.4L147.3,201.5Z" fill="#111"/><path d="M189.0,205.7L194.2,202.2" stroke="#111" stroke-width="2.1"/><path d="M198.8,199.2L195.4,204.9L192.2,200.1Z" fill="#111"/><path d="M263.3,203.8L267.3,204.8" stroke="#111" stroke-width="1.5"/><path d="M271.1,205.7L266.3,206.7L267.4,202.6Z" fill="#111"/><path d="M192.9,104.7L193.5,106.4" stroke="#111" stroke-width="1.5"/><path d="M194.2,108.6L192.0,106.3L194.6,105.4Z" fill="#111"/>
<rect x="276" y="174" width="19.5" height="37.7" fill="#fff"/>
<text x="283.3" y="186.8" font-size="12.5" text-anchor="middle">1</text>
<path d="M274.3,196.7L286,196.7" stroke="#000" stroke-width="1.7"/><path d="M292,196.7L285.5,193.9L285.5,199.5Z" fill="#000"/>
</g>
<rect x="0" y="0" width="295.5" height="211.7" fill="none" stroke="#000" stroke-width="2.2"/>
<line x1="23.6" y1="211.7" x2="23.6" y2="218.2" stroke="#000" stroke-width="2"/>
<line x1="94.6" y1="211.7" x2="94.6" y2="218.2" stroke="#000" stroke-width="2"/>
<line x1="165.5" y1="211.7" x2="165.5" y2="218.2" stroke="#000" stroke-width="2"/>
<line x1="236.4" y1="211.7" x2="236.4" y2="218.2" stroke="#000" stroke-width="2"/>
<text x="23.6" y="236.7" font-size="17.3" text-anchor="middle">60E</text>
<text x="94.6" y="236.7" font-size="17.3" text-anchor="middle">120E</text>
<text x="165.5" y="236.7" font-size="17.3" text-anchor="middle">180</text>
<text x="236.4" y="236.7" font-size="17.3" text-anchor="middle">150W</text>
<text transform="translate(-2.2,-7.5) scale(0.97,1)" font-size="22.5">(l) SON</text>
<text transform="translate(297.7,-8.8) scale(0.965,1)" font-size="22.5" text-anchor="end">EqEN</text>
</g>
<rect x="66.50" y="799.5" width="89.75" height="13.0" fill="#2e0a78" stroke="#000" stroke-width="1"/>
<rect x="156.25" y="799.5" width="89.75" height="13.0" fill="#2100c4" stroke="#000" stroke-width="1"/>
<rect x="246.00" y="799.5" width="89.75" height="13.0" fill="#0a14ff" stroke="#000" stroke-width="1"/>
<rect x="335.75" y="799.5" width="89.75" height="13.0" fill="#3c78f5" stroke="#000" stroke-width="1"/>
<rect x="425.50" y="799.5" width="89.75" height="13.0" fill="#88bef8" stroke="#000" stroke-width="1"/>
<rect x="515.25" y="799.5" width="89.75" height="13.0" fill="#d4ecfd" stroke="#000" stroke-width="1"/>
<rect x="605.00" y="799.5" width="89.75" height="13.0" fill="#fff0e0" stroke="#000" stroke-width="1"/>
<rect x="694.75" y="799.5" width="89.75" height="13.0" fill="#ffc09a" stroke="#000" stroke-width="1"/>
<rect x="784.50" y="799.5" width="89.75" height="13.0" fill="#ff7850" stroke="#000" stroke-width="1"/>
<rect x="874.25" y="799.5" width="89.75" height="13.0" fill="#ff1408" stroke="#000" stroke-width="1"/>
<rect x="964.00" y="799.5" width="89.75" height="13.0" fill="#e0001a" stroke="#000" stroke-width="1"/>
<rect x="1053.75" y="799.5" width="89.75" height="13.0" fill="#a00028" stroke="#000" stroke-width="1"/>
<text x="156.25" y="829" font-size="16" text-anchor="middle">-1</text>
<text x="246.00" y="829" font-size="16" text-anchor="middle">-0.8</text>
<text x="335.75" y="829" font-size="16" text-anchor="middle">-0.6</text>
<text x="425.50" y="829" font-size="16" text-anchor="middle">-0.4</text>
<text x="515.25" y="829" font-size="16" text-anchor="middle">-0.2</text>
<text x="605.00" y="829" font-size="16" text-anchor="middle">0</text>
<text x="694.75" y="829" font-size="16" text-anchor="middle">0.2</text>
<text x="784.50" y="829" font-size="16" text-anchor="middle">0.4</text>
<text x="874.25" y="829" font-size="16" text-anchor="middle">0.6</text>
<text x="964.00" y="829" font-size="16" text-anchor="middle">0.8</text>
<text x="1053.75" y="829" font-size="16" text-anchor="middle">1</text>
<text x="1272" y="820.5" font-size="15" text-anchor="middle">K</text>
</g></svg></body></html>
